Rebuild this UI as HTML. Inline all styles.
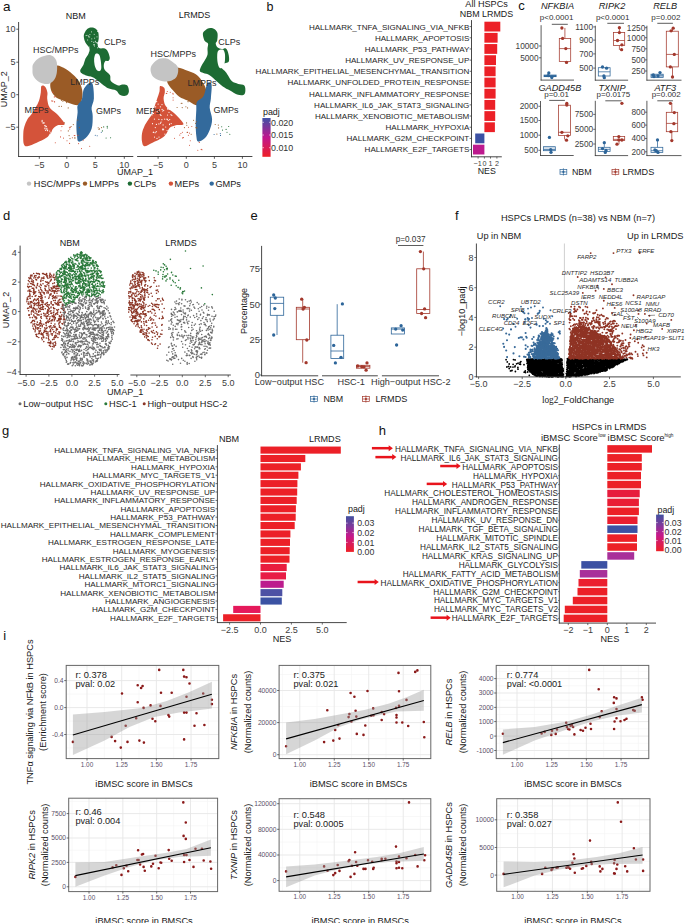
<!DOCTYPE html>
<html><head><meta charset="utf-8"><style>
html,body{margin:0;padding:0;background:#fff;}
svg{display:block;font-family:"Liberation Sans", sans-serif;}
</style></head><body>
<svg width="685" height="923" viewBox="0 0 685 923">
<rect width="685" height="923" fill="#fff"/>
<text x="3.00" y="10.60" font-size="13.5" text-anchor="start" fill="#111">a</text>
<path d="M41.4,86.1 C42.1,85.1 44.1,85.6 45.1,86.7 C46.1,87.8 47.1,90.5 47.4,92.5 C47.8,94.4 47.0,96.2 47.2,98.4 C47.4,100.6 47.9,103.5 48.6,105.4 C49.4,107.3 50.4,108.4 51.9,110.0 C53.4,111.5 55.6,112.3 57.7,114.7 C59.8,117.0 64.7,122.3 64.7,124.1 C64.7,125.9 59.6,124.4 57.7,125.2 C55.7,126.0 54.2,127.3 53.0,128.7 C51.8,130.1 51.9,131.8 50.7,133.4 C49.5,135.0 48.3,136.5 46.0,138.1 C43.7,139.6 39.8,141.4 36.7,142.7 C33.6,144.1 29.5,146.0 27.3,146.2 C25.1,146.4 24.5,146.0 23.8,143.9 C23.1,141.8 23.2,136.3 23.3,133.4 C23.4,130.5 23.7,128.7 24.4,126.4 C25.1,124.1 26.0,121.6 27.3,119.4 C28.6,117.3 30.6,115.5 32.0,113.5 C33.4,111.5 34.3,109.8 35.5,107.7 C36.7,105.6 38.1,103.2 39.0,100.7 C39.9,98.2 40.4,94.9 40.8,92.5 C41.2,90.1 40.7,87.1 41.4,86.1Z" fill="#d4533a" stroke="none" stroke-width="1"/>
<path d="M57.0,65.6 C58.7,65.3 62.9,67.3 65.8,69.1 C68.7,70.8 72.2,73.7 74.6,76.1 C76.9,78.4 78.5,80.4 79.8,83.1 C81.1,85.7 82.2,88.9 82.4,91.8 C82.7,94.7 82.3,98.4 81.6,100.6 C80.8,102.8 79.8,104.4 78.1,105.0 C76.3,105.5 73.4,104.4 71.1,103.7 C68.7,103.1 66.4,101.9 64.1,100.9 C61.7,100.0 58.9,99.2 57.0,98.0 C55.1,96.7 53.8,95.3 52.7,93.6 C51.6,91.8 50.7,89.5 50.4,87.4 C50.1,85.4 50.2,83.2 50.9,81.3 C51.6,79.4 53.5,77.8 54.4,76.1 C55.3,74.3 55.7,72.6 56.2,70.8 C56.6,69.1 55.4,65.8 57.0,65.6Z" fill="#9a5b26" stroke="none" stroke-width="1"/>
<path d="M33.4,63.8 C34.6,61.9 36.8,59.1 39.5,57.7 C42.3,56.2 47.3,54.6 50.0,55.0 C52.8,55.5 55.0,57.7 56.2,60.3 C57.3,62.9 57.3,67.6 57.0,70.8 C56.8,74.0 55.9,77.4 54.4,79.6 C53.0,81.8 50.8,83.5 48.3,83.9 C45.8,84.4 42.0,83.5 39.5,82.2 C37.0,80.9 34.6,78.3 33.4,76.1 C32.2,73.9 32.5,71.1 32.5,69.1 C32.5,67.0 32.2,65.7 33.4,63.8Z" fill="#c4c4c4" stroke="none" stroke-width="1"/>
<path d="M89.2,83.2 C90.3,83.0 91.9,81.8 92.7,84.3 C93.5,86.8 94.1,94.5 93.9,98.4 C93.7,102.3 91.8,104.8 91.6,107.7 C91.4,110.6 92.7,112.4 92.7,115.9 C92.7,119.4 92.8,125.0 91.6,128.7 C90.4,132.4 87.9,135.9 85.7,138.1 C83.6,140.2 80.2,142.0 78.7,141.6 C77.2,141.2 77.4,138.6 77.0,135.7 C76.6,132.8 76.3,127.9 76.4,124.0 C76.5,120.1 77.4,115.5 77.6,112.4 C77.8,109.3 76.9,107.5 77.6,105.4 C78.3,103.4 80.6,102.6 81.6,100.1 C82.6,97.6 82.6,92.6 83.4,90.2 C84.2,87.8 85.3,86.7 86.3,85.5 C87.3,84.3 88.1,83.4 89.2,83.2Z" fill="#336a9c" stroke="none" stroke-width="1"/>
<path d="M84.4,33.3 C85.0,31.8 86.3,29.7 87.5,28.7 C88.7,27.7 90.2,27.4 91.6,27.4 C92.9,27.4 94.6,27.9 95.7,28.7 C96.8,29.5 97.7,30.6 98.2,32.3 C98.7,33.9 98.8,36.3 98.7,38.4 C98.6,40.4 97.6,42.9 97.7,44.5 C97.8,46.1 98.0,47.4 99.2,48.1 C100.4,48.8 103.4,48.0 104.8,48.6 C106.3,49.2 107.1,50.1 107.9,51.7 C108.7,53.2 109.7,56.3 109.8,57.8 C109.8,59.3 109.2,60.4 108.4,60.9 C107.7,61.4 106.1,60.2 105.4,60.9 C104.6,61.6 103.9,63.4 103.8,65.0 C103.7,66.5 103.8,68.4 104.8,70.1 C105.9,71.8 108.9,73.3 110.0,75.2 C111.0,77.1 109.6,79.6 111.0,81.3 C112.3,83.0 116.3,84.9 118.1,85.4 C120.0,85.9 120.7,84.4 122.2,84.4 C123.8,84.4 126.2,84.2 127.3,85.4 C128.4,86.6 129.0,89.8 128.9,91.5 C128.7,93.2 127.8,95.0 126.3,95.6 C124.9,96.2 121.9,96.0 120.2,95.1 C118.5,94.3 118.0,91.6 116.1,90.5 C114.2,89.4 111.0,89.3 108.9,88.5 C106.9,87.6 105.5,86.6 103.8,85.4 C102.1,84.2 100.6,82.7 98.7,81.3 C96.8,79.9 94.8,78.2 92.6,77.2 C90.4,76.2 87.3,75.9 85.4,75.2 C83.6,74.5 82.2,74.0 81.3,73.1 C80.5,72.3 80.0,71.4 80.3,70.1 C80.7,68.7 82.5,66.8 83.4,65.0 C84.2,63.1 84.6,60.7 85.4,58.8 C86.3,57.0 87.8,55.4 88.5,53.7 C89.2,52.0 90.0,50.5 89.5,48.6 C89.0,46.7 86.4,44.4 85.4,42.5 C84.5,40.6 84.1,38.9 83.9,37.4 C83.7,35.8 83.8,34.7 84.4,33.3Z" fill="#1d6b33" stroke="none" stroke-width="1"/>
<path d="M160.1,86.1 C160.9,85.5 163.4,86.7 164.2,87.8 C165.0,88.9 164.9,90.7 164.8,92.5 C164.7,94.3 163.5,96.2 163.6,98.4 C163.7,100.6 164.3,103.5 165.4,105.4 C166.5,107.3 168.3,108.4 170.0,110.0 C171.8,111.5 173.7,112.3 175.9,114.7 C178.2,117.0 183.5,122.3 183.5,124.1 C183.5,125.9 178.2,124.6 175.9,125.2 C173.7,125.8 171.6,126.2 170.0,127.6 C168.4,129.0 167.9,131.7 166.5,133.4 C165.1,135.2 164.2,136.5 161.9,138.1 C159.6,139.6 155.4,141.4 152.5,142.7 C149.6,144.1 146.1,146.4 144.3,146.2 C142.6,146.0 142.4,143.7 142.0,141.6 C141.6,139.5 141.6,135.9 142.0,133.4 C142.4,130.9 143.3,128.5 144.3,126.4 C145.3,124.2 146.4,122.6 147.8,120.5 C149.2,118.3 151.3,116.0 152.5,113.5 C153.7,111.0 154.1,107.9 154.9,105.4 C155.7,102.9 156.4,100.7 157.2,98.4 C158.0,96.1 159.0,93.4 159.5,91.4 C160.0,89.3 159.3,86.7 160.1,86.1Z" fill="#d4533a" stroke="none" stroke-width="1"/>
<path d="M170.7,68.4 C172.3,67.2 176.0,67.2 178.8,67.7 C181.6,68.1 184.8,69.8 187.6,70.8 C190.3,71.9 193.1,72.4 195.4,74.0 C197.8,75.6 199.8,77.9 201.6,80.4 C203.3,83.0 205.4,86.1 206.0,89.2 C206.5,92.3 205.8,96.4 205.1,98.8 C204.3,101.3 203.2,103.1 201.6,104.1 C200.0,105.1 197.8,105.6 195.4,105.0 C193.1,104.4 190.2,102.0 187.6,100.6 C184.9,99.2 181.8,98.5 179.3,96.7 C176.8,95.0 174.7,92.6 172.7,90.1 C170.6,87.6 167.6,84.3 167.1,81.7 C166.5,79.0 168.5,76.5 169.2,74.3 C169.8,72.1 169.1,69.5 170.7,68.4Z" fill="#9a5b26" stroke="none" stroke-width="1"/>
<path d="M151.6,65.6 C152.8,63.5 155.3,60.6 157.8,59.4 C160.3,58.3 164.1,58.1 166.5,58.5 C169.0,59.0 170.8,60.6 172.7,62.0 C174.6,63.5 177.2,65.0 177.9,67.3 C178.7,69.6 178.1,73.9 177.0,76.1 C176.0,78.3 174.1,79.6 171.8,80.4 C169.5,81.3 166.0,81.8 163.0,81.3 C160.1,80.9 156.3,79.4 154.3,77.8 C152.2,76.2 151.2,73.7 150.8,71.7 C150.3,69.6 150.5,67.6 151.6,65.6Z" fill="#c4c4c4" stroke="none" stroke-width="1"/>
<path d="M207.4,83.2 C208.5,82.0 210.9,81.8 211.5,84.3 C212.1,86.8 211.2,94.5 210.9,98.4 C210.6,102.3 209.5,104.2 209.7,107.7 C209.9,111.2 212.1,115.7 212.1,119.4 C212.1,123.1 210.9,126.8 209.7,129.9 C208.5,133.0 206.9,136.1 205.0,138.1 C203.1,140.0 199.6,142.0 198.1,141.6 C196.7,141.2 196.7,138.6 196.3,135.7 C195.9,132.8 195.7,128.3 195.7,124.0 C195.7,119.7 196.1,113.7 196.3,110.0 C196.5,106.3 195.8,104.0 196.9,101.9 C198.0,99.8 201.3,99.0 202.7,97.2 C204.1,95.5 204.3,93.7 205.1,91.4 C205.9,89.1 206.3,84.4 207.4,83.2Z" fill="#336a9c" stroke="none" stroke-width="1"/>
<path d="M202.9,33.3 C203.2,31.5 204.8,30.6 206.0,29.7 C207.2,28.8 208.6,28.1 210.1,28.0 C211.5,27.9 213.4,28.3 214.7,29.2 C215.9,30.1 217.1,31.4 217.5,33.3 C217.9,35.2 217.5,38.7 217.2,40.4 C216.9,42.1 215.6,42.3 215.7,43.5 C215.8,44.7 216.7,46.7 217.7,47.6 C218.7,48.5 220.4,48.9 221.8,49.1 C223.2,49.3 224.8,47.8 225.9,48.6 C227.0,49.4 227.9,51.7 228.4,53.7 C229.0,55.8 229.4,59.3 229.0,60.9 C228.5,62.4 227.0,62.4 225.9,62.9 C224.8,63.4 223.0,63.1 222.3,63.9 C221.6,64.8 221.4,66.8 221.8,68.0 C222.2,69.2 223.8,69.9 224.9,71.1 C225.9,72.3 226.7,73.5 227.9,75.2 C229.1,76.9 230.3,79.9 232.0,81.3 C233.7,82.8 236.1,83.2 238.2,83.9 C240.2,84.6 243.1,84.1 244.3,85.4 C245.5,86.7 245.5,89.9 245.3,91.5 C245.1,93.1 244.6,94.6 243.3,95.1 C241.9,95.6 239.4,95.4 237.1,94.6 C234.9,93.8 232.4,91.9 230.0,90.5 C227.6,89.1 225.0,88.0 222.8,86.4 C220.6,84.9 218.9,83.2 216.7,81.3 C214.5,79.4 211.8,76.5 209.6,75.2 C207.3,73.8 205.0,73.8 203.4,73.1 C201.8,72.5 200.2,72.3 199.8,71.1 C199.5,69.9 200.6,67.7 201.4,66.0 C202.1,64.3 203.4,62.7 204.4,60.9 C205.5,59.0 207.0,56.8 207.5,54.7 C208.0,52.7 207.4,50.5 207.5,48.6 C207.6,46.7 208.5,44.9 208.0,43.5 C207.5,42.1 205.3,42.1 204.4,40.4 C203.6,38.7 202.6,35.1 202.9,33.3Z" fill="#1d6b33" stroke="none" stroke-width="1"/>
<line x1="18.60" y1="22.00" x2="18.60" y2="156.90" stroke="#333" stroke-width="0.9"/>
<line x1="18.20" y1="156.50" x2="133.30" y2="156.50" stroke="#333" stroke-width="0.9"/>
<line x1="16.30" y1="29.20" x2="18.60" y2="29.20" stroke="#333" stroke-width="0.8"/>
<text x="15.60" y="32.44" font-size="9.0" text-anchor="end" fill="#3d3d3d">10</text>
<line x1="16.30" y1="62.20" x2="18.60" y2="62.20" stroke="#333" stroke-width="0.8"/>
<text x="15.60" y="65.44" font-size="9.0" text-anchor="end" fill="#3d3d3d">5</text>
<line x1="16.30" y1="94.70" x2="18.60" y2="94.70" stroke="#333" stroke-width="0.8"/>
<text x="15.60" y="97.94" font-size="9.0" text-anchor="end" fill="#3d3d3d">0</text>
<line x1="16.30" y1="127.20" x2="18.60" y2="127.20" stroke="#333" stroke-width="0.8"/>
<text x="15.60" y="130.44" font-size="9.0" text-anchor="end" fill="#3d3d3d">−5</text>
<line x1="39.30" y1="156.50" x2="39.30" y2="158.80" stroke="#333" stroke-width="0.8"/>
<text x="39.30" y="167.94" font-size="9.0" text-anchor="middle" fill="#3d3d3d">−5</text>
<line x1="66.80" y1="156.50" x2="66.80" y2="158.80" stroke="#333" stroke-width="0.8"/>
<text x="66.80" y="167.94" font-size="9.0" text-anchor="middle" fill="#3d3d3d">0</text>
<line x1="95.30" y1="156.50" x2="95.30" y2="158.80" stroke="#333" stroke-width="0.8"/>
<text x="95.30" y="167.94" font-size="9.0" text-anchor="middle" fill="#3d3d3d">5</text>
<line x1="124.30" y1="156.50" x2="124.30" y2="158.80" stroke="#333" stroke-width="0.8"/>
<text x="124.30" y="167.94" font-size="9.0" text-anchor="middle" fill="#3d3d3d">10</text>
<line x1="137.10" y1="156.50" x2="252.40" y2="156.50" stroke="#333" stroke-width="0.9"/>
<line x1="158.10" y1="156.50" x2="158.10" y2="158.80" stroke="#333" stroke-width="0.8"/>
<text x="158.10" y="167.94" font-size="9.0" text-anchor="middle" fill="#3d3d3d">−5</text>
<line x1="186.30" y1="156.50" x2="186.30" y2="158.80" stroke="#333" stroke-width="0.8"/>
<text x="186.30" y="167.94" font-size="9.0" text-anchor="middle" fill="#3d3d3d">0</text>
<line x1="214.40" y1="156.50" x2="214.40" y2="158.80" stroke="#333" stroke-width="0.8"/>
<text x="214.40" y="167.94" font-size="9.0" text-anchor="middle" fill="#3d3d3d">5</text>
<line x1="242.40" y1="156.50" x2="242.40" y2="158.80" stroke="#333" stroke-width="0.8"/>
<text x="242.40" y="167.94" font-size="9.0" text-anchor="middle" fill="#3d3d3d">10</text>
<text x="135.00" y="174.74" font-size="9" text-anchor="middle" fill="#1a1a1a">UMAP_1</text>
<text transform="translate(4.20,89.20) rotate(-90)" x="0" y="3.24" font-size="9" text-anchor="middle" fill="#1a1a1a">UMAP_2</text>
<text x="75.70" y="18.74" font-size="9" text-anchor="middle" fill="#1a1a1a">NBM</text>
<text x="194.50" y="18.24" font-size="9" text-anchor="middle" fill="#1a1a1a">LRMDS</text>
<text x="32.90" y="53.10" font-size="9" text-anchor="start" fill="#2a2a2a">HSC/MPPs</text>
<text x="104.00" y="45.20" font-size="9" text-anchor="start" fill="#2a2a2a">CLPs</text>
<text x="70.20" y="85.00" font-size="9" text-anchor="start" fill="#2a2a2a">LMPPs</text>
<text x="24.60" y="112.80" font-size="9" text-anchor="start" fill="#2a2a2a">MEPs</text>
<text x="96.00" y="113.50" font-size="9" text-anchor="start" fill="#2a2a2a">GMPs</text>
<text x="218.20" y="45.20" font-size="9" text-anchor="start" fill="#2a2a2a">CLPs</text>
<text x="150.40" y="57.00" font-size="9" text-anchor="start" fill="#2a2a2a">HSC/MPPs</text>
<text x="187.60" y="85.50" font-size="9" text-anchor="start" fill="#2a2a2a">LMPPs</text>
<text x="135.90" y="113.50" font-size="9" text-anchor="start" fill="#2a2a2a">MEPs</text>
<text x="213.50" y="112.50" font-size="9" text-anchor="start" fill="#2a2a2a">GMPs</text>
<circle cx="29.00" cy="183.60" r="2.2" fill="#c4c4c4"/>
<text x="33.80" y="186.91" font-size="9.2" text-anchor="start" fill="#1a1a1a">HSC/MPPs</text>
<circle cx="85.00" cy="183.60" r="2.2" fill="#9a5b26"/>
<text x="89.20" y="186.91" font-size="9.2" text-anchor="start" fill="#1a1a1a">LMPPs</text>
<circle cx="129.90" cy="183.60" r="2.2" fill="#1d6b33"/>
<text x="133.70" y="186.91" font-size="9.2" text-anchor="start" fill="#1a1a1a">CLPs</text>
<circle cx="170.90" cy="183.60" r="2.2" fill="#d4533a"/>
<text x="174.60" y="186.91" font-size="9.2" text-anchor="start" fill="#1a1a1a">MEPs</text>
<circle cx="211.70" cy="183.60" r="2.2" fill="#336a9c"/>
<text x="215.40" y="186.91" font-size="9.2" text-anchor="start" fill="#1a1a1a">GMPs</text>
<path d="M60.5 136.9h0M63.5 138.1h0M69.4 127.3h0M55.3 142.7h0M61.0 130.7h0M77.9 135.4h0M74.2 135.5h0M69.7 129.0h0M69.6 143.4h0M67.0 140.8h0M70.4 127.3h0M72.4 137.8h0M61.9 126.6h0M74.9 135.5h0" stroke="#d4533a" stroke-width="1.10" stroke-linecap="round" fill="none"/>
<path d="M74.9 137.3h0M74.9 138.3h0M69.1 135.6h0M70.0 138.6h0M77.8 120.1h0M64.4 122.8h0M79.4 127.6h0M73.3 124.6h0M71.1 126.5h0M68.3 130.9h0" stroke="#9a5b26" stroke-width="1.10" stroke-linecap="round" fill="none"/>
<path d="M51.8 100.9h0M52.8 101.1h0M54.6 101.9h0M52.7 92.0h0M54.6 101.6h0M55.0 96.8h0M53.1 92.5h0M54.3 96.9h0" stroke="#d4533a" stroke-width="1.10" stroke-linecap="round" fill="none"/>
<path d="M61.4 100.5h0M68.2 107.9h0M59.1 106.4h0M62.9 101.2h0M61.5 106.2h0M68.5 100.4h0M65.4 100.4h0M66.6 102.6h0" stroke="#9a5b26" stroke-width="1.10" stroke-linecap="round" fill="none"/>
<path d="M110.6 137.8h0M106.1 138.0h0M103.7 126.9h0M107.2 126.4h0M102.4 130.9h0M107.3 127.9h0" stroke="#1d6b33" stroke-width="1.10" stroke-linecap="round" fill="none"/>
<path d="M95.3 135.2h0M97.2 135.8h0M101.3 132.3h0" stroke="#336a9c" stroke-width="1.10" stroke-linecap="round" fill="none"/>
<path d="M98.2 127.8h0M99.5 128.9h0M98.9 129.3h0M101.6 127.6h0" stroke="#9a5b26" stroke-width="1.10" stroke-linecap="round" fill="none"/>
<path d="M81.5 148.6h0M78.6 143.6h0M89.7 146.3h0M83.2 140.1h0" stroke="#d4533a" stroke-width="1.10" stroke-linecap="round" fill="none"/>
<path d="M183.5 137.6h0M174.5 138.3h0M188.5 127.2h0M188.4 135.3h0M189.6 133.1h0M190.3 140.8h0M174.5 127.2h0M189.5 145.3h0M179.8 135.1h0M187.6 132.4h0M182.4 132.3h0M182.5 137.9h0M180.9 133.5h0M191.8 126.5h0" stroke="#d4533a" stroke-width="1.10" stroke-linecap="round" fill="none"/>
<path d="M191.2 134.2h0M186.6 122.9h0M195.5 123.3h0M184.4 127.6h0M193.6 120.2h0M186.8 125.3h0M196.0 127.6h0M196.4 121.7h0M187.1 132.3h0M196.9 127.9h0" stroke="#9a5b26" stroke-width="1.10" stroke-linecap="round" fill="none"/>
<path d="M167.3 91.5h0M170.3 92.3h0M173.1 100.1h0M166.8 93.3h0M173.1 97.7h0M173.1 94.1h0M166.3 93.5h0M172.9 93.3h0" stroke="#d4533a" stroke-width="1.10" stroke-linecap="round" fill="none"/>
<path d="M181.2 103.3h0M182.0 103.3h0M188.0 101.2h0M177.1 107.5h0M187.6 107.9h0M182.2 107.6h0M188.1 101.8h0M185.9 106.7h0" stroke="#9a5b26" stroke-width="1.10" stroke-linecap="round" fill="none"/>
<path d="M227.0 132.2h0M222.5 130.1h0M221.7 126.8h0M226.1 129.4h0M228.7 126.5h0M229.8 134.3h0" stroke="#1d6b33" stroke-width="1.10" stroke-linecap="round" fill="none"/>
<path d="M220.5 135.4h0M220.3 133.5h0M214.1 134.5h0" stroke="#336a9c" stroke-width="1.10" stroke-linecap="round" fill="none"/>
<path d="M215.2 124.5h0M218.6 127.9h0M216.9 134.1h0M218.3 125.1h0" stroke="#9a5b26" stroke-width="1.10" stroke-linecap="round" fill="none"/>
<path d="M197.8 150.3h0M201.2 149.4h0M199.3 142.4h0M202.0 149.8h0" stroke="#d4533a" stroke-width="1.10" stroke-linecap="round" fill="none"/>
<path d="M218.2,50.7 C219.2,49.6 221.7,49.1 222.8,49.6 C223.9,50.1 224.5,51.8 224.9,53.7 C225.2,55.6 225.1,58.7 224.9,60.9 C224.6,63.1 224.2,65.8 223.3,67.0 C222.5,68.2 220.7,68.7 219.8,68.0 C218.8,67.3 218.1,65.0 217.7,62.9 C217.3,60.9 217.1,57.8 217.2,55.8 C217.3,53.7 217.3,51.7 218.2,50.7Z" fill="#fff" stroke="none" stroke-width="1"/>
<path d="M95.7,53.7 C96.5,53.0 98.4,53.6 99.2,54.7 C100.1,55.9 100.4,58.7 100.8,60.9 C101.1,63.1 101.4,66.3 101.3,68.0 C101.1,69.7 100.5,70.8 99.7,71.1 C99.0,71.4 97.5,71.1 96.7,70.1 C95.8,69.0 95.1,66.8 94.6,65.0 C94.2,63.1 94.0,60.7 94.1,58.8 C94.3,57.0 94.8,54.4 95.7,53.7Z" fill="#fff" stroke="none" stroke-width="1"/>
<path d="M155.3 127.6h0M164.7 119.2h0M156.3 131.7h0M168.2 120.5h0M162.1 109.4h0M152.1 114.8h0M167.9 109.3h0M156.7 101.7h0M172.0 129.5h0M169.5 124.6h0M152.7 113.2h0M162.0 104.6h0M171.0 114.7h0M155.1 132.7h0M154.5 137.1h0M161.1 122.1h0M158.9 119.4h0M155.7 101.5h0M169.3 109.4h0M167.6 108.3h0M171.4 135.8h0M167.1 130.5h0M163.6 129.2h0M154.4 119.1h0M168.5 108.0h0M170.5 135.5h0M160.2 114.6h0M161.0 115.4h0M171.9 115.5h0M152.5 103.7h0M166.4 139.7h0M161.9 119.7h0M163.0 129.9h0M156.4 124.4h0M163.1 124.9h0M155.6 106.8h0M159.0 137.1h0M158.9 123.9h0M158.1 104.1h0M153.3 132.5h0M167.5 115.0h0M165.7 127.0h0M170.0 138.3h0M160.1 139.6h0M171.2 123.6h0M169.7 119.6h0M159.5 109.9h0M169.5 106.5h0M153.4 132.2h0M167.5 119.3h0M157.2 111.6h0M160.4 106.8h0M153.4 113.5h0M170.0 139.3h0M166.9 119.2h0M157.0 138.4h0M162.5 129.1h0M152.6 108.5h0M168.8 131.8h0M169.6 124.1h0M160.5 123.2h0M169.0 112.3h0M162.7 111.0h0M165.7 138.2h0M152.5 123.7h0M164.9 134.1h0M163.7 110.3h0" stroke="#fff" stroke-width="1.20" stroke-linecap="round" fill="none"/>
<path d="M47.0 128.3h0M42.0 121.8h0M42.1 120.3h0M50.3 132.9h0M46.3 129.1h0M43.0 123.3h0M46.0 126.8h0M43.0 122.8h0M49.8 131.1h0M44.9 128.7h0M44.2 122.9h0M47.7 130.1h0M44.9 128.0h0M44.7 125.6h0M49.3 135.5h0M47.3 130.0h0M45.4 125.7h0M45.7 130.4h0M50.4 135.1h0M49.8 134.6h0M43.6 122.9h0M46.4 126.3h0M47.6 130.7h0M45.2 126.0h0M42.2 121.0h0" stroke="#fff" stroke-width="1.10" stroke-linecap="round" fill="none"/>
<path d="M94.5 44.7h0M94.7 38.2h0M88.8 36.9h0M91.8 41.4h0M97.6 31.5h0M91.8 38.9h0M94.6 46.0h0M95.4 41.3h0M95.1 42.0h0M96.3 42.6h0M94.2 34.4h0M97.0 36.9h0M93.4 44.8h0M97.6 47.8h0M86.1 35.6h0M89.7 37.0h0M87.7 40.0h0M87.0 35.4h0M97.3 43.4h0M91.5 31.9h0M97.5 42.7h0M88.5 36.0h0M93.7 42.3h0M89.1 47.1h0M89.9 34.6h0" stroke="#e8f0e8" stroke-width="1.00" stroke-linecap="round" fill="none"/>
<text x="266.50" y="10.60" font-size="12.5" text-anchor="start" fill="#111">b</text>
<defs>
<linearGradient id="padjg" x1="0" y1="0" x2="0" y2="1">
<stop offset="0" stop-color="#3f51a6"/><stop offset="0.5" stop-color="#c0168e"/><stop offset="1" stop-color="#ee2026"/>
</linearGradient></defs>
<text x="469.30" y="29.51" font-size="8.07" text-anchor="end" fill="#262626">HALLMARK_TNFA_SIGNALING_VIA_NFKB</text>
<line x1="469.60" y1="26.60" x2="471.50" y2="26.60" stroke="#333" stroke-width="0.7"/>
<rect x="484.40" y="21.70" width="15.90" height="9.80" fill="#ec2027" stroke="none" stroke-width="0.8"/>
<text x="469.30" y="40.69" font-size="8.07" text-anchor="end" fill="#262626">HALLMARK_APOPTOSIS</text>
<line x1="469.60" y1="37.78" x2="471.50" y2="37.78" stroke="#333" stroke-width="0.7"/>
<rect x="484.40" y="32.88" width="13.20" height="9.80" fill="#ec2027" stroke="none" stroke-width="0.8"/>
<text x="469.30" y="51.87" font-size="8.07" text-anchor="end" fill="#262626">HALLMARK_P53_PATHWAY</text>
<line x1="469.60" y1="48.96" x2="471.50" y2="48.96" stroke="#333" stroke-width="0.7"/>
<rect x="484.40" y="44.06" width="12.80" height="9.80" fill="#ec2027" stroke="none" stroke-width="0.8"/>
<text x="469.30" y="63.05" font-size="8.07" text-anchor="end" fill="#262626">HALLMARK_UV_RESPONSE_UP</text>
<line x1="469.60" y1="60.14" x2="471.50" y2="60.14" stroke="#333" stroke-width="0.7"/>
<rect x="484.40" y="55.24" width="11.60" height="9.80" fill="#ec2027" stroke="none" stroke-width="0.8"/>
<text x="469.30" y="74.23" font-size="8.07" text-anchor="end" fill="#262626">HALLMARK_EPITHELIAL_MESENCHYMAL_TRANSITION</text>
<line x1="469.60" y1="71.32" x2="471.50" y2="71.32" stroke="#333" stroke-width="0.7"/>
<rect x="484.40" y="66.42" width="11.20" height="9.80" fill="#ec2027" stroke="none" stroke-width="0.8"/>
<text x="469.30" y="85.41" font-size="8.07" text-anchor="end" fill="#262626">HALLMARK_UNFOLDED_PROTEIN_RESPONSE</text>
<line x1="469.60" y1="82.50" x2="471.50" y2="82.50" stroke="#333" stroke-width="0.7"/>
<rect x="484.40" y="77.60" width="11.20" height="9.80" fill="#ec2027" stroke="none" stroke-width="0.8"/>
<text x="469.30" y="96.59" font-size="8.07" text-anchor="end" fill="#262626">HALLMARK_INFLAMMATORY_RESPONSE</text>
<line x1="469.60" y1="93.68" x2="471.50" y2="93.68" stroke="#333" stroke-width="0.7"/>
<rect x="484.40" y="88.78" width="11.20" height="9.80" fill="#ec2027" stroke="none" stroke-width="0.8"/>
<text x="469.30" y="107.77" font-size="8.07" text-anchor="end" fill="#262626">HALLMARK_IL6_JAK_STAT3_SIGNALING</text>
<line x1="469.60" y1="104.86" x2="471.50" y2="104.86" stroke="#333" stroke-width="0.7"/>
<rect x="484.40" y="99.96" width="10.80" height="9.80" fill="#ec2027" stroke="none" stroke-width="0.8"/>
<text x="469.30" y="118.95" font-size="8.07" text-anchor="end" fill="#262626">HALLMARK_XENOBIOTIC_METABOLISM</text>
<line x1="469.60" y1="116.04" x2="471.50" y2="116.04" stroke="#333" stroke-width="0.7"/>
<rect x="484.40" y="111.14" width="10.80" height="9.80" fill="#ec2027" stroke="none" stroke-width="0.8"/>
<text x="469.30" y="130.13" font-size="8.07" text-anchor="end" fill="#262626">HALLMARK_HYPOXIA</text>
<line x1="469.60" y1="127.22" x2="471.50" y2="127.22" stroke="#333" stroke-width="0.7"/>
<rect x="484.40" y="122.32" width="10.50" height="9.80" fill="#ec2027" stroke="none" stroke-width="0.8"/>
<text x="469.30" y="141.31" font-size="8.07" text-anchor="end" fill="#262626">HALLMARK_G2M_CHECKPOINT</text>
<line x1="469.60" y1="138.40" x2="471.50" y2="138.40" stroke="#333" stroke-width="0.7"/>
<rect x="475.20" y="133.50" width="9.20" height="9.80" fill="#3c51a3" stroke="none" stroke-width="0.8"/>
<text x="469.30" y="152.49" font-size="8.07" text-anchor="end" fill="#262626">HALLMARK_E2F_TARGETS</text>
<line x1="469.60" y1="149.58" x2="471.50" y2="149.58" stroke="#333" stroke-width="0.7"/>
<rect x="473.00" y="144.68" width="11.40" height="9.80" fill="#bd1a8e" stroke="none" stroke-width="0.8"/>
<line x1="471.50" y1="20.10" x2="471.50" y2="157.20" stroke="#333" stroke-width="0.9"/>
<line x1="471.10" y1="156.80" x2="501.80" y2="156.80" stroke="#333" stroke-width="0.9"/>
<line x1="478.10" y1="156.80" x2="478.10" y2="158.60" stroke="#333" stroke-width="0.7"/>
<line x1="484.40" y1="156.80" x2="484.40" y2="158.60" stroke="#333" stroke-width="0.7"/>
<line x1="490.50" y1="156.80" x2="490.50" y2="158.60" stroke="#333" stroke-width="0.7"/>
<line x1="496.90" y1="156.80" x2="496.90" y2="158.60" stroke="#333" stroke-width="0.7"/>
<text x="477.70" y="165.89" font-size="7.2" text-anchor="middle" fill="#3d3d3d">−1</text>
<text x="484.60" y="165.89" font-size="7.2" text-anchor="middle" fill="#3d3d3d">0</text>
<text x="490.60" y="165.89" font-size="7.2" text-anchor="middle" fill="#3d3d3d">1</text>
<text x="497.00" y="165.89" font-size="7.2" text-anchor="middle" fill="#3d3d3d">2</text>
<text x="486.80" y="174.37" font-size="8.8" text-anchor="middle" fill="#1a1a1a">NES</text>
<text x="486.60" y="7.00" font-size="9.1" text-anchor="middle" fill="#1a1a1a">All HSPCs</text>
<text x="486.50" y="17.10" font-size="8.9" text-anchor="middle" fill="#1a1a1a">NBM LRMDS</text>
<text x="263.00" y="115.30" font-size="8.9" text-anchor="start" fill="#1a1a1a">padj</text>
<rect x="262.40" y="118.00" width="8.20" height="38.80" fill="url(#padjg)" stroke="none" stroke-width="0.8"/>
<text x="271.00" y="125.50" font-size="8.9" text-anchor="start" fill="#333">0.020</text>
<line x1="262.40" y1="122.30" x2="264.00" y2="122.30" stroke="#fff" stroke-width="0.6"/>
<line x1="269.00" y1="122.30" x2="270.60" y2="122.30" stroke="#fff" stroke-width="0.6"/>
<text x="271.00" y="138.20" font-size="8.9" text-anchor="start" fill="#333">0.015</text>
<line x1="262.40" y1="135.00" x2="264.00" y2="135.00" stroke="#fff" stroke-width="0.6"/>
<line x1="269.00" y1="135.00" x2="270.60" y2="135.00" stroke="#fff" stroke-width="0.6"/>
<text x="271.00" y="150.90" font-size="8.9" text-anchor="start" fill="#333">0.010</text>
<line x1="262.40" y1="147.70" x2="264.00" y2="147.70" stroke="#fff" stroke-width="0.6"/>
<line x1="269.00" y1="147.70" x2="270.60" y2="147.70" stroke="#fff" stroke-width="0.6"/>
<text x="518.30" y="9.90" font-size="13" text-anchor="start" fill="#111">c</text>
<text x="557.50" y="9.20" font-size="9.2" text-anchor="middle" fill="#1a1a1a" font-style="italic">NFKBIA</text>
<text x="556.60" y="19.60" font-size="8.0" text-anchor="middle" fill="#333">p&lt;0.0001</text>
<line x1="551.80" y1="24.30" x2="567.80" y2="24.30" stroke="#333" stroke-width="0.8"/>
<line x1="541.10" y1="25.20" x2="541.10" y2="80.50" stroke="#333" stroke-width="0.8"/>
<line x1="540.70" y1="80.10" x2="574.00" y2="80.10" stroke="#333" stroke-width="0.8"/>
<line x1="539.00" y1="46.00" x2="541.10" y2="46.00" stroke="#333" stroke-width="0.7"/>
<text x="538.60" y="48.99" font-size="8.3" text-anchor="end" fill="#3d3d3d">10000</text>
<line x1="539.00" y1="57.80" x2="541.10" y2="57.80" stroke="#333" stroke-width="0.7"/>
<text x="538.60" y="60.79" font-size="8.3" text-anchor="end" fill="#3d3d3d">5000</text>
<rect x="544.20" y="75.20" width="11.80" height="1.30" fill="none" stroke="#2d6599" stroke-width="1.1"/>
<line x1="544.20" y1="75.90" x2="556.00" y2="75.90" stroke="#2d6599" stroke-width="1.1"/>
<circle cx="548.80" cy="72.90" r="1.65" fill="#2d6599"/>
<circle cx="551.80" cy="77.50" r="1.65" fill="#2d6599"/>
<circle cx="548.20" cy="75.60" r="1.65" fill="#2d6599"/>
<line x1="564.90" y1="27.90" x2="564.90" y2="38.40" stroke="#a3382c" stroke-width="0.75"/>
<rect x="559.30" y="38.40" width="11.40" height="23.10" fill="none" stroke="#a3382c" stroke-width="0.75"/>
<line x1="559.30" y1="48.60" x2="570.70" y2="48.60" stroke="#a3382c" stroke-width="0.75"/>
<circle cx="561.90" cy="28.00" r="1.65" fill="#a3382c"/>
<circle cx="562.60" cy="38.40" r="1.65" fill="#a3382c"/>
<circle cx="565.80" cy="48.60" r="1.65" fill="#a3382c"/>
<circle cx="566.50" cy="62.40" r="1.65" fill="#a3382c"/>
<text x="612.00" y="8.60" font-size="9.2" text-anchor="middle" fill="#1a1a1a" font-style="italic">RIPK2</text>
<text x="612.70" y="19.50" font-size="8.0" text-anchor="middle" fill="#333">p&lt;0.0001</text>
<line x1="607.30" y1="23.30" x2="624.00" y2="23.30" stroke="#333" stroke-width="0.8"/>
<line x1="595.30" y1="25.70" x2="595.30" y2="80.60" stroke="#333" stroke-width="0.8"/>
<line x1="594.90" y1="80.20" x2="628.10" y2="80.20" stroke="#333" stroke-width="0.8"/>
<line x1="593.20" y1="26.90" x2="595.30" y2="26.90" stroke="#333" stroke-width="0.7"/>
<text x="593.00" y="29.89" font-size="8.3" text-anchor="end" fill="#3d3d3d">1100</text>
<line x1="593.20" y1="40.10" x2="595.30" y2="40.10" stroke="#333" stroke-width="0.7"/>
<text x="593.00" y="43.09" font-size="8.3" text-anchor="end" fill="#3d3d3d">900</text>
<line x1="593.20" y1="53.90" x2="595.30" y2="53.90" stroke="#333" stroke-width="0.7"/>
<text x="593.00" y="56.89" font-size="8.3" text-anchor="end" fill="#3d3d3d">700</text>
<line x1="593.20" y1="68.10" x2="595.30" y2="68.10" stroke="#333" stroke-width="0.7"/>
<text x="593.00" y="71.09" font-size="8.3" text-anchor="end" fill="#3d3d3d">500</text>
<line x1="604.20" y1="76.00" x2="604.20" y2="77.70" stroke="#2d6599" stroke-width="0.75"/>
<rect x="598.30" y="67.70" width="11.80" height="8.30" fill="none" stroke="#2d6599" stroke-width="0.75"/>
<line x1="598.30" y1="71.80" x2="610.10" y2="71.80" stroke="#2d6599" stroke-width="0.75"/>
<circle cx="602.50" cy="67.00" r="1.65" fill="#2d6599"/>
<circle cx="606.60" cy="68.20" r="1.65" fill="#2d6599"/>
<circle cx="603.90" cy="76.00" r="1.65" fill="#2d6599"/>
<circle cx="604.30" cy="77.70" r="1.65" fill="#2d6599"/>
<line x1="619.40" y1="27.70" x2="619.40" y2="32.60" stroke="#a3382c" stroke-width="0.75"/>
<line x1="619.40" y1="45.40" x2="619.40" y2="49.90" stroke="#a3382c" stroke-width="0.75"/>
<rect x="613.60" y="32.60" width="11.10" height="12.80" fill="none" stroke="#a3382c" stroke-width="0.75"/>
<line x1="613.60" y1="40.50" x2="624.70" y2="40.50" stroke="#a3382c" stroke-width="0.75"/>
<circle cx="619.40" cy="27.70" r="1.65" fill="#a3382c"/>
<circle cx="619.40" cy="32.60" r="1.65" fill="#a3382c"/>
<circle cx="617.50" cy="40.50" r="1.65" fill="#a3382c"/>
<circle cx="621.90" cy="44.80" r="1.65" fill="#a3382c"/>
<circle cx="621.60" cy="49.70" r="1.65" fill="#a3382c"/>
<text x="665.20" y="8.60" font-size="9.2" text-anchor="middle" fill="#1a1a1a" font-style="italic">RELB</text>
<text x="665.90" y="19.50" font-size="8.0" text-anchor="middle" fill="#333">p=0.002</text>
<line x1="657.30" y1="23.30" x2="672.90" y2="23.30" stroke="#333" stroke-width="0.8"/>
<line x1="646.90" y1="25.70" x2="646.90" y2="80.60" stroke="#333" stroke-width="0.8"/>
<line x1="646.50" y1="80.20" x2="681.50" y2="80.20" stroke="#333" stroke-width="0.8"/>
<line x1="644.80" y1="27.70" x2="646.90" y2="27.70" stroke="#333" stroke-width="0.7"/>
<text x="645.30" y="30.69" font-size="8.3" text-anchor="end" fill="#3d3d3d">1250</text>
<line x1="644.80" y1="37.70" x2="646.90" y2="37.70" stroke="#333" stroke-width="0.7"/>
<text x="645.30" y="40.69" font-size="8.3" text-anchor="end" fill="#3d3d3d">1000</text>
<line x1="644.80" y1="48.80" x2="646.90" y2="48.80" stroke="#333" stroke-width="0.7"/>
<text x="645.30" y="51.79" font-size="8.3" text-anchor="end" fill="#3d3d3d">750</text>
<line x1="644.80" y1="59.90" x2="646.90" y2="59.90" stroke="#333" stroke-width="0.7"/>
<text x="645.30" y="62.89" font-size="8.3" text-anchor="end" fill="#3d3d3d">500</text>
<line x1="644.80" y1="71.00" x2="646.90" y2="71.00" stroke="#333" stroke-width="0.7"/>
<text x="645.30" y="73.99" font-size="8.3" text-anchor="end" fill="#3d3d3d">250</text>
<rect x="651.00" y="74.20" width="12.20" height="3.20" fill="#c9d8e8" stroke="#2d6599" stroke-width="0.75"/>
<line x1="651.00" y1="75.80" x2="663.20" y2="75.80" stroke="#2d6599" stroke-width="0.75"/>
<circle cx="653.30" cy="75.00" r="1.65" fill="#2d6599"/>
<circle cx="654.00" cy="76.60" r="1.65" fill="#2d6599"/>
<circle cx="660.00" cy="72.60" r="1.65" fill="#2d6599"/>
<circle cx="658.00" cy="76.00" r="1.65" fill="#2d6599"/>
<line x1="672.50" y1="28.40" x2="672.50" y2="31.20" stroke="#a3382c" stroke-width="0.75"/>
<line x1="672.50" y1="66.90" x2="672.50" y2="77.00" stroke="#a3382c" stroke-width="0.75"/>
<rect x="666.30" y="31.20" width="12.00" height="35.70" fill="none" stroke="#a3382c" stroke-width="0.75"/>
<line x1="666.30" y1="54.40" x2="678.30" y2="54.40" stroke="#a3382c" stroke-width="0.75"/>
<circle cx="673.20" cy="28.20" r="1.65" fill="#a3382c"/>
<circle cx="671.10" cy="30.80" r="1.65" fill="#a3382c"/>
<circle cx="674.30" cy="54.40" r="1.65" fill="#a3382c"/>
<circle cx="670.40" cy="66.90" r="1.65" fill="#a3382c"/>
<circle cx="672.50" cy="77.00" r="1.65" fill="#a3382c"/>
<text x="559.90" y="90.80" font-size="9.2" text-anchor="middle" fill="#1a1a1a" font-style="italic">GADD45B</text>
<text x="556.60" y="97.00" font-size="8.0" text-anchor="middle" fill="#333">p=0.01</text>
<line x1="549.20" y1="100.40" x2="564.90" y2="100.40" stroke="#333" stroke-width="0.8"/>
<line x1="540.50" y1="101.00" x2="540.50" y2="155.90" stroke="#333" stroke-width="0.8"/>
<line x1="540.10" y1="155.50" x2="573.70" y2="155.50" stroke="#333" stroke-width="0.8"/>
<line x1="538.40" y1="106.30" x2="540.50" y2="106.30" stroke="#333" stroke-width="0.7"/>
<text x="538.20" y="109.29" font-size="8.3" text-anchor="end" fill="#3d3d3d">2000</text>
<line x1="538.40" y1="120.50" x2="540.50" y2="120.50" stroke="#333" stroke-width="0.7"/>
<text x="538.20" y="123.49" font-size="8.3" text-anchor="end" fill="#3d3d3d">1500</text>
<line x1="538.40" y1="135.20" x2="540.50" y2="135.20" stroke="#333" stroke-width="0.7"/>
<text x="538.20" y="138.19" font-size="8.3" text-anchor="end" fill="#3d3d3d">1000</text>
<line x1="538.40" y1="150.30" x2="540.50" y2="150.30" stroke="#333" stroke-width="0.7"/>
<text x="538.20" y="153.29" font-size="8.3" text-anchor="end" fill="#3d3d3d">500</text>
<rect x="543.50" y="146.70" width="11.80" height="4.00" fill="#d5e1ec" stroke="#2d6599" stroke-width="0.75"/>
<line x1="543.50" y1="149.60" x2="555.30" y2="149.60" stroke="#2d6599" stroke-width="0.75"/>
<circle cx="549.40" cy="137.40" r="1.65" fill="#2d6599"/>
<circle cx="550.70" cy="149.60" r="1.65" fill="#2d6599"/>
<circle cx="551.00" cy="152.30" r="1.65" fill="#2d6599"/>
<line x1="564.50" y1="135.40" x2="564.50" y2="139.50" stroke="#a3382c" stroke-width="0.75"/>
<rect x="558.40" y="105.20" width="12.00" height="30.20" fill="none" stroke="#a3382c" stroke-width="0.75"/>
<line x1="558.40" y1="132.30" x2="570.40" y2="132.30" stroke="#a3382c" stroke-width="0.75"/>
<circle cx="566.80" cy="103.40" r="1.65" fill="#a3382c"/>
<circle cx="566.80" cy="105.00" r="1.65" fill="#a3382c"/>
<circle cx="561.90" cy="132.30" r="1.65" fill="#a3382c"/>
<circle cx="567.80" cy="135.80" r="1.65" fill="#a3382c"/>
<circle cx="566.50" cy="140.20" r="1.65" fill="#a3382c"/>
<text x="612.00" y="90.80" font-size="9.2" text-anchor="middle" fill="#1a1a1a" font-style="italic">TXNIP</text>
<text x="613.40" y="97.00" font-size="8.0" text-anchor="middle" fill="#333">p=0.0175</text>
<line x1="605.30" y1="100.80" x2="621.60" y2="100.80" stroke="#333" stroke-width="0.8"/>
<line x1="595.30" y1="100.80" x2="595.30" y2="156.00" stroke="#333" stroke-width="0.8"/>
<line x1="594.90" y1="155.60" x2="628.10" y2="155.60" stroke="#333" stroke-width="0.8"/>
<line x1="593.20" y1="114.40" x2="595.30" y2="114.40" stroke="#333" stroke-width="0.7"/>
<text x="593.20" y="117.39" font-size="8.3" text-anchor="end" fill="#3d3d3d">7500</text>
<line x1="593.20" y1="129.30" x2="595.30" y2="129.30" stroke="#333" stroke-width="0.7"/>
<text x="593.20" y="132.29" font-size="8.3" text-anchor="end" fill="#3d3d3d">5000</text>
<line x1="593.20" y1="144.00" x2="595.30" y2="144.00" stroke="#333" stroke-width="0.7"/>
<text x="593.20" y="146.99" font-size="8.3" text-anchor="end" fill="#3d3d3d">2500</text>
<line x1="604.30" y1="142.70" x2="604.30" y2="147.30" stroke="#2d6599" stroke-width="0.75"/>
<rect x="598.30" y="147.30" width="11.80" height="4.10" fill="none" stroke="#2d6599" stroke-width="0.75"/>
<line x1="598.30" y1="149.30" x2="610.10" y2="149.30" stroke="#2d6599" stroke-width="0.75"/>
<circle cx="604.30" cy="142.70" r="1.65" fill="#2d6599"/>
<circle cx="602.50" cy="148.60" r="1.65" fill="#2d6599"/>
<circle cx="606.00" cy="150.50" r="1.65" fill="#2d6599"/>
<circle cx="605.30" cy="152.40" r="1.65" fill="#2d6599"/>
<line x1="619.00" y1="140.60" x2="619.00" y2="144.30" stroke="#a3382c" stroke-width="0.75"/>
<rect x="613.30" y="136.60" width="11.40" height="4.00" fill="none" stroke="#a3382c" stroke-width="0.75"/>
<line x1="613.30" y1="139.40" x2="624.70" y2="139.40" stroke="#a3382c" stroke-width="0.75"/>
<circle cx="621.90" cy="103.30" r="1.65" fill="#a3382c"/>
<circle cx="618.80" cy="136.60" r="1.65" fill="#a3382c"/>
<circle cx="618.80" cy="139.90" r="1.65" fill="#a3382c"/>
<circle cx="621.90" cy="140.00" r="1.65" fill="#a3382c"/>
<circle cx="617.00" cy="144.20" r="1.65" fill="#a3382c"/>
<text x="665.30" y="90.80" font-size="9.2" text-anchor="middle" fill="#1a1a1a" font-style="italic">ATF3</text>
<text x="666.20" y="97.00" font-size="8.0" text-anchor="middle" fill="#333">p=0.002</text>
<line x1="657.30" y1="100.80" x2="672.90" y2="100.80" stroke="#333" stroke-width="0.8"/>
<line x1="646.90" y1="100.80" x2="646.90" y2="156.00" stroke="#333" stroke-width="0.8"/>
<line x1="646.50" y1="155.60" x2="681.50" y2="155.60" stroke="#333" stroke-width="0.8"/>
<line x1="644.80" y1="112.20" x2="646.90" y2="112.20" stroke="#333" stroke-width="0.7"/>
<text x="645.30" y="115.19" font-size="8.3" text-anchor="end" fill="#3d3d3d">800</text>
<line x1="644.80" y1="125.10" x2="646.90" y2="125.10" stroke="#333" stroke-width="0.7"/>
<text x="645.30" y="128.09" font-size="8.3" text-anchor="end" fill="#3d3d3d">600</text>
<line x1="644.80" y1="138.50" x2="646.90" y2="138.50" stroke="#333" stroke-width="0.7"/>
<text x="645.30" y="141.49" font-size="8.3" text-anchor="end" fill="#3d3d3d">400</text>
<line x1="644.80" y1="151.80" x2="646.90" y2="151.80" stroke="#333" stroke-width="0.7"/>
<text x="645.30" y="154.79" font-size="8.3" text-anchor="end" fill="#3d3d3d">200</text>
<line x1="657.50" y1="139.90" x2="657.50" y2="147.30" stroke="#2d6599" stroke-width="0.75"/>
<rect x="651.00" y="147.30" width="11.80" height="5.10" fill="none" stroke="#2d6599" stroke-width="0.75"/>
<line x1="651.00" y1="150.70" x2="662.80" y2="150.70" stroke="#2d6599" stroke-width="0.75"/>
<circle cx="657.50" cy="139.90" r="1.65" fill="#2d6599"/>
<circle cx="654.90" cy="150.00" r="1.65" fill="#2d6599"/>
<circle cx="656.30" cy="150.70" r="1.65" fill="#2d6599"/>
<circle cx="658.00" cy="152.40" r="1.65" fill="#2d6599"/>
<line x1="671.80" y1="103.30" x2="671.80" y2="112.30" stroke="#a3382c" stroke-width="0.75"/>
<line x1="671.80" y1="131.70" x2="671.80" y2="140.60" stroke="#a3382c" stroke-width="0.75"/>
<rect x="666.30" y="112.30" width="11.40" height="19.40" fill="none" stroke="#a3382c" stroke-width="0.75"/>
<line x1="666.30" y1="123.40" x2="677.70" y2="123.40" stroke="#a3382c" stroke-width="0.75"/>
<circle cx="670.40" cy="103.30" r="1.65" fill="#a3382c"/>
<circle cx="674.30" cy="112.60" r="1.65" fill="#a3382c"/>
<circle cx="673.90" cy="123.70" r="1.65" fill="#a3382c"/>
<circle cx="670.90" cy="131.70" r="1.65" fill="#a3382c"/>
<circle cx="671.80" cy="140.60" r="1.65" fill="#a3382c"/>
<line x1="563.40" y1="168.30" x2="563.40" y2="175.50" stroke="#2d6599" stroke-width="0.7"/>
<rect x="560.00" y="169.50" width="6.80" height="4.80" fill="none" stroke="#2d6599" stroke-width="0.7"/>
<line x1="560.00" y1="171.90" x2="566.80" y2="171.90" stroke="#2d6599" stroke-width="0.7"/>
<circle cx="563.40" cy="171.90" r="1.1" fill="#2d6599"/>
<text x="571.90" y="175.10" font-size="8.9" text-anchor="start" fill="#1a1a1a">NBM</text>
<line x1="615.40" y1="168.30" x2="615.40" y2="175.50" stroke="#a3382c" stroke-width="0.7"/>
<rect x="612.00" y="169.50" width="6.80" height="4.80" fill="none" stroke="#a3382c" stroke-width="0.7"/>
<line x1="612.00" y1="171.90" x2="618.80" y2="171.90" stroke="#a3382c" stroke-width="0.7"/>
<circle cx="615.40" cy="171.90" r="1.1" fill="#a3382c"/>
<text x="622.40" y="175.18" font-size="9.1" text-anchor="start" fill="#1a1a1a">LRMDS</text>
<text x="3.00" y="220.20" font-size="13" text-anchor="start" fill="#111">d</text>
<path d="M44.2 315.8h0M62.7 308.5h0M46.4 318.0h0M33.7 312.1h0M51.2 333.9h0M30.2 295.9h0M53.7 275.7h0M52.1 320.1h0M47.2 277.0h0M33.9 291.2h0M27.6 308.4h0M43.7 337.7h0M46.8 322.1h0M46.1 323.8h0M44.4 294.0h0M59.4 327.3h0M38.8 290.2h0M37.8 277.9h0M56.5 303.5h0M59.7 302.4h0M62.2 308.9h0M57.0 293.3h0M29.9 298.2h0M31.1 291.5h0M30.4 277.1h0M57.7 286.2h0M48.4 307.1h0M33.9 329.2h0M31.6 322.3h0M31.0 305.0h0M34.8 293.3h0M34.7 303.0h0M60.0 322.2h0M34.8 292.4h0M56.8 297.9h0M38.1 278.1h0M30.0 317.6h0M36.0 319.0h0M41.0 307.6h0M64.1 309.9h0M49.0 339.6h0M33.6 284.4h0M36.2 287.1h0M55.5 345.3h0M61.1 319.2h0M43.0 280.5h0M35.8 327.1h0M36.5 336.3h0M49.9 295.2h0M33.3 328.3h0M29.2 290.1h0M48.4 338.5h0M50.6 294.1h0M43.9 277.1h0M33.4 301.0h0M48.9 282.6h0M53.6 317.7h0M32.0 275.1h0M54.0 347.1h0M45.4 329.1h0M29.4 314.8h0M55.4 342.2h0M55.4 327.0h0M40.3 325.5h0M42.8 333.7h0M60.3 316.8h0M51.0 302.1h0M49.3 319.6h0M55.0 302.5h0M55.3 317.5h0M43.7 337.4h0M45.3 290.3h0M53.9 311.0h0M50.6 343.8h0M36.5 273.3h0M38.3 325.0h0M34.4 285.6h0M62.0 323.6h0M43.8 341.6h0M39.3 324.1h0M34.2 305.8h0M61.0 302.2h0M49.3 297.0h0M31.8 310.9h0M54.4 346.1h0M37.3 285.5h0M44.1 293.7h0M34.9 304.5h0M51.0 310.7h0M38.8 337.5h0M54.3 316.7h0M38.6 333.8h0M44.3 274.3h0M59.0 290.8h0M32.0 276.0h0M51.1 307.0h0M51.2 323.2h0M53.3 287.9h0M45.1 286.3h0M54.5 286.3h0M37.1 299.2h0M53.8 312.8h0M50.6 331.1h0M41.9 333.8h0M31.6 307.6h0M51.0 343.0h0M41.2 316.5h0M63.5 308.4h0M52.0 288.3h0M54.8 335.9h0M51.6 328.1h0M47.5 333.7h0M60.0 299.4h0M29.7 306.6h0M48.1 332.0h0M45.6 274.6h0M57.8 285.8h0M39.6 333.5h0M32.0 283.9h0M46.7 328.5h0M59.4 325.9h0M63.6 310.6h0M35.1 313.3h0M37.8 328.9h0M51.5 313.0h0M59.6 315.8h0M38.7 302.0h0M64.5 313.1h0M48.9 288.0h0M47.5 311.4h0M50.2 274.6h0M64.5 312.4h0M42.2 334.5h0M48.5 310.5h0M53.6 277.5h0M47.6 304.5h0M37.0 309.1h0M31.4 306.0h0M45.2 297.0h0M34.0 320.3h0M34.1 290.0h0M53.4 297.4h0M40.4 320.5h0M31.3 312.0h0M36.3 287.7h0M47.3 306.3h0M41.2 304.5h0M47.2 284.8h0M34.5 321.4h0M51.5 313.5h0M59.9 319.8h0M55.5 335.3h0M35.9 328.8h0M36.6 279.9h0M59.1 305.1h0M57.5 282.2h0M42.3 325.6h0M53.2 343.1h0M46.3 331.2h0M46.2 325.6h0M33.9 277.9h0M30.6 275.3h0M48.1 312.3h0M48.8 283.8h0M33.7 288.2h0M44.6 331.7h0M39.3 308.6h0M46.7 305.8h0M50.0 273.4h0M54.0 337.9h0M33.6 307.6h0M55.5 303.8h0M34.1 285.2h0M46.6 273.6h0M54.1 339.2h0M51.2 303.8h0M50.0 311.5h0M55.7 332.7h0M58.4 303.9h0M53.7 331.9h0M56.5 303.9h0M54.8 277.9h0M39.9 308.8h0M26.9 300.0h0M51.5 320.8h0M52.6 298.6h0M52.3 316.6h0M47.4 302.6h0M54.0 331.5h0M50.6 329.7h0M36.5 303.6h0M28.4 287.6h0M41.2 280.0h0M48.0 311.8h0M64.4 316.5h0M49.9 331.3h0M32.7 309.0h0M33.1 310.8h0M50.4 276.9h0M63.5 305.0h0M47.1 318.8h0M40.8 294.6h0M52.2 315.9h0M37.6 328.0h0M38.1 273.5h0M36.1 275.7h0M55.8 276.3h0M43.3 309.4h0M54.8 308.7h0M50.1 281.3h0M51.0 307.7h0M34.5 276.4h0M47.2 282.1h0M43.8 324.2h0M44.3 292.7h0M49.3 304.9h0M57.0 313.6h0M55.3 290.9h0M57.2 320.9h0M40.6 293.5h0M53.3 316.2h0M49.7 321.5h0M56.0 287.1h0M37.1 305.4h0M50.9 280.4h0M47.7 278.0h0M48.1 321.4h0M41.1 309.5h0M34.7 299.1h0M55.7 337.4h0M29.4 281.7h0M58.2 320.8h0M56.6 288.9h0M43.1 292.4h0M58.2 301.0h0M52.1 349.1h0M39.2 315.0h0M55.7 343.8h0M43.2 301.0h0M29.5 278.8h0M48.6 310.0h0M53.3 295.6h0M56.9 278.3h0M34.8 323.8h0M29.7 296.0h0M54.9 326.2h0M37.6 283.5h0M40.5 328.7h0M40.8 281.5h0M54.3 316.6h0M62.3 306.4h0M58.0 296.0h0M38.9 303.4h0M36.2 300.5h0M40.8 300.6h0M42.0 302.5h0M34.1 316.1h0M57.7 314.3h0M59.3 316.1h0M47.8 316.4h0M64.4 322.9h0M47.9 333.5h0M29.8 278.7h0M55.4 342.1h0M51.9 291.4h0M35.1 331.8h0M46.9 331.7h0M41.9 298.6h0M45.8 314.1h0M54.7 327.3h0M62.4 304.3h0M58.9 324.1h0M64.0 322.1h0M47.0 327.5h0M57.9 305.1h0M43.0 283.7h0M41.2 285.4h0M34.5 305.4h0M28.8 296.3h0M31.0 322.7h0M56.9 286.3h0M28.9 308.0h0M49.4 342.9h0M33.7 289.3h0M35.7 328.0h0M49.8 289.8h0M33.7 294.2h0M38.7 314.9h0M58.5 309.6h0M62.3 298.9h0M45.4 289.5h0M57.9 302.3h0M47.2 312.4h0M52.3 290.8h0M41.0 334.2h0M54.4 319.4h0M32.6 284.6h0M39.1 292.5h0M60.6 312.4h0M36.9 313.9h0M29.7 293.3h0M54.6 279.9h0M45.3 308.8h0M63.9 317.9h0M60.1 296.0h0M57.4 304.7h0M58.9 288.6h0M47.8 313.2h0M38.7 296.5h0M29.4 296.1h0M44.8 327.9h0M40.6 325.7h0M30.6 303.0h0M59.0 323.1h0M26.9 301.7h0M54.3 290.8h0M48.6 307.9h0M57.8 288.4h0M50.6 294.9h0M41.2 314.3h0M38.2 298.6h0M41.8 324.1h0M36.5 287.9h0M55.2 298.0h0M63.5 316.1h0M54.9 298.1h0M32.0 279.7h0M53.0 327.3h0M33.5 303.6h0M59.3 318.4h0M30.0 290.0h0M32.6 282.0h0M42.4 278.0h0M62.6 305.5h0M46.5 322.6h0M56.5 336.1h0M41.6 298.1h0M42.6 273.6h0M42.2 326.7h0M52.4 319.6h0M27.2 298.1h0M39.9 322.9h0M30.6 301.7h0M46.4 333.6h0M58.8 319.8h0M61.9 314.9h0M40.3 311.2h0M65.2 312.4h0M54.5 337.2h0M51.1 287.8h0M29.7 291.4h0M49.1 326.5h0M40.6 308.3h0M47.8 315.9h0M48.4 292.9h0M58.5 319.1h0M35.9 316.9h0M59.1 286.8h0M48.0 278.3h0M27.7 286.4h0M52.3 296.3h0M52.8 329.6h0M41.4 318.3h0M34.3 308.7h0M32.1 302.4h0M48.8 285.9h0M46.9 292.9h0M48.7 298.2h0M51.6 275.3h0M52.8 283.6h0M64.1 318.9h0M44.9 304.3h0M50.9 325.9h0M56.2 330.7h0M42.5 306.1h0M48.7 342.6h0M47.1 313.1h0M39.0 276.6h0M54.9 342.2h0M55.2 318.7h0M56.0 296.0h0M49.7 277.8h0M31.3 307.1h0M46.2 303.2h0M47.1 291.0h0M38.5 303.1h0M35.7 277.7h0M52.6 339.6h0M43.0 334.9h0M35.2 330.3h0M48.7 342.5h0M31.3 314.1h0M36.0 295.6h0M39.2 277.3h0M42.0 300.1h0M49.4 276.0h0M38.5 311.1h0M45.0 288.4h0M59.3 299.9h0M45.0 285.7h0M34.4 321.5h0M28.4 280.6h0M54.9 296.7h0M54.4 282.9h0M53.8 345.1h0M43.9 278.5h0M35.2 296.2h0M54.3 287.6h0M33.6 290.7h0M52.5 333.7h0M41.1 323.8h0M61.2 318.2h0M35.4 295.7h0M62.8 324.1h0M37.3 322.0h0M43.7 313.4h0M47.3 275.9h0M50.0 294.5h0M36.3 334.7h0M29.9 294.5h0M56.1 291.5h0M37.4 314.9h0M44.6 330.6h0M46.1 286.4h0M48.3 322.4h0M40.6 323.5h0M57.2 312.5h0M46.3 338.0h0M53.3 312.8h0M57.0 285.2h0M50.3 290.7h0M43.7 332.4h0M57.3 333.8h0M35.7 310.3h0M35.1 317.4h0M46.0 275.1h0M49.9 327.8h0M48.9 340.1h0M33.5 284.2h0M43.5 306.7h0M36.8 334.3h0M48.8 314.5h0M57.5 290.9h0M32.2 296.5h0M28.1 296.8h0M50.8 313.2h0M36.8 318.1h0M33.2 292.2h0M32.7 326.0h0M59.1 333.4h0M28.9 304.3h0M40.8 289.2h0M45.7 331.4h0M44.3 330.2h0M28.0 291.1h0M41.9 295.5h0M43.1 278.3h0M56.4 329.3h0M35.5 292.0h0M48.1 291.2h0M40.7 298.5h0M65.0 319.8h0M28.0 303.7h0M52.0 276.9h0M39.9 326.3h0M60.4 318.2h0M61.2 308.3h0M41.9 337.8h0M41.4 333.0h0M34.9 299.4h0M33.7 315.0h0M32.9 288.2h0M34.9 308.7h0M38.6 307.1h0M41.5 278.1h0M53.6 300.5h0M37.2 273.8h0M33.6 292.8h0M54.5 293.2h0M40.6 284.3h0M56.5 328.5h0M39.1 302.2h0M39.2 332.2h0M46.8 276.7h0M41.9 290.9h0M28.1 284.1h0M49.8 274.9h0M38.7 305.3h0M47.8 283.0h0M54.2 292.6h0M54.9 324.1h0M32.2 288.3h0M37.5 327.7h0M42.4 302.4h0M37.9 299.2h0M34.9 275.6h0M48.7 335.1h0M52.8 343.7h0M34.9 325.9h0M52.6 346.5h0M51.3 279.4h0M43.2 302.8h0M28.8 302.1h0M39.3 311.0h0M37.4 284.7h0M42.2 309.3h0M33.0 324.0h0M35.9 279.6h0M39.9 305.2h0M32.4 317.6h0M54.0 315.3h0M53.9 274.2h0M41.8 300.7h0M28.9 303.8h0M28.6 310.8h0M49.4 308.8h0M39.2 292.1h0M27.4 299.3h0M61.4 316.3h0M36.7 324.2h0M33.8 308.8h0M50.6 346.4h0M40.7 317.1h0M51.1 320.6h0M42.6 304.6h0M37.3 336.7h0M61.0 302.0h0M31.8 311.7h0M38.6 300.4h0M34.0 290.1h0M53.1 290.6h0M41.9 291.0h0M45.8 322.8h0M48.0 320.8h0M48.5 336.9h0M38.8 327.9h0M53.7 325.7h0M32.7 320.6h0M45.7 316.1h0M41.0 294.6h0M55.8 313.8h0M35.8 291.7h0M39.2 286.2h0M46.6 282.2h0M28.9 277.7h0M30.9 307.4h0M56.8 309.7h0M36.4 311.8h0M57.7 302.8h0M54.5 291.9h0M54.5 297.8h0M39.6 331.3h0M48.7 305.0h0M54.2 320.7h0M59.1 334.5h0M31.4 301.6h0M52.7 290.3h0M33.7 273.5h0M49.4 345.4h0M53.4 304.9h0M51.2 303.2h0M31.1 275.7h0M37.7 329.1h0M39.4 274.5h0M47.7 309.9h0M41.1 296.4h0M57.9 337.5h0M37.6 302.8h0M50.7 331.8h0M53.7 314.7h0M57.9 283.8h0M33.3 280.7h0M45.6 281.7h0M39.2 273.9h0M48.7 283.5h0M51.0 293.7h0M35.4 309.8h0M40.8 292.5h0M61.5 296.4h0M29.5 286.6h0M45.5 304.6h0M58.1 303.1h0M28.7 315.1h0M52.2 320.7h0M43.8 337.1h0M54.9 286.0h0M31.1 278.2h0M40.5 330.9h0M38.6 312.3h0M47.1 335.2h0M57.5 329.4h0M42.1 334.7h0M58.9 331.9h0M54.1 291.8h0M49.1 290.0h0M41.7 301.1h0M52.2 335.3h0M40.8 321.9h0M40.4 294.1h0M30.2 298.4h0M55.6 288.8h0M55.6 314.8h0M53.1 286.2h0M30.6 283.5h0M40.2 305.8h0M42.3 297.3h0M39.0 330.9h0M35.1 304.1h0M54.2 286.2h0M37.2 324.9h0M33.7 300.1h0M51.4 301.7h0M51.7 288.9h0M50.6 341.2h0M60.1 321.2h0M46.3 316.4h0M53.5 307.6h0M52.6 304.9h0M41.6 290.2h0M50.0 316.8h0M46.7 274.9h0M51.1 307.1h0M49.7 318.5h0M55.4 296.7h0M42.2 339.7h0M45.7 290.6h0M59.4 322.8h0M57.8 312.1h0M60.6 327.6h0M36.3 335.0h0M44.3 314.0h0M37.4 322.3h0M29.3 315.5h0M57.3 310.5h0M35.9 334.5h0M60.0 332.2h0M48.0 342.6h0M57.7 284.2h0M40.8 280.2h0M27.9 299.2h0M31.1 286.5h0M41.7 338.3h0M50.7 342.3h0M34.6 321.2h0M60.9 328.8h0M34.2 324.2h0M43.4 273.6h0M39.8 296.9h0M51.2 294.0h0M50.1 326.3h0M33.5 282.3h0M53.7 308.6h0M31.5 281.4h0M63.4 319.7h0M40.5 287.6h0M55.3 300.4h0M38.6 304.1h0M32.2 321.4h0M43.1 336.0h0M42.5 307.8h0" stroke="#8c3626" stroke-width="1.60" stroke-linecap="round" fill="none"/>
<path d="M87.9 362.2h0M79.2 345.3h0M73.1 336.4h0M75.8 357.3h0M75.9 356.0h0M97.3 327.6h0M111.3 322.8h0M100.9 338.0h0M84.8 299.8h0M83.2 315.2h0M84.4 363.1h0M76.3 344.7h0M97.0 312.6h0M82.7 304.6h0M109.2 313.1h0M83.2 319.5h0M92.6 334.1h0M65.7 359.0h0M65.1 321.1h0M80.7 346.7h0M96.9 319.7h0M61.5 340.3h0M85.9 321.0h0M85.7 317.7h0M96.9 338.3h0M105.6 341.5h0M63.9 328.1h0M82.2 341.9h0M72.2 365.7h0M71.7 321.5h0M68.0 323.3h0M100.8 301.2h0M69.4 341.4h0M94.3 348.0h0M74.1 353.0h0M100.2 350.4h0M66.8 328.6h0M89.6 333.2h0M66.3 351.4h0M76.7 331.3h0M67.0 335.6h0M88.3 316.1h0M102.8 312.8h0M82.9 299.1h0M72.1 327.4h0M90.8 327.9h0M106.8 306.2h0M113.3 332.6h0M82.5 338.8h0M82.8 296.0h0M68.6 353.5h0M100.4 345.9h0M68.8 333.0h0M76.7 364.0h0M95.4 355.5h0M64.5 313.8h0M66.3 360.6h0M78.2 330.0h0M96.0 358.3h0M112.0 335.6h0M87.6 359.5h0M81.8 316.5h0M100.7 313.6h0M80.4 325.8h0M86.3 320.7h0M83.8 327.3h0M62.9 354.7h0M63.6 332.8h0M90.2 323.7h0M72.4 302.3h0M80.6 317.6h0M86.7 311.6h0M101.2 329.9h0M92.7 363.6h0M80.2 337.8h0M80.4 316.7h0M93.6 337.2h0M77.5 330.6h0M88.5 348.9h0M74.0 314.4h0M103.8 325.5h0M107.3 323.8h0M75.9 343.6h0M105.7 318.6h0M77.6 353.5h0M103.4 340.9h0M63.3 349.6h0M62.8 339.7h0M90.4 361.2h0M95.2 296.8h0M92.0 295.6h0M100.6 325.0h0M103.0 326.6h0M101.4 322.1h0M84.7 326.3h0M66.7 318.0h0M100.4 300.3h0M66.6 354.6h0M96.7 334.2h0M66.4 303.6h0M77.2 363.1h0M90.9 360.9h0M71.8 324.7h0M89.6 354.9h0M67.0 357.4h0M86.1 297.5h0M83.9 322.1h0M97.1 361.3h0M87.2 344.3h0M81.5 350.6h0M66.0 348.0h0M69.3 336.9h0M71.3 319.9h0M69.2 320.1h0M92.6 332.2h0M81.5 336.1h0M106.3 320.7h0M92.2 329.4h0M98.4 311.8h0M74.5 347.2h0M91.7 313.5h0M63.7 353.9h0M80.9 346.2h0M83.9 339.2h0M90.9 364.7h0M110.0 327.7h0M86.9 311.7h0M101.4 302.5h0M77.0 355.5h0M62.1 344.9h0M91.3 334.5h0M78.5 306.0h0M104.3 302.2h0M103.1 310.8h0M71.1 333.3h0M93.6 303.8h0M102.1 336.7h0M98.0 321.1h0M76.1 356.3h0M100.0 314.1h0M89.6 313.3h0M76.3 313.2h0M67.4 329.7h0M75.1 315.5h0M75.4 331.5h0M93.6 333.9h0M100.4 333.3h0M96.3 360.6h0M102.7 313.7h0M80.1 351.2h0M73.0 327.4h0M80.5 347.1h0M111.9 331.2h0M91.2 320.0h0M72.9 362.8h0M66.3 362.2h0M96.2 300.3h0M91.2 303.7h0M96.7 300.0h0M61.8 335.9h0M107.0 351.1h0M88.8 300.7h0M89.1 308.4h0M89.1 320.4h0M87.5 309.3h0M98.8 324.9h0M86.8 300.8h0M86.9 334.9h0M67.6 316.6h0M78.6 345.2h0M92.6 344.0h0M93.8 338.9h0M88.6 363.5h0M105.6 344.2h0M88.7 336.5h0M101.7 352.7h0M105.8 324.2h0M78.6 319.9h0M74.6 336.9h0M89.0 319.1h0M97.2 327.6h0M73.1 358.0h0M69.8 305.9h0M74.1 329.3h0M103.1 318.9h0M73.3 341.8h0M74.5 332.4h0M74.2 357.6h0M70.3 311.7h0M76.7 318.7h0M100.0 343.2h0M103.5 333.7h0M64.5 349.6h0M73.6 310.7h0M82.9 365.7h0M80.5 320.6h0M81.4 304.9h0M103.4 350.9h0M78.7 351.5h0M81.0 315.6h0M92.7 348.0h0M86.3 353.5h0M81.0 299.9h0M71.5 357.7h0M78.9 361.5h0M68.0 346.1h0M67.6 343.5h0M108.5 346.9h0M112.2 327.5h0M80.6 303.8h0M75.2 362.0h0M64.1 308.4h0M79.2 298.7h0M77.0 308.2h0M66.9 332.7h0M89.8 335.6h0M101.9 332.7h0M77.2 349.4h0M110.8 331.1h0M69.0 318.7h0M91.3 316.2h0M85.4 338.1h0M106.5 328.3h0M70.7 362.4h0M102.0 323.7h0M63.1 306.8h0M69.7 347.6h0M72.2 352.1h0M87.5 341.7h0M85.7 308.2h0M94.1 321.5h0M86.1 339.6h0M77.6 320.6h0M108.6 336.6h0M83.0 333.7h0M85.4 318.9h0M76.0 307.4h0M99.8 312.0h0M92.2 306.4h0M65.5 344.1h0M79.2 335.0h0M87.4 360.9h0M88.4 322.2h0M74.9 336.1h0M94.8 328.1h0M65.1 330.6h0M86.6 340.9h0M84.5 301.2h0M104.0 311.9h0M105.6 352.0h0M74.2 359.5h0M87.8 325.6h0M90.6 362.5h0M87.0 329.5h0M76.1 355.1h0M87.8 319.6h0M71.0 310.5h0M105.9 352.4h0M97.7 352.0h0M99.2 352.8h0M104.1 307.8h0M104.8 316.8h0M73.6 360.7h0M79.0 351.6h0M93.6 360.1h0M111.3 341.1h0M63.8 342.7h0M107.9 317.3h0M70.4 344.6h0M94.3 304.1h0M100.0 299.4h0M107.7 349.9h0M91.4 362.4h0M95.2 330.2h0M81.3 320.4h0M103.8 311.5h0M96.0 350.4h0M98.2 331.9h0M77.5 314.6h0M70.5 341.3h0M78.3 361.2h0M110.1 315.9h0M112.3 339.3h0M78.5 315.1h0M88.8 329.9h0M89.5 328.9h0M101.0 313.0h0M71.1 336.6h0M73.4 318.5h0M79.7 332.7h0M82.9 324.2h0M73.1 328.9h0M83.9 344.0h0M102.0 334.7h0M95.3 362.0h0M109.6 313.1h0M89.1 308.7h0M102.2 299.3h0M68.4 334.5h0M75.1 346.4h0M100.0 317.9h0M102.2 341.3h0M98.9 327.7h0M83.9 302.8h0M86.2 363.2h0M64.1 314.4h0M98.2 326.4h0M67.2 325.5h0M91.6 348.2h0M82.3 341.5h0M97.5 339.0h0M62.8 345.8h0M86.1 296.4h0M64.2 323.0h0M85.9 302.7h0M86.9 337.1h0M77.5 365.2h0M66.8 316.9h0M72.3 356.8h0M88.1 324.4h0M82.1 358.3h0M74.3 351.5h0M99.0 327.1h0M80.2 326.3h0M85.0 317.7h0M94.4 324.5h0M76.8 350.2h0M85.1 328.9h0M108.4 327.6h0M80.8 359.1h0M82.2 343.0h0M100.8 316.3h0M96.1 342.8h0M84.0 341.7h0M72.6 350.0h0M89.7 365.0h0M78.9 345.9h0M102.2 313.7h0M93.8 310.9h0M82.0 365.9h0M71.0 360.2h0M63.5 336.7h0M81.6 337.2h0M99.2 349.4h0M101.1 336.4h0M74.0 345.4h0M90.9 334.0h0M103.0 318.3h0M75.2 335.6h0M89.1 330.5h0M69.4 339.7h0M109.1 342.4h0M76.0 352.6h0M83.2 305.6h0M93.4 328.0h0M91.4 363.1h0M79.5 349.2h0M64.3 316.6h0M98.1 344.3h0M105.6 322.3h0M75.2 320.7h0M89.6 296.9h0M80.7 342.0h0M68.4 317.4h0M73.9 307.9h0M103.7 347.8h0M74.7 330.0h0M98.3 297.2h0M71.8 345.3h0M98.5 319.2h0M108.3 310.8h0M86.2 317.5h0M84.4 353.0h0M91.4 338.6h0M72.4 339.3h0M68.4 363.8h0M78.9 326.5h0M83.8 354.1h0M110.3 343.4h0M69.6 320.5h0M98.9 310.6h0M72.6 321.1h0M72.7 346.4h0M62.8 344.7h0M63.6 355.1h0M90.0 336.7h0M79.5 365.3h0M93.1 356.6h0M61.4 344.8h0M69.9 314.6h0M96.7 344.7h0M77.9 328.5h0M76.0 335.2h0M79.7 320.8h0M73.8 316.0h0M77.2 337.4h0M74.9 303.3h0M106.5 328.6h0M88.2 317.4h0M108.8 348.9h0M94.3 342.1h0M98.1 330.8h0M82.8 323.0h0M87.8 328.6h0M89.2 333.2h0M103.8 339.4h0M75.8 308.8h0M97.6 344.4h0M101.0 327.6h0M82.0 334.6h0M64.3 312.8h0M113.4 333.9h0M88.4 317.3h0M107.4 332.0h0M68.3 322.9h0M95.2 303.1h0M91.0 362.1h0M84.1 349.5h0M92.6 336.7h0M69.7 328.2h0M109.5 343.2h0M72.1 327.0h0M90.0 319.2h0M91.8 340.2h0M96.2 310.5h0M64.2 349.4h0M78.5 363.4h0M90.8 302.4h0M95.1 313.9h0M104.8 346.8h0M101.7 299.3h0M62.1 352.0h0M67.9 309.6h0M86.1 363.4h0M77.8 313.7h0M105.5 308.3h0M95.0 339.0h0M91.0 322.5h0M105.3 313.2h0M99.4 308.4h0M87.3 364.1h0M73.4 315.1h0M110.4 343.2h0M63.8 308.5h0M73.2 315.9h0M106.5 345.1h0M94.6 322.5h0M99.5 330.3h0M63.4 330.2h0M81.2 333.0h0M78.3 305.8h0M92.7 360.3h0M70.1 330.8h0M87.6 349.7h0M91.2 312.2h0M70.6 346.8h0M64.5 356.8h0M85.8 355.3h0M94.1 348.3h0M101.9 346.6h0M63.0 354.0h0M68.3 306.8h0M108.2 322.3h0M106.6 338.0h0M66.4 315.6h0M70.7 303.2h0M71.2 340.8h0M69.4 307.2h0M89.5 321.9h0M68.4 335.7h0M88.0 322.8h0M86.2 298.0h0M93.9 309.0h0M108.8 337.0h0M81.7 333.8h0M81.2 345.6h0M80.6 345.5h0M75.8 316.1h0M101.3 351.0h0M70.4 323.2h0M106.9 349.7h0M100.8 356.8h0M80.0 338.3h0M91.8 358.6h0M68.1 323.9h0M91.1 304.6h0M103.0 299.6h0M94.6 315.1h0M77.9 338.4h0M70.7 327.1h0M74.6 321.2h0M98.2 308.7h0M106.7 309.4h0M90.7 319.4h0M75.3 365.8h0M95.1 299.9h0M99.4 311.8h0M86.6 346.6h0M83.3 317.8h0M82.0 317.5h0M100.8 328.2h0M97.7 306.0h0M71.3 339.1h0M82.9 308.3h0M100.2 336.0h0M105.4 343.9h0M90.2 356.2h0M80.6 303.3h0M95.3 297.0h0M89.3 304.3h0M93.3 353.9h0M79.1 303.8h0M97.0 347.1h0M108.6 334.7h0M92.1 356.6h0M75.9 350.3h0M94.9 328.6h0M74.6 338.0h0M88.1 331.5h0M63.4 304.6h0M93.4 343.8h0M76.1 327.6h0M87.9 352.4h0M81.8 360.7h0M86.7 323.5h0M86.5 320.7h0M82.1 300.9h0M97.3 305.9h0M68.4 325.3h0M93.2 349.6h0M84.6 316.2h0M80.4 358.4h0M108.7 329.6h0M67.5 304.9h0M109.0 348.5h0M63.7 343.3h0M71.9 327.0h0M93.3 298.8h0M111.4 319.1h0M68.1 350.7h0M95.9 328.7h0M93.3 328.7h0M76.7 360.5h0M71.6 341.0h0M112.2 339.2h0M77.8 346.7h0M67.9 334.1h0M73.8 334.5h0M77.6 307.2h0M100.9 349.3h0M78.7 325.1h0M98.3 347.0h0M85.6 303.6h0M65.5 307.3h0M105.5 330.5h0M95.5 321.2h0M80.4 307.7h0M67.3 345.2h0M93.0 338.9h0M102.4 338.5h0M82.5 341.4h0M80.7 324.4h0M80.3 341.3h0M79.5 320.3h0M97.2 355.3h0M81.4 341.0h0M74.0 317.7h0M65.7 352.0h0M110.7 316.8h0M80.9 303.5h0M68.0 340.6h0M74.2 349.2h0M72.6 357.7h0M79.5 328.9h0M71.3 315.9h0M83.5 315.0h0M100.1 297.4h0M95.2 352.3h0M78.1 308.8h0M103.6 338.1h0M93.0 317.9h0M79.6 364.4h0M79.9 360.9h0M107.7 336.1h0M67.1 352.7h0M65.2 334.9h0M82.7 306.3h0M101.7 341.2h0M86.1 350.6h0M96.9 306.5h0M89.2 324.6h0M88.4 346.0h0M97.9 335.8h0M103.4 353.9h0M65.3 305.5h0M62.8 306.6h0M84.3 328.3h0M91.1 315.1h0M102.8 318.8h0M65.3 358.1h0M64.0 314.2h0M102.3 337.3h0M96.7 324.6h0M88.7 309.7h0M85.5 313.5h0M97.2 302.8h0M67.7 309.3h0M89.4 336.6h0M106.0 322.3h0M68.9 354.0h0M101.6 353.4h0M66.8 306.9h0M72.9 359.3h0M110.0 328.9h0M67.2 320.3h0M73.4 341.4h0M99.6 350.5h0M84.1 327.7h0M85.8 321.6h0M85.1 344.0h0M99.2 318.4h0M91.3 305.5h0M79.9 297.5h0M64.6 325.5h0M80.4 317.4h0M67.7 337.2h0M106.2 322.4h0M69.9 302.7h0M72.9 346.7h0M103.5 301.2h0M70.6 317.7h0M102.3 347.7h0M76.8 327.4h0M79.7 328.8h0M103.7 313.8h0M93.1 363.5h0M104.3 303.8h0M76.8 326.7h0M106.2 343.7h0M71.4 359.1h0M107.6 331.5h0M76.2 325.0h0M111.8 337.6h0M105.1 300.3h0M73.7 347.3h0M78.9 311.4h0M82.8 334.1h0M82.1 335.4h0M97.1 319.1h0M87.1 322.1h0M76.5 316.4h0M86.5 296.6h0M108.3 320.9h0M84.5 332.6h0M103.2 334.8h0M87.2 319.7h0M101.3 331.0h0M103.6 354.7h0M109.2 346.9h0M97.1 328.1h0M89.4 336.4h0M89.0 353.5h0M101.4 339.1h0M93.0 359.9h0M62.9 329.0h0M80.8 362.7h0M69.2 335.3h0M68.1 348.9h0M87.0 347.6h0M77.0 358.1h0M100.4 357.8h0M102.8 314.8h0M64.7 345.7h0M100.3 299.5h0M111.4 332.8h0M78.7 302.6h0M67.0 326.9h0M75.2 343.1h0M66.2 319.0h0M82.7 328.9h0M84.0 337.6h0M72.7 312.6h0M85.4 341.0h0M93.4 320.1h0M71.7 347.2h0M73.2 312.5h0M74.6 302.5h0M99.4 328.9h0M101.1 349.8h0M88.1 314.5h0M89.0 342.4h0M78.0 340.7h0M68.3 364.3h0M71.8 311.3h0M91.2 300.5h0M100.3 354.7h0M63.6 347.2h0M86.9 358.8h0M114.5 327.0h0M97.2 342.6h0M98.2 321.4h0M95.2 300.0h0M109.5 346.7h0M104.2 328.1h0M71.4 327.3h0M97.5 334.2h0M82.0 312.6h0M72.6 311.0h0M83.0 344.7h0M110.2 343.4h0M93.6 347.3h0M93.8 320.4h0M78.8 300.3h0M96.6 299.1h0M97.5 360.1h0M96.8 338.4h0M85.4 296.3h0M93.9 340.7h0M107.5 338.8h0M105.7 339.7h0M106.9 350.2h0M109.3 323.5h0M79.5 365.8h0M81.8 314.8h0M98.0 302.1h0M76.9 323.3h0M67.0 337.8h0M83.4 352.3h0M78.8 364.8h0M70.9 333.0h0M76.7 359.0h0M76.2 330.0h0M88.9 314.2h0M89.5 299.9h0M79.3 315.5h0M104.9 350.0h0M98.6 337.6h0M107.7 348.0h0M63.2 304.5h0M101.2 355.0h0M68.9 335.6h0M94.4 338.3h0M67.6 364.1h0M88.2 314.3h0M113.9 322.6h0M64.0 342.8h0M74.4 310.7h0M76.8 338.4h0M77.7 342.5h0M74.1 353.9h0M65.1 336.6h0M99.5 332.7h0M105.0 330.5h0M84.7 297.2h0M98.5 298.0h0M89.0 361.1h0M97.3 303.5h0M99.7 345.2h0M78.2 350.1h0M91.9 324.6h0M89.0 314.8h0M75.9 358.5h0M79.4 350.1h0M80.3 308.8h0M92.5 299.7h0M93.7 339.5h0M73.0 311.0h0M87.2 325.1h0M80.4 362.9h0M77.4 354.1h0M89.4 302.5h0M61.8 338.6h0M98.7 311.8h0M97.8 354.5h0M100.0 312.6h0M68.8 364.0h0M89.8 298.9h0M80.4 360.0h0M63.9 316.2h0M79.6 301.1h0M79.7 309.7h0M83.9 339.1h0M96.2 302.1h0M89.5 299.2h0M84.4 352.7h0M74.6 353.8h0M73.6 323.2h0M90.6 333.4h0M98.2 311.1h0M71.1 329.5h0M75.6 334.6h0M65.1 344.6h0M83.0 298.8h0M66.8 361.8h0M81.6 365.3h0M69.5 346.9h0M64.8 352.4h0M93.4 329.1h0M66.5 340.9h0M67.7 304.7h0M92.7 341.0h0M104.1 354.1h0M67.7 316.9h0M68.1 330.2h0M97.5 352.8h0M87.0 360.1h0M104.3 310.6h0M79.1 299.2h0M102.1 328.9h0M83.8 356.9h0M75.1 339.1h0M63.7 343.4h0M112.4 331.2h0M68.2 335.7h0M63.8 328.1h0M64.6 324.9h0M105.0 347.8h0M106.9 327.8h0M84.4 299.1h0M103.4 335.8h0M82.6 305.6h0M85.3 299.7h0M83.5 305.0h0M105.5 338.6h0M107.7 334.6h0M69.0 314.9h0M106.2 336.8h0M95.6 340.2h0M62.8 309.4h0M83.8 355.3h0M111.9 337.3h0M90.8 324.3h0M61.8 352.7h0M73.7 339.0h0M75.5 338.4h0M76.1 349.3h0M74.4 357.1h0M97.4 358.7h0M79.1 363.1h0M92.1 313.5h0M95.6 317.3h0M93.6 312.4h0M65.7 350.5h0M68.0 348.9h0M75.2 321.1h0M93.3 361.8h0M94.3 336.6h0M77.9 322.2h0M91.4 312.8h0M95.4 356.7h0M99.7 311.2h0M84.0 355.5h0M90.2 332.1h0M93.4 334.6h0M97.3 334.9h0M90.5 312.0h0M67.0 326.5h0M76.3 336.1h0M88.6 327.5h0M70.0 351.4h0M64.9 311.4h0M75.5 309.7h0M88.9 307.5h0M95.4 337.9h0M94.4 329.4h0M93.7 316.3h0M85.6 344.2h0M72.0 347.4h0M92.3 364.6h0M94.0 334.3h0M102.3 315.7h0M80.6 326.0h0M100.4 346.4h0M70.4 363.1h0M114.0 330.5h0M81.3 301.4h0M99.6 339.0h0M103.1 326.3h0M100.8 338.2h0M94.9 334.2h0M96.7 335.1h0M65.2 343.3h0M98.7 325.7h0M113.3 329.5h0M69.3 331.6h0M79.8 307.0h0M99.2 307.3h0M65.1 356.3h0M110.0 327.1h0M95.1 327.9h0M69.2 320.5h0M84.4 357.1h0M66.5 333.6h0M86.0 334.6h0M103.6 337.9h0M77.9 363.2h0M93.0 314.5h0M90.2 356.9h0M62.8 341.3h0M86.9 315.7h0M68.9 311.7h0M84.2 325.2h0M93.1 314.5h0M94.2 328.9h0M103.8 352.5h0M73.2 364.7h0M90.1 319.1h0M74.2 345.9h0M84.1 343.9h0M74.2 356.4h0M74.7 357.1h0M84.2 323.8h0M91.8 332.4h0M90.2 335.1h0M105.0 314.8h0M87.3 355.3h0M77.5 330.2h0M107.0 337.3h0M110.1 343.1h0M73.4 321.7h0M86.5 303.0h0M110.8 329.6h0M71.2 330.2h0M104.3 314.7h0M92.4 301.7h0M73.4 308.6h0M87.9 344.2h0M72.7 344.2h0M92.3 348.7h0M88.1 307.9h0M64.9 341.2h0M64.8 333.8h0M70.9 314.0h0M102.2 327.0h0M68.3 343.6h0M84.6 333.5h0M98.7 354.9h0M103.2 312.9h0M102.9 302.6h0M67.2 331.3h0M70.3 335.2h0M75.8 362.4h0M83.9 353.3h0M111.9 327.4h0M102.3 330.3h0M82.1 304.1h0M96.3 360.8h0M97.9 317.8h0M89.0 320.6h0M81.6 350.2h0M88.2 305.7h0M100.3 313.3h0M82.3 312.9h0M92.9 325.9h0M97.7 325.5h0M103.1 334.4h0M66.0 330.2h0M74.1 316.4h0M112.1 329.4h0M100.7 306.3h0M94.7 303.6h0M72.3 304.3h0M113.0 321.4h0M60.9 347.5h0M96.5 298.5h0M102.2 300.0h0M73.0 350.6h0M102.2 311.9h0M88.0 352.2h0M93.3 332.6h0M70.5 332.5h0M92.8 328.0h0M95.0 335.4h0M95.6 324.5h0M106.3 333.0h0M105.5 350.2h0M98.0 334.5h0M73.8 302.5h0M96.4 312.9h0M93.7 334.3h0M93.5 325.8h0M73.3 316.8h0M98.4 358.3h0M77.7 317.5h0M84.7 325.8h0M94.8 349.0h0M102.2 352.8h0M84.8 327.0h0M95.9 317.6h0M105.6 325.0h0M90.7 332.2h0M75.5 329.1h0M103.5 315.1h0M64.0 316.4h0M70.0 331.1h0M65.4 322.2h0M87.4 353.4h0M76.1 342.6h0M67.9 313.5h0M63.4 336.6h0M92.3 346.0h0M83.2 361.9h0M99.8 335.7h0M108.0 308.0h0M76.2 334.5h0M93.0 363.2h0M97.4 298.5h0M111.9 328.5h0M71.5 349.5h0M94.6 356.0h0M90.4 313.4h0M86.0 328.4h0M79.5 336.5h0M68.4 313.2h0M89.0 347.7h0M82.3 359.4h0M93.5 342.1h0M75.9 359.2h0M79.3 355.4h0M73.6 363.0h0M97.6 307.9h0M100.3 306.3h0M81.3 322.2h0M78.5 321.0h0M69.0 323.7h0M65.3 351.8h0M79.6 345.9h0M83.6 364.6h0M108.4 345.4h0M111.1 324.6h0M92.7 300.1h0M80.2 318.6h0M94.3 295.8h0M101.5 300.5h0M83.4 329.7h0M106.3 340.2h0M68.3 342.6h0M73.1 339.1h0M82.9 363.2h0M84.8 314.6h0M77.2 363.4h0M79.3 312.5h0M89.5 342.9h0M78.3 346.7h0M87.3 344.4h0M97.1 301.8h0M63.0 307.8h0M76.9 308.2h0M75.9 303.4h0M101.7 306.6h0M65.4 347.0h0M64.6 305.2h0M87.1 316.4h0M103.2 331.2h0M88.9 321.8h0M81.5 354.1h0M66.0 326.0h0M89.8 306.2h0M90.0 347.4h0M93.1 329.2h0M69.6 340.9h0M84.5 343.5h0M66.4 349.5h0M86.4 315.6h0M103.0 332.3h0M76.1 323.1h0M108.3 334.0h0M111.7 333.6h0M97.5 302.7h0M84.1 338.7h0M82.6 341.7h0M79.0 341.8h0M71.6 330.1h0M83.6 332.7h0M63.2 312.5h0M99.4 307.0h0M93.6 347.5h0M81.4 323.4h0M85.9 314.5h0M90.7 347.4h0M107.4 331.3h0M98.1 300.9h0M96.3 361.4h0M93.9 330.1h0M88.2 324.5h0M70.0 309.3h0M103.7 331.9h0M62.3 339.0h0M105.7 341.6h0M70.1 363.0h0M70.2 331.4h0M85.4 307.0h0M74.8 308.5h0M95.6 342.6h0M74.0 362.9h0M83.4 327.7h0M111.0 341.4h0M85.7 348.4h0M100.7 317.2h0M64.0 347.3h0" stroke="#6e6e6e" stroke-width="1.60" stroke-linecap="round" fill="none"/>
<path d="M92.5 284.3h0M61.4 292.2h0M64.3 295.1h0M86.3 286.3h0M59.4 271.4h0M57.6 274.0h0M97.7 285.9h0M90.2 262.7h0M64.1 268.9h0M63.6 291.6h0M93.2 266.1h0M83.5 256.1h0M92.1 287.0h0M96.6 293.0h0M78.4 275.8h0M87.1 294.6h0M69.0 300.5h0M98.9 270.4h0M83.2 291.1h0M93.1 260.6h0M88.5 275.4h0M66.3 266.5h0M73.5 291.6h0M82.9 269.0h0M69.5 276.8h0M70.3 296.5h0M77.9 254.2h0M85.4 281.1h0M59.1 282.1h0M81.4 268.1h0M79.5 271.5h0M84.5 288.3h0M69.3 284.7h0M68.4 292.2h0M65.7 284.0h0M91.9 295.2h0M73.3 266.0h0M86.5 258.5h0M87.7 272.6h0M81.8 270.1h0M93.8 276.2h0M79.0 286.9h0M72.3 288.5h0M81.8 256.4h0M94.0 279.2h0M94.2 286.1h0M83.6 260.8h0M77.0 267.2h0M66.5 284.0h0M84.5 273.3h0M72.9 259.1h0M89.9 271.8h0M59.4 274.6h0M73.0 302.5h0M86.3 262.2h0M81.0 255.2h0M62.5 279.3h0M82.2 263.1h0M84.4 268.5h0M97.1 276.0h0M64.2 267.3h0M86.6 256.6h0M75.9 255.4h0M82.6 286.5h0M85.4 264.5h0M98.4 295.6h0M70.9 284.3h0M86.0 285.7h0M82.9 264.2h0M58.5 283.2h0M103.3 285.6h0M73.4 268.3h0M56.5 276.0h0M79.4 264.1h0M73.1 292.6h0M94.0 270.7h0M92.1 270.7h0M64.2 274.4h0M61.3 290.7h0M68.1 278.7h0M95.5 284.2h0M100.4 291.2h0M89.8 292.0h0M85.0 287.6h0M82.8 280.7h0M65.0 278.9h0M71.0 290.5h0M65.9 285.3h0M75.2 288.6h0M78.8 257.5h0M60.2 285.2h0M85.9 285.0h0M80.6 279.2h0M77.1 295.9h0M88.5 295.5h0M66.1 264.1h0M66.8 278.0h0M99.5 291.0h0M85.9 292.6h0M70.1 268.2h0M100.3 294.7h0M86.5 291.9h0M102.8 291.1h0M64.2 265.6h0M83.8 269.1h0M89.4 296.0h0M61.7 279.5h0M93.8 291.7h0M72.6 278.3h0M59.7 286.5h0M64.9 276.6h0M94.5 282.3h0M65.5 283.5h0M60.1 268.6h0M76.1 269.7h0M61.9 285.1h0M73.6 297.8h0M85.1 285.0h0M62.4 275.4h0M59.9 282.1h0M66.7 289.7h0M68.9 279.9h0M90.9 257.9h0M86.2 258.5h0M81.8 256.5h0M69.5 276.1h0M82.5 287.2h0M72.9 262.9h0M92.0 271.5h0M66.1 261.9h0M76.4 297.2h0M77.2 296.0h0M78.9 283.3h0M68.2 273.8h0M78.0 265.3h0M70.0 269.9h0M65.4 283.0h0M68.6 261.3h0M96.8 289.0h0M64.9 268.6h0M72.2 274.9h0M66.0 268.9h0M64.3 297.9h0M61.2 275.5h0M66.5 264.9h0M91.9 270.9h0M87.0 263.9h0M58.1 281.2h0M65.9 303.9h0M94.9 292.0h0M93.7 281.0h0M79.7 280.2h0M75.1 298.1h0M64.3 270.5h0M79.3 254.8h0M68.6 293.7h0M76.7 283.1h0M61.9 272.1h0M83.1 292.2h0M68.3 292.5h0M82.5 260.9h0M94.6 290.9h0M83.6 272.6h0M71.1 296.1h0M59.0 282.6h0M90.4 263.3h0M94.1 290.5h0M72.0 275.4h0M91.3 290.1h0M65.2 273.8h0M70.1 278.7h0M103.7 291.6h0M75.7 278.2h0M74.0 264.7h0M59.7 280.8h0M86.9 275.0h0M89.6 284.9h0M80.0 279.1h0M94.8 268.7h0M72.0 275.1h0M70.2 293.0h0M60.4 281.8h0M90.9 270.2h0M91.6 270.9h0M86.3 257.0h0M71.3 282.1h0M85.8 276.8h0M57.5 280.9h0M98.3 266.3h0M65.9 285.4h0M59.3 285.6h0M99.1 293.7h0M97.5 266.1h0M102.1 286.5h0M86.7 270.2h0M60.1 269.5h0M67.0 286.0h0M87.9 285.9h0M73.9 301.4h0M78.7 295.2h0M64.7 270.8h0M95.0 267.5h0M91.6 284.2h0M74.2 266.7h0M90.0 277.9h0M86.4 272.8h0M69.2 267.4h0M66.9 289.4h0M94.2 288.0h0M92.2 262.7h0M80.8 252.4h0M81.3 253.2h0M72.7 277.4h0M63.0 287.0h0M97.3 268.8h0M93.2 294.5h0M90.2 274.6h0M90.6 277.8h0M101.7 292.8h0M66.7 289.8h0M101.8 275.1h0M71.4 268.1h0M66.4 287.4h0M94.9 287.0h0M69.8 273.4h0M94.7 291.8h0M81.8 291.9h0M96.0 279.9h0M95.9 261.8h0M97.6 292.9h0M88.1 285.5h0M63.5 301.1h0M66.3 297.0h0M90.2 281.5h0M100.8 275.7h0M76.0 264.2h0M97.4 269.0h0M71.5 283.8h0M76.0 255.0h0M97.0 278.4h0M63.7 264.0h0M56.8 272.1h0M74.7 297.8h0M92.2 271.0h0M93.4 287.5h0M59.1 277.1h0M76.5 276.6h0M83.0 289.2h0M75.5 279.9h0M96.4 288.7h0M69.0 303.5h0M74.7 299.6h0M103.2 289.7h0M73.8 292.2h0M80.4 286.3h0M89.4 285.9h0M64.4 282.5h0M76.8 288.7h0M93.8 262.7h0M73.9 265.5h0M103.0 278.3h0M80.4 258.4h0M74.0 256.0h0M75.4 276.1h0M81.9 260.5h0M64.5 288.6h0M81.1 273.8h0M80.0 273.9h0M89.1 283.9h0M58.1 278.6h0M68.0 283.3h0M78.5 293.1h0M103.2 292.0h0M86.1 279.2h0M61.2 291.4h0M65.4 272.2h0M84.4 265.9h0M98.2 281.3h0M78.5 269.1h0M84.0 286.9h0M77.4 271.7h0M92.6 281.8h0M68.9 301.9h0M97.8 296.1h0M85.7 279.4h0M70.0 260.5h0M77.5 297.0h0M95.1 281.2h0M84.8 274.3h0M64.4 300.8h0M89.0 271.1h0M92.4 274.5h0M89.8 279.1h0M99.5 277.7h0M74.7 290.6h0M88.5 256.6h0M80.8 266.7h0M87.6 260.6h0M70.3 265.2h0M69.5 282.4h0M98.2 286.5h0M87.5 293.1h0M74.9 274.9h0M87.8 262.7h0M62.1 285.2h0M72.7 261.2h0M85.6 280.8h0M82.1 279.4h0M86.0 294.0h0M91.2 290.1h0M96.4 277.2h0M87.2 257.6h0M59.7 276.2h0M89.2 264.3h0M79.9 277.1h0M68.1 286.1h0M73.5 270.2h0M77.4 283.1h0M67.7 302.7h0M60.9 289.6h0M58.9 280.5h0M77.3 297.4h0M73.5 280.3h0M74.5 268.1h0M79.0 277.1h0M64.7 279.8h0M84.1 282.8h0M92.1 276.2h0M66.2 303.0h0M61.5 268.1h0M76.2 274.0h0M66.0 298.5h0M70.6 281.4h0M85.7 258.6h0M76.9 258.7h0M82.4 291.4h0M61.2 276.5h0M88.5 271.9h0M102.2 278.5h0M74.8 289.6h0M96.9 278.5h0M98.0 293.0h0M76.0 290.2h0M81.1 257.6h0M80.3 268.0h0M80.6 272.4h0M82.8 275.2h0M93.1 287.4h0M69.3 262.3h0M67.4 269.3h0M76.6 279.0h0M68.5 267.6h0M81.2 251.8h0M84.9 283.6h0M92.0 291.9h0M73.1 299.8h0M63.7 263.9h0M83.8 280.6h0M94.6 268.3h0M100.1 286.0h0M89.6 282.9h0M66.1 282.3h0M71.9 268.3h0M68.2 293.7h0M87.6 258.8h0M82.8 279.1h0M75.7 282.4h0M100.6 284.1h0M92.4 276.9h0M99.2 293.5h0M80.7 267.9h0M87.2 255.3h0M81.3 274.8h0M85.2 266.9h0M100.2 277.8h0M96.5 265.6h0M99.4 281.3h0M82.5 275.2h0M102.1 282.2h0M82.0 271.3h0M78.2 266.2h0M77.6 265.9h0M59.4 271.4h0M71.3 266.3h0M82.7 267.4h0M91.3 268.1h0M89.6 265.8h0M87.3 271.1h0M80.7 266.5h0M82.3 286.9h0M97.3 265.4h0M83.7 282.5h0M98.7 277.7h0M75.8 273.6h0M103.4 283.2h0M81.8 294.0h0M85.4 279.8h0M88.1 265.8h0M91.2 296.5h0M71.5 301.9h0M66.0 291.5h0M81.8 261.7h0M98.0 280.8h0M56.3 273.1h0M99.4 290.7h0M68.7 287.0h0M93.3 282.0h0M75.8 259.8h0M87.7 270.6h0M94.6 271.4h0M96.5 296.6h0M64.4 281.4h0M77.6 258.2h0M85.8 254.7h0M89.4 258.6h0M88.3 277.1h0M79.0 263.4h0M63.1 297.7h0M85.4 292.3h0M92.1 273.4h0M82.7 268.0h0M87.9 275.0h0M94.3 267.4h0M74.5 255.9h0M56.5 274.6h0M74.4 299.7h0M73.3 264.9h0M85.7 270.9h0M89.1 290.8h0M93.6 270.2h0M81.1 266.7h0M68.1 274.7h0M100.4 276.2h0M95.7 280.7h0M72.9 290.9h0M87.8 272.3h0M97.5 290.9h0M90.6 277.4h0M75.8 292.0h0M89.9 278.9h0M93.6 277.9h0M61.6 280.1h0M92.8 260.4h0M73.0 271.3h0M90.1 282.8h0M69.8 259.9h0M90.0 289.0h0M62.8 297.6h0M56.6 280.1h0M86.4 263.7h0M58.8 277.3h0M82.8 277.0h0M84.3 254.8h0M73.4 296.9h0M69.9 261.7h0M64.5 302.8h0M98.5 273.6h0M71.9 271.6h0M89.2 257.8h0M92.1 271.0h0M68.2 300.0h0M64.6 288.0h0M77.2 254.0h0M69.5 268.4h0M93.8 293.7h0M66.1 271.9h0M71.4 262.7h0M82.1 258.7h0M71.1 267.4h0M91.9 274.9h0M64.9 286.3h0M93.6 291.1h0M80.6 291.0h0M92.1 295.3h0M71.3 279.7h0M83.3 281.5h0M64.6 290.1h0M81.6 273.6h0M83.8 256.0h0M71.5 269.4h0M59.9 272.0h0M73.7 274.0h0M102.5 281.8h0M67.1 276.0h0M73.5 278.0h0M64.4 292.2h0M101.6 285.8h0M82.1 280.0h0M89.7 271.5h0M59.4 276.2h0M95.9 288.4h0M58.0 279.8h0M64.4 267.9h0M67.0 285.1h0M80.6 254.7h0M70.2 259.6h0M97.6 271.1h0M79.3 294.4h0M64.6 278.9h0M57.7 278.0h0M101.4 282.5h0M70.6 286.1h0M80.4 278.7h0M87.0 290.4h0M89.3 295.2h0M65.2 262.2h0M97.2 275.3h0M62.3 266.3h0M96.4 266.0h0M94.8 272.3h0M83.4 288.9h0M91.0 262.8h0M88.7 260.5h0M67.7 294.0h0M63.2 274.1h0M61.3 283.3h0M64.3 271.2h0M80.3 253.2h0M86.2 259.9h0M92.1 287.1h0M70.0 268.6h0M69.3 281.4h0M83.7 258.7h0M63.2 285.7h0M69.4 287.9h0M82.1 252.5h0M73.2 286.0h0M66.4 297.0h0M84.0 261.7h0M62.1 292.8h0M96.8 286.4h0M68.9 302.2h0M71.6 262.9h0M66.0 278.8h0M66.0 288.8h0M73.0 301.6h0M83.3 278.6h0M93.1 282.2h0M77.9 260.9h0M95.1 285.8h0M78.5 292.0h0M63.7 271.1h0M86.7 265.6h0M87.4 290.8h0M69.0 293.7h0M98.1 276.6h0M83.5 287.2h0M64.6 280.2h0M68.9 260.6h0M76.3 260.4h0M68.4 278.2h0M89.4 257.2h0M64.2 277.2h0M81.3 261.1h0M88.2 282.3h0M86.6 256.3h0M81.4 266.3h0M89.7 287.4h0M69.2 264.1h0M90.0 264.9h0M102.1 290.8h0M80.7 257.6h0M66.0 294.2h0M63.8 274.2h0M81.9 253.9h0M83.4 255.3h0M71.4 269.1h0M70.4 269.4h0M70.4 260.3h0M71.2 289.3h0M73.0 264.0h0M70.4 266.2h0M82.8 255.2h0M96.8 293.2h0M96.8 277.5h0M66.1 261.3h0M61.3 288.0h0M74.1 294.8h0M82.4 285.7h0M58.5 285.5h0M63.0 296.5h0M93.8 286.9h0M96.5 290.6h0M57.8 284.0h0M63.6 271.3h0M72.8 266.1h0M90.0 260.4h0M78.4 278.8h0M71.2 294.3h0M66.5 295.4h0M93.4 285.9h0M67.5 287.9h0M73.3 289.6h0M63.8 286.4h0M69.1 275.4h0M65.1 294.3h0M66.5 290.1h0M80.1 271.6h0M100.7 271.3h0M75.7 297.2h0M92.9 261.5h0M75.4 282.0h0M88.0 290.8h0M74.9 272.3h0M64.4 285.7h0M71.9 294.5h0M63.6 299.0h0M96.2 270.9h0M65.9 305.0h0M78.1 281.7h0M78.3 277.2h0M63.1 264.5h0M64.8 266.8h0M82.5 265.5h0M77.3 276.2h0M79.6 276.4h0M90.4 282.6h0M70.1 266.4h0M79.4 274.4h0M84.9 262.2h0M85.8 278.5h0M69.6 295.4h0M68.6 268.2h0M101.1 277.7h0M91.6 278.2h0M68.7 270.8h0M80.7 268.3h0M81.0 252.8h0M74.7 257.7h0M79.2 280.5h0M99.7 275.8h0M70.2 297.8h0M61.5 272.2h0M64.8 297.2h0M90.0 281.2h0M77.5 295.5h0M101.2 271.5h0M82.2 274.9h0M75.4 271.6h0M71.3 287.8h0M88.4 285.4h0M81.3 288.2h0M56.0 277.6h0M89.8 291.4h0M95.8 263.8h0M86.2 296.4h0M65.4 261.7h0M66.4 280.6h0M99.7 270.6h0M75.3 287.6h0M89.6 271.1h0M64.5 279.6h0M98.3 280.7h0M82.2 263.5h0M62.9 264.5h0M70.6 277.3h0M66.9 292.0h0M70.4 274.1h0M82.8 264.9h0M67.2 295.5h0M79.4 282.3h0M88.0 292.1h0M61.2 292.0h0M63.2 264.2h0M95.7 294.5h0M80.4 281.5h0M92.5 283.8h0M59.5 276.6h0M65.6 277.2h0M71.6 283.3h0M88.1 268.2h0M75.1 278.7h0M99.5 281.9h0M100.8 272.8h0M66.6 286.9h0M71.9 279.8h0M104.1 282.1h0M88.6 282.3h0M76.6 274.1h0M65.8 274.8h0M81.3 267.1h0M82.7 283.8h0M74.8 295.7h0M93.4 289.3h0M63.7 290.0h0M99.3 289.0h0M88.4 281.1h0M91.6 281.4h0M78.8 285.9h0M59.0 282.2h0M91.8 290.8h0M87.1 284.1h0M79.0 275.5h0M85.3 269.9h0M95.0 281.3h0M77.1 279.6h0M95.8 290.2h0M80.6 255.6h0M79.0 292.8h0M73.4 278.0h0M68.7 258.6h0M84.1 258.2h0M62.9 267.3h0M66.4 264.6h0M103.4 283.2h0M88.2 265.0h0M87.6 264.1h0M79.0 267.9h0M93.8 273.3h0M72.0 261.0h0M90.1 258.6h0M85.5 275.8h0M100.0 286.7h0M96.2 293.7h0M64.0 268.6h0M64.1 295.8h0M102.3 282.8h0M81.3 275.6h0M65.4 280.4h0M67.3 272.5h0M60.7 289.5h0M66.4 281.8h0M57.3 282.4h0M72.5 301.1h0M65.2 267.6h0M79.8 278.0h0M70.0 260.6h0M80.2 253.0h0M74.3 265.6h0M90.7 274.2h0M85.7 283.7h0M83.3 289.4h0M83.1 255.6h0M96.8 280.4h0M76.2 277.2h0M93.6 275.8h0M76.9 291.7h0M99.9 276.5h0M90.3 282.2h0M82.8 263.1h0M69.5 265.4h0M66.5 262.6h0M95.9 288.2h0M70.8 257.3h0M88.8 292.3h0M87.3 290.6h0M63.9 272.4h0M63.4 299.3h0M96.2 262.4h0M72.8 294.6h0M96.6 273.3h0M76.0 289.5h0M104.7 285.8h0M72.7 264.6h0M64.9 284.9h0M91.1 263.6h0M92.3 284.5h0M83.9 280.2h0M82.2 287.7h0M87.6 260.2h0M98.0 274.1h0M79.9 285.6h0M71.7 283.9h0M91.8 264.0h0M61.3 287.0h0M99.1 290.5h0M84.3 280.6h0M86.5 255.4h0M79.6 293.7h0M94.2 267.8h0M87.1 281.1h0M80.0 284.0h0M77.6 272.1h0M93.2 286.8h0M80.5 278.6h0M72.3 284.3h0M74.6 272.4h0M87.0 289.3h0M100.0 271.4h0M80.0 276.1h0M61.2 278.7h0M86.7 255.7h0M84.2 289.3h0M72.8 280.9h0M75.2 259.8h0M68.2 303.0h0M87.0 281.0h0M92.9 273.4h0M82.3 269.1h0M59.6 271.8h0M97.6 268.4h0M63.0 275.9h0M87.0 294.8h0M57.9 277.0h0M65.7 305.8h0M65.8 266.6h0M91.0 262.8h0M71.5 268.0h0M75.7 255.9h0M73.8 254.9h0M95.7 261.8h0M59.4 271.7h0M78.6 283.2h0M92.8 264.9h0M79.4 267.1h0M83.6 265.2h0M82.4 265.4h0M94.5 275.9h0M80.9 287.5h0M68.2 261.7h0M75.8 292.6h0M91.7 276.6h0M85.6 265.4h0M102.4 286.5h0M95.3 271.6h0M84.2 290.3h0M81.9 293.1h0M69.1 294.4h0M71.3 279.6h0M62.7 273.5h0M64.9 281.1h0M88.1 289.0h0M89.5 290.8h0M85.3 259.8h0M82.5 266.8h0M55.9 279.2h0M93.1 285.5h0M57.5 281.5h0M104.4 287.2h0M70.3 301.0h0M97.5 283.4h0M78.7 280.5h0M71.4 298.1h0M72.4 275.5h0M85.7 268.5h0M85.6 254.4h0M94.4 292.5h0M64.9 282.5h0M94.5 263.0h0M77.5 256.4h0M88.5 289.6h0M58.6 285.0h0M92.9 262.0h0M98.0 275.3h0M71.8 258.6h0M78.4 278.6h0M84.4 255.9h0M76.6 291.0h0M99.7 284.0h0M92.2 263.5h0M66.1 279.5h0M67.1 286.1h0M69.9 271.1h0M74.6 276.8h0M67.5 264.3h0M57.7 270.8h0M72.0 292.1h0M67.0 292.9h0M94.5 294.9h0M84.2 257.3h0M89.0 283.2h0M79.6 293.4h0M64.7 272.0h0M68.6 274.5h0M81.5 276.6h0M59.6 271.5h0M70.9 271.3h0M63.1 299.7h0M83.4 283.8h0M81.1 281.5h0M77.7 269.8h0M103.4 286.8h0M80.0 256.3h0M78.9 263.0h0M75.0 263.5h0M66.7 275.4h0M61.6 265.2h0M97.4 273.9h0M66.1 293.7h0M74.2 271.5h0M101.8 278.5h0M77.1 283.7h0M98.1 286.0h0M71.4 298.6h0M70.0 275.9h0M66.0 266.0h0M81.0 282.2h0M82.3 277.0h0M94.1 265.2h0M77.1 288.4h0M73.1 277.2h0M68.9 279.5h0M79.7 270.6h0M61.5 281.5h0M97.3 272.3h0M68.2 296.8h0M63.4 282.3h0M93.4 279.4h0M70.1 284.2h0M72.2 288.0h0M94.9 295.3h0M68.9 288.0h0M77.4 254.7h0M82.2 269.1h0M58.9 270.5h0M93.8 288.9h0M66.4 304.1h0M77.7 296.5h0M76.4 286.8h0M83.6 283.8h0M103.3 284.3h0M68.6 259.0h0M82.9 260.5h0M64.7 262.6h0M88.6 279.0h0M93.0 274.1h0M65.2 271.8h0M79.0 277.2h0M84.8 289.2h0M63.0 287.0h0M96.2 273.9h0M68.9 265.2h0M85.6 258.0h0M66.1 267.9h0M89.6 292.1h0M82.4 259.5h0M96.9 264.9h0M69.3 259.3h0M74.8 289.0h0M82.8 269.1h0M62.0 266.3h0M93.6 261.1h0M88.6 278.9h0M76.0 283.3h0M69.5 297.4h0M61.5 269.4h0M103.0 292.8h0M64.6 273.1h0M82.7 260.1h0M78.9 275.2h0M80.3 288.2h0M60.4 273.1h0M88.0 262.6h0M83.6 294.0h0M71.1 289.8h0M91.8 293.9h0M71.3 270.0h0M84.4 275.9h0M78.9 282.4h0M81.2 262.7h0M77.7 293.4h0M67.0 290.0h0M63.3 268.0h0M80.0 269.7h0M80.6 292.4h0M86.3 271.3h0M73.7 266.6h0M60.3 277.3h0M82.0 295.0h0M100.4 271.2h0M69.5 261.1h0M94.1 268.0h0M84.4 275.5h0M66.0 262.0h0M71.0 268.8h0M72.4 270.3h0M82.7 284.9h0M72.1 290.9h0M76.8 259.7h0M64.0 292.8h0M94.0 270.4h0M75.4 286.9h0M79.6 290.3h0M91.9 290.8h0M93.1 263.1h0M87.8 294.9h0M92.4 261.2h0M103.5 286.9h0M67.8 284.4h0M71.1 281.9h0" stroke="#2b7a3b" stroke-width="1.60" stroke-linecap="round" fill="none"/>
<path d="M157.3 338.8h0M147.9 311.8h0M158.9 286.0h0M151.2 286.5h0M157.0 327.1h0M153.9 282.7h0M140.8 329.9h0M135.3 284.5h0M145.6 284.5h0M137.5 283.5h0M135.6 279.1h0M143.1 297.8h0M132.8 285.1h0M142.8 276.7h0M138.8 274.6h0M155.5 280.7h0M145.3 281.9h0M154.2 277.8h0M134.9 284.1h0M156.4 331.9h0M159.0 304.7h0M143.3 298.8h0M152.2 309.2h0M154.2 305.6h0M159.4 318.4h0M137.8 304.4h0M129.3 302.8h0M143.8 318.9h0M132.6 293.0h0M139.4 276.9h0M161.7 325.2h0M162.7 317.9h0M148.2 306.3h0M148.3 297.1h0M134.2 317.3h0M157.5 348.2h0M161.8 318.8h0M135.3 315.2h0M156.1 300.8h0M144.0 277.2h0M152.8 304.4h0M135.5 286.2h0M147.5 290.8h0M140.1 306.6h0M162.7 317.7h0M156.8 327.3h0M155.0 323.0h0M157.6 290.1h0M147.7 285.9h0M136.4 320.5h0M150.9 319.7h0M139.3 280.6h0M133.3 308.3h0M153.6 320.0h0M145.8 313.7h0M135.5 276.0h0M133.5 311.2h0M138.6 272.1h0M152.0 323.5h0M155.7 306.3h0M162.1 324.5h0M137.9 305.1h0M135.4 320.9h0M142.2 307.5h0M141.4 285.0h0M149.8 328.4h0M140.7 281.3h0M150.8 320.3h0M148.3 336.5h0M148.8 311.9h0M135.3 296.5h0M141.3 292.1h0M137.9 285.6h0M131.5 315.0h0M144.0 334.5h0M154.9 344.4h0M152.4 344.2h0M130.7 282.0h0M139.8 316.1h0M141.1 304.3h0M130.0 304.2h0M154.5 333.2h0M151.2 293.2h0M149.8 318.2h0M142.0 330.3h0M164.2 308.5h0M151.8 313.0h0M130.4 304.3h0M162.5 316.2h0M142.3 287.5h0M141.6 330.1h0M153.3 320.0h0M163.4 300.2h0M138.3 320.1h0M159.9 336.5h0M136.8 324.8h0M157.3 334.6h0M134.8 300.4h0M154.2 315.2h0M148.3 329.2h0M144.7 285.3h0M146.3 315.5h0M135.4 289.5h0M158.3 291.8h0M134.9 305.2h0M136.9 291.6h0M154.5 280.3h0M132.8 275.2h0M152.8 322.7h0M133.8 293.4h0M155.2 336.4h0M152.3 296.2h0M155.5 343.8h0M148.6 320.2h0M146.0 280.9h0M146.0 304.5h0M153.2 309.4h0M136.7 286.8h0M155.9 316.1h0M156.6 286.3h0M144.4 280.3h0M134.1 298.6h0M131.5 311.6h0M139.5 299.4h0M131.3 320.5h0M147.7 292.8h0M152.1 327.0h0M160.6 334.1h0M162.4 298.2h0M132.4 305.1h0M162.2 324.7h0M158.1 307.4h0M152.0 339.8h0M143.6 333.3h0M149.1 333.1h0M134.7 317.4h0M140.7 294.5h0M135.7 300.5h0M134.0 312.5h0M141.3 325.9h0M132.4 276.0h0M162.0 330.3h0M151.9 318.7h0M134.8 282.8h0M144.4 325.0h0M145.0 310.6h0M136.6 301.8h0M158.0 345.8h0M141.4 306.7h0M159.3 309.6h0M132.0 288.2h0M159.0 336.5h0M139.0 298.6h0M143.9 299.8h0M155.6 325.2h0M150.1 287.4h0M146.8 292.3h0M161.9 334.3h0M151.9 331.9h0M133.1 317.0h0M131.7 304.7h0M141.2 299.2h0M143.0 311.7h0M131.7 312.7h0M128.9 309.3h0M144.8 307.6h0M141.0 309.0h0M134.1 307.2h0M140.8 282.1h0M149.8 305.5h0M132.3 313.3h0M136.1 316.0h0M139.6 327.7h0M140.3 330.9h0M140.3 331.9h0M160.1 344.1h0M155.9 304.7h0M145.7 277.9h0M138.7 291.8h0M157.7 333.0h0M151.4 331.3h0M143.8 321.6h0M141.0 272.2h0M142.2 291.1h0M133.6 305.0h0M139.3 279.8h0M157.0 304.3h0M136.4 310.3h0M140.1 319.9h0M138.2 320.2h0M156.5 293.2h0M135.9 315.8h0M149.2 340.6h0M158.3 307.5h0M146.2 333.2h0M149.3 280.6h0M142.0 280.2h0M152.9 332.7h0M142.9 272.5h0M153.4 330.5h0M156.5 307.0h0M143.7 302.8h0M147.2 331.3h0M145.7 289.7h0M137.3 280.4h0M154.7 310.6h0M141.3 299.1h0M136.0 293.0h0M136.9 311.4h0M143.4 308.2h0M159.1 298.8h0M150.5 311.4h0M163.3 318.1h0M162.7 299.6h0M134.9 287.5h0M142.4 288.7h0M135.6 281.5h0M148.5 276.9h0M139.5 275.5h0M146.0 315.4h0M146.9 335.9h0M144.1 298.5h0M151.6 303.2h0M144.7 290.6h0M133.2 279.2h0M151.5 343.1h0M135.3 277.9h0M140.6 300.2h0M143.0 306.1h0M146.5 289.9h0M162.2 312.0h0M148.1 339.9h0M152.5 337.2h0M132.0 294.7h0M135.6 311.5h0M135.5 301.8h0M142.8 296.2h0M154.3 310.0h0M157.6 298.9h0M159.1 336.9h0M148.4 339.8h0M160.7 301.0h0M149.0 294.4h0M162.1 304.1h0M147.5 288.8h0M155.2 313.3h0M138.0 281.9h0M154.9 304.2h0M158.0 304.7h0M148.5 327.8h0M131.8 309.0h0M140.4 299.2h0M130.8 292.7h0M141.2 292.0h0M135.5 293.3h0M154.9 280.8h0M146.6 322.3h0M156.2 290.4h0M150.5 317.3h0M152.4 306.5h0" stroke="#8c3626" stroke-width="1.60" stroke-linecap="round" fill="none"/>
<path d="M137.8 304.2h0M144.7 278.3h0M133.6 306.3h0M137.0 314.7h0M129.9 291.7h0M130.6 307.4h0M134.9 310.2h0M141.4 321.9h0M131.4 287.2h0M134.2 321.6h0M140.5 313.6h0M132.3 280.1h0M138.0 284.7h0M138.5 307.6h0M141.0 296.7h0M146.6 325.5h0M142.7 312.1h0M133.0 312.6h0M142.7 289.4h0M138.1 276.1h0M142.8 301.9h0M132.5 321.8h0M145.7 314.3h0M136.5 274.2h0M143.7 313.5h0M145.1 280.4h0M137.3 271.9h0M132.0 307.0h0M144.0 323.2h0M137.6 320.4h0M136.3 312.2h0M143.2 311.6h0M141.5 290.4h0M140.4 292.2h0M145.0 332.7h0M140.5 317.0h0M139.6 275.5h0M138.8 282.3h0M141.5 283.9h0M129.2 298.1h0M133.1 287.0h0M134.8 321.6h0M135.8 326.1h0M139.8 280.1h0M128.7 309.5h0M140.8 316.9h0M143.7 274.7h0M134.1 285.7h0M136.5 286.0h0M144.1 279.7h0M138.1 324.9h0M135.8 287.2h0M139.2 284.6h0M144.0 329.2h0M132.9 274.7h0M141.0 308.4h0M140.9 296.9h0M139.8 314.9h0M130.9 302.8h0M128.7 293.3h0M131.6 320.9h0M144.3 300.2h0M146.6 333.8h0M146.4 330.3h0M129.7 285.0h0M140.0 288.1h0M146.6 337.9h0M136.6 321.8h0M146.9 329.6h0M141.1 331.0h0M144.7 336.9h0M131.8 295.3h0M138.8 271.4h0M139.3 279.1h0M134.5 317.9h0M137.3 322.0h0M131.6 295.2h0M132.8 275.7h0M144.5 299.9h0M130.1 307.7h0M134.0 316.0h0M143.9 275.5h0M141.6 332.3h0M144.9 286.1h0M139.1 279.9h0M141.8 281.2h0M137.2 272.8h0M135.2 287.1h0M145.3 306.1h0M140.4 274.1h0M135.8 304.4h0M128.7 309.5h0M130.0 305.4h0M137.2 290.0h0M143.5 274.7h0M134.2 306.4h0M135.2 303.6h0M132.8 305.1h0M134.6 276.3h0M129.4 301.1h0M144.9 297.6h0M142.8 334.0h0M140.9 277.1h0M142.9 289.3h0M145.9 335.1h0M138.1 321.4h0M128.7 312.1h0M144.8 314.8h0M130.1 288.4h0M142.5 274.8h0M144.9 293.1h0M145.6 313.9h0M129.7 302.6h0M129.1 303.1h0M134.0 308.9h0M138.6 300.8h0M144.0 334.4h0M135.0 273.4h0M141.6 309.3h0M138.2 326.7h0M134.8 317.7h0M141.6 282.8h0M144.1 313.8h0M143.9 303.9h0M141.0 282.2h0M134.9 300.3h0M130.8 291.2h0M143.8 278.4h0M143.8 289.0h0M135.0 318.5h0M143.9 273.9h0M141.0 297.6h0M135.2 300.2h0M143.1 331.3h0M130.0 304.5h0M137.1 315.4h0M139.6 275.0h0M136.8 295.2h0M129.3 309.7h0M138.0 298.7h0M131.9 303.3h0M133.1 286.2h0M146.6 333.1h0M139.2 316.6h0M135.6 309.3h0M137.2 305.4h0M129.9 307.7h0M129.2 296.4h0M138.9 275.9h0M141.9 313.9h0M144.9 295.5h0M142.0 295.2h0M131.6 319.7h0M128.7 307.6h0M139.1 314.7h0M144.8 294.9h0M145.8 321.9h0M133.1 287.6h0M139.5 306.4h0M143.6 307.9h0M140.3 332.1h0M130.0 307.6h0M141.5 290.9h0M145.0 316.7h0M130.7 281.0h0M135.4 302.8h0M140.1 277.5h0M129.3 302.6h0M133.6 317.2h0M131.8 308.5h0M132.4 317.5h0M138.7 285.9h0M136.3 289.5h0M144.7 289.4h0M134.2 316.7h0M130.4 283.4h0M135.1 318.4h0M134.0 311.3h0M132.8 298.0h0M132.4 302.4h0M139.4 286.4h0M141.6 327.4h0M144.9 295.9h0M134.2 281.6h0M143.0 305.6h0M141.2 275.1h0M137.4 313.7h0M134.2 306.2h0M137.4 278.2h0M138.2 282.9h0M136.8 296.2h0M131.8 297.0h0M135.6 316.9h0M137.8 323.5h0M134.0 323.7h0M138.4 294.6h0M142.7 272.8h0M141.3 305.0h0M146.2 320.9h0M136.1 313.3h0M137.2 324.0h0M130.9 310.4h0M134.8 299.4h0M143.3 314.2h0M138.7 314.0h0M132.7 277.5h0M137.4 308.9h0M144.1 299.4h0M137.4 274.0h0M136.4 320.8h0M132.9 318.1h0M132.7 318.8h0M132.2 298.7h0M139.5 303.9h0M142.1 329.4h0M130.6 296.6h0M139.0 282.4h0M130.0 317.0h0M134.7 295.1h0M141.1 276.8h0M135.9 318.3h0M131.3 319.9h0M139.2 278.9h0M130.5 288.9h0M136.5 309.6h0M132.0 309.0h0M139.0 300.5h0M142.3 307.4h0M129.2 302.5h0M147.0 335.8h0M141.4 307.0h0M139.4 293.8h0M133.2 316.6h0M143.5 305.8h0M132.5 277.1h0M141.9 280.7h0M144.0 290.4h0M144.3 292.4h0M144.2 310.1h0M144.9 291.3h0M136.1 318.4h0M128.9 291.7h0M132.0 283.6h0M140.2 301.1h0M141.1 318.0h0M147.8 339.8h0M137.2 303.9h0M133.3 293.6h0M137.6 272.3h0M132.5 300.5h0M132.4 315.8h0M134.5 305.6h0M128.8 295.7h0M133.2 276.0h0M131.5 287.1h0M137.7 312.5h0M139.6 320.8h0M139.3 272.9h0M134.2 279.6h0M140.6 296.9h0" stroke="#8c3626" stroke-width="1.60" stroke-linecap="round" fill="none"/>
<path d="M179.3 320.4h0M202.0 340.0h0M178.5 359.6h0M212.4 308.1h0M168.6 347.5h0M173.7 357.0h0M190.7 333.4h0M180.0 336.1h0M181.9 299.9h0M193.1 357.4h0M199.7 330.1h0M176.9 323.5h0M206.4 330.4h0M199.1 311.2h0M183.2 312.1h0M183.6 317.9h0M185.5 344.8h0M197.1 354.0h0M198.8 304.1h0M174.9 314.7h0M171.6 316.2h0M199.9 348.7h0M188.8 335.4h0M198.5 344.7h0M187.8 323.2h0M192.4 337.8h0M173.0 329.7h0M191.4 349.9h0M180.5 363.2h0M202.6 340.6h0M191.4 310.3h0M183.3 319.6h0M190.2 303.7h0M183.4 318.2h0M190.6 341.0h0M210.3 345.1h0M170.0 359.4h0M181.6 341.5h0M196.6 358.2h0M199.4 324.5h0M213.8 326.4h0M171.4 360.1h0M184.9 352.1h0M200.9 320.6h0M191.7 325.2h0M206.9 319.9h0M188.3 350.8h0M171.9 351.7h0M194.1 344.3h0M200.4 315.1h0M210.9 340.4h0M184.1 305.9h0M176.5 301.1h0M180.8 308.0h0M171.3 313.4h0M171.0 319.5h0M171.5 309.4h0M195.4 324.0h0M200.6 314.3h0M199.0 317.7h0M187.7 315.8h0M179.2 299.0h0M197.2 302.6h0M171.3 314.1h0M176.4 323.9h0M183.0 319.5h0M205.3 324.4h0M210.7 327.8h0M183.1 337.8h0M200.5 354.2h0M194.0 307.1h0M212.6 330.7h0M172.1 334.6h0M181.0 319.5h0M195.1 342.9h0M199.6 329.0h0M204.8 339.6h0M189.7 309.0h0M181.6 303.7h0M209.9 329.4h0M194.2 354.3h0M190.1 338.1h0M173.1 315.2h0M172.5 349.0h0M193.6 315.6h0M204.3 324.5h0M176.1 303.6h0M172.9 332.6h0M192.2 322.5h0M177.1 316.6h0M187.4 348.5h0M203.0 352.5h0M205.6 319.5h0M178.5 332.5h0M203.4 316.8h0M211.8 306.9h0M177.9 324.7h0M175.1 307.6h0M181.9 299.3h0M196.5 335.6h0M173.4 348.5h0M186.9 335.6h0M210.7 332.4h0M171.6 321.2h0M173.9 358.4h0M178.1 303.6h0M188.9 321.3h0M177.4 319.9h0M171.6 333.3h0M198.3 308.8h0M193.1 340.5h0M178.9 304.6h0M204.0 322.6h0M181.9 335.2h0M200.0 339.4h0M166.8 355.0h0M199.5 357.2h0M199.8 342.9h0M179.8 322.1h0M213.2 319.9h0M212.0 316.3h0M189.2 363.5h0M198.4 333.7h0M172.8 336.8h0M215.4 316.3h0M174.9 358.2h0M202.0 310.0h0M173.4 340.0h0M210.0 319.1h0M205.0 341.8h0M172.6 346.1h0M180.7 310.2h0M189.2 301.1h0M211.0 338.8h0M184.8 330.7h0M174.3 344.9h0M207.4 328.8h0M169.0 321.0h0M185.5 299.7h0M194.9 361.2h0M187.2 322.1h0M192.8 304.8h0M186.6 319.9h0M175.1 355.0h0M195.1 347.1h0M196.6 313.9h0M180.2 311.2h0M197.8 319.4h0M172.7 353.9h0M172.7 364.3h0M182.7 344.0h0M215.8 315.1h0M210.4 321.1h0M193.1 329.2h0M193.4 344.7h0M204.8 324.3h0M201.1 357.6h0M191.8 330.4h0M189.5 311.1h0M196.8 316.4h0M184.9 361.2h0M180.7 321.1h0M199.3 339.3h0M208.9 307.3h0M179.3 310.6h0M173.3 325.3h0M204.9 354.7h0M176.1 346.4h0M175.6 329.2h0M172.6 314.8h0M207.2 347.0h0M191.1 358.4h0M171.8 318.7h0M200.1 307.5h0M188.7 327.5h0M175.0 317.3h0M179.3 335.3h0M183.2 337.0h0M182.7 347.2h0M210.4 340.2h0M208.2 330.0h0M170.4 359.0h0M176.1 303.8h0M203.8 305.1h0M191.9 327.5h0M168.8 329.2h0M171.9 345.8h0M208.6 326.9h0M194.3 325.2h0M178.0 338.8h0M166.8 360.3h0M169.0 327.5h0M184.6 335.5h0M178.8 310.9h0M192.7 353.5h0M178.5 320.4h0M172.1 357.4h0M206.6 308.1h0M212.1 332.1h0M196.0 341.2h0M203.9 313.1h0M184.1 335.7h0M197.9 347.3h0M177.5 312.0h0M200.1 327.4h0M168.8 352.3h0M208.5 310.3h0M171.7 359.4h0M174.9 302.0h0M184.1 322.2h0M181.4 311.3h0M189.2 355.4h0M175.9 309.1h0M185.0 306.1h0M212.2 330.1h0M189.7 305.8h0M172.0 322.5h0M186.3 339.7h0M189.9 355.5h0M170.7 337.4h0M181.8 326.8h0M196.3 354.7h0M193.4 304.5h0M214.2 311.2h0M206.8 306.3h0M171.4 343.4h0M186.3 355.6h0M170.3 328.9h0M174.6 309.7h0M189.0 351.0h0M206.0 325.7h0M183.7 316.2h0M201.0 323.8h0M201.7 306.5h0M177.4 335.5h0M208.5 328.0h0M171.2 324.1h0M183.6 322.6h0M188.2 308.4h0M173.3 312.0h0M187.1 308.6h0M173.5 337.8h0M194.7 317.5h0M201.7 334.5h0M176.6 356.7h0M194.8 308.2h0M191.3 302.0h0M181.7 358.4h0M185.9 332.3h0M207.5 315.4h0M196.6 330.8h0M177.3 311.9h0M186.9 353.7h0M201.3 324.0h0M183.3 360.3h0M184.2 313.4h0M177.3 334.2h0M174.1 350.5h0M211.7 323.2h0M212.1 329.2h0M196.7 359.7h0M181.9 335.0h0M203.3 312.3h0M213.7 327.0h0M179.5 311.1h0M188.3 315.1h0M176.9 329.3h0M187.2 364.2h0M187.4 301.7h0M169.1 346.8h0M192.7 338.6h0M214.4 318.7h0M175.2 326.4h0M194.6 348.7h0M181.6 329.5h0M176.8 339.0h0M205.6 336.4h0M209.4 314.9h0M205.9 346.3h0M209.8 335.7h0M181.5 324.6h0M202.4 318.4h0M191.9 350.7h0M184.8 323.1h0M171.4 344.0h0M187.9 323.7h0M176.3 355.4h0M168.1 361.0h0M173.0 328.3h0M179.5 302.8h0M181.9 336.2h0M211.9 333.1h0M209.6 326.3h0M208.4 314.8h0M185.4 314.0h0M185.1 331.8h0M186.6 317.8h0M203.0 341.4h0M169.8 358.8h0M170.7 320.1h0M181.5 314.6h0M185.5 313.0h0M190.3 317.1h0M174.2 313.1h0M175.2 352.7h0M207.3 321.6h0M211.3 325.6h0M196.2 351.0h0M204.4 336.6h0M183.1 310.0h0M187.1 363.3h0M191.8 342.2h0M196.8 336.5h0M199.1 332.0h0M187.2 362.6h0M185.4 340.5h0M214.2 318.5h0M171.7 314.2h0M190.7 300.4h0M211.7 337.0h0M181.1 327.0h0M206.1 317.7h0M172.0 335.4h0M172.9 356.8h0M174.9 355.6h0M185.2 316.5h0M207.5 314.4h0M214.0 316.7h0M178.3 323.3h0M187.2 355.4h0" stroke="#6e6e6e" stroke-width="1.60" stroke-linecap="round" fill="none"/>
<path d="M208.5 344.5h0M196.3 357.4h0M200.6 331.3h0M191.5 352.0h0M190.8 352.5h0M208.4 333.5h0M196.8 347.0h0M201.8 341.3h0M201.7 357.4h0M209.7 337.8h0M211.9 337.6h0M195.3 342.3h0M199.4 342.2h0M206.1 353.0h0M202.3 330.5h0M198.5 338.3h0M198.8 356.0h0M197.1 350.7h0M204.2 352.3h0M206.1 336.3h0M203.6 340.0h0M197.5 347.1h0M202.6 337.6h0M200.9 339.3h0M209.0 343.1h0M192.7 353.0h0M199.4 347.5h0M195.8 339.5h0M196.3 351.5h0M209.1 334.9h0M198.6 340.1h0M206.9 353.1h0M206.4 353.0h0M208.6 338.6h0M201.2 338.1h0M205.1 343.8h0M192.1 347.3h0M204.5 341.6h0M207.7 343.3h0M190.6 338.9h0M211.7 338.4h0M199.1 343.2h0M189.5 346.2h0M197.3 352.1h0M205.3 348.7h0M208.0 342.5h0M197.6 351.3h0M187.9 337.5h0M192.1 336.8h0M207.4 350.2h0M194.3 344.5h0M204.7 349.2h0M208.0 341.4h0M210.6 348.1h0M201.6 358.2h0M202.0 344.7h0M209.6 344.6h0M196.8 334.0h0M191.3 340.8h0M199.1 348.7h0M190.7 335.6h0M201.8 354.4h0M209.8 348.0h0M192.8 356.5h0M201.9 353.7h0M200.7 344.5h0M209.1 348.3h0M209.9 342.9h0M204.1 346.2h0M190.1 343.2h0M199.1 338.2h0M204.7 354.3h0M193.1 344.8h0M196.5 350.7h0M197.1 333.9h0M206.5 337.3h0M197.2 352.6h0M196.6 333.4h0M197.7 332.5h0M191.6 353.7h0M201.8 342.6h0M193.7 337.0h0M206.1 340.7h0M188.0 338.9h0M197.3 356.4h0M195.7 347.0h0M199.4 344.1h0M208.0 334.5h0M190.6 335.8h0M196.1 337.7h0" stroke="#6e6e6e" stroke-width="1.60" stroke-linecap="round" fill="none"/>
<path d="M160.7 269.9h0M172.8 275.0h0M164.5 269.8h0M163.2 267.6h0M171.6 272.3h0M175.3 276.1h0M172.7 280.3h0M171.2 285.3h0M166.6 268.5h0M167.0 269.6h0M176.2 285.7h0M178.8 280.3h0M162.8 276.7h0M167.6 274.0h0M162.6 278.9h0M180.1 289.1h0M171.5 272.6h0M166.4 275.9h0M180.4 287.9h0M164.6 276.7h0M158.2 272.1h0M183.3 291.8h0M165.2 276.1h0M173.4 281.8h0M170.0 279.0h0M167.3 268.4h0M166.1 266.2h0M163.4 271.8h0M170.0 277.9h0M182.7 293.7h0M163.0 274.5h0M161.1 267.2h0M184.5 291.0h0M182.1 292.9h0M182.7 291.5h0M164.9 277.3h0M176.3 276.3h0M175.2 282.8h0M156.0 270.9h0M178.1 287.4h0M158.2 274.2h0M167.0 279.2h0M164.6 264.9h0M166.0 280.9h0M153.8 270.2h0" stroke="#2b7a3b" stroke-width="1.60" stroke-linecap="round" fill="none"/>
<circle cx="185.47" cy="250.95" r="0.8" fill="#2b7a3b"/>
<circle cx="170.36" cy="259.34" r="0.8" fill="#2b7a3b"/>
<circle cx="203.10" cy="266.06" r="0.8" fill="#2b7a3b"/>
<circle cx="190.51" cy="268.57" r="0.8" fill="#2b7a3b"/>
<circle cx="201.42" cy="287.88" r="0.8" fill="#2b7a3b"/>
<circle cx="212.33" cy="294.59" r="0.8" fill="#2b7a3b"/>
<circle cx="204.77" cy="303.83" r="0.8" fill="#2b7a3b"/>
<circle cx="163.31" cy="263.87" r="0.8" fill="#2b7a3b"/>
<line x1="20.10" y1="245.60" x2="20.10" y2="374.90" stroke="#333" stroke-width="0.9"/>
<line x1="19.70" y1="374.50" x2="119.50" y2="374.50" stroke="#333" stroke-width="0.9"/>
<line x1="17.90" y1="252.30" x2="20.10" y2="252.30" stroke="#333" stroke-width="0.7"/>
<text x="16.80" y="255.54" font-size="9" text-anchor="end" fill="#3d3d3d">4</text>
<line x1="17.90" y1="282.10" x2="20.10" y2="282.10" stroke="#333" stroke-width="0.7"/>
<text x="16.80" y="285.34" font-size="9" text-anchor="end" fill="#3d3d3d">2</text>
<line x1="17.90" y1="311.60" x2="20.10" y2="311.60" stroke="#333" stroke-width="0.7"/>
<text x="16.80" y="314.84" font-size="9" text-anchor="end" fill="#3d3d3d">0</text>
<line x1="17.90" y1="341.80" x2="20.10" y2="341.80" stroke="#333" stroke-width="0.7"/>
<text x="16.80" y="345.04" font-size="9" text-anchor="end" fill="#3d3d3d">−2</text>
<line x1="17.90" y1="371.90" x2="20.10" y2="371.90" stroke="#333" stroke-width="0.7"/>
<text x="16.80" y="375.14" font-size="9" text-anchor="end" fill="#3d3d3d">−4</text>
<line x1="26.10" y1="374.50" x2="26.10" y2="376.70" stroke="#333" stroke-width="0.7"/>
<text x="26.10" y="386.34" font-size="9" text-anchor="middle" fill="#3d3d3d">−5.0</text>
<line x1="48.90" y1="374.50" x2="48.90" y2="376.70" stroke="#333" stroke-width="0.7"/>
<text x="48.90" y="386.34" font-size="9" text-anchor="middle" fill="#3d3d3d">−2.5</text>
<line x1="71.90" y1="374.50" x2="71.90" y2="376.70" stroke="#333" stroke-width="0.7"/>
<text x="71.90" y="386.34" font-size="9" text-anchor="middle" fill="#3d3d3d">0.0</text>
<line x1="94.60" y1="374.50" x2="94.60" y2="376.70" stroke="#333" stroke-width="0.7"/>
<text x="94.60" y="386.34" font-size="9" text-anchor="middle" fill="#3d3d3d">2.5</text>
<line x1="117.30" y1="374.50" x2="117.30" y2="376.70" stroke="#333" stroke-width="0.7"/>
<text x="117.30" y="386.34" font-size="9" text-anchor="middle" fill="#3d3d3d">5.0</text>
<line x1="130.40" y1="375.00" x2="230.80" y2="375.00" stroke="#333" stroke-width="0.9"/>
<line x1="136.80" y1="375.00" x2="136.80" y2="377.20" stroke="#333" stroke-width="0.7"/>
<text x="136.80" y="386.34" font-size="9" text-anchor="middle" fill="#3d3d3d">−5.0</text>
<line x1="159.50" y1="375.00" x2="159.50" y2="377.20" stroke="#333" stroke-width="0.7"/>
<text x="159.50" y="386.34" font-size="9" text-anchor="middle" fill="#3d3d3d">−2.5</text>
<line x1="182.30" y1="375.00" x2="182.30" y2="377.20" stroke="#333" stroke-width="0.7"/>
<text x="182.30" y="386.34" font-size="9" text-anchor="middle" fill="#3d3d3d">0.0</text>
<line x1="205.30" y1="375.00" x2="205.30" y2="377.20" stroke="#333" stroke-width="0.7"/>
<text x="205.30" y="386.34" font-size="9" text-anchor="middle" fill="#3d3d3d">2.5</text>
<line x1="228.20" y1="375.00" x2="228.20" y2="377.20" stroke="#333" stroke-width="0.7"/>
<text x="228.20" y="386.34" font-size="9" text-anchor="middle" fill="#3d3d3d">5.0</text>
<text x="69.80" y="246.04" font-size="9" text-anchor="middle" fill="#1a1a1a">NBM</text>
<text x="180.90" y="245.84" font-size="9" text-anchor="middle" fill="#1a1a1a">LRMDS</text>
<text x="125.20" y="395.28" font-size="9.1" text-anchor="middle" fill="#1a1a1a">UMAP_1</text>
<text transform="translate(6.00,310.00) rotate(-90)" x="0" y="3.28" font-size="9.1" text-anchor="middle" fill="#1a1a1a">UMAP_2</text>
<circle cx="20.00" cy="403.80" r="1.5" fill="#6e6e6e"/>
<text x="23.30" y="406.91" font-size="9.2" text-anchor="start" fill="#1a1a1a">Low−output HSC</text>
<circle cx="105.80" cy="403.80" r="1.5" fill="#2b7a3b"/>
<text x="109.10" y="406.91" font-size="9.2" text-anchor="start" fill="#1a1a1a">HSC-1</text>
<circle cx="144.20" cy="403.80" r="1.5" fill="#8c3626"/>
<text x="147.50" y="406.91" font-size="9.2" text-anchor="start" fill="#1a1a1a">High−output HSC-2</text>
<text x="250.50" y="220.00" font-size="13" text-anchor="start" fill="#111">e</text>
<line x1="261.60" y1="245.90" x2="261.60" y2="376.20" stroke="#333" stroke-width="0.9"/>
<line x1="261.20" y1="375.80" x2="318.20" y2="375.80" stroke="#333" stroke-width="0.9"/>
<line x1="322.00" y1="375.80" x2="377.80" y2="375.80" stroke="#333" stroke-width="0.9"/>
<line x1="381.90" y1="375.80" x2="439.00" y2="375.80" stroke="#333" stroke-width="0.9"/>
<line x1="259.50" y1="268.60" x2="261.60" y2="268.60" stroke="#333" stroke-width="0.7"/>
<text x="260.00" y="271.98" font-size="9.4" text-anchor="end" fill="#3d3d3d">75</text>
<line x1="259.50" y1="304.20" x2="261.60" y2="304.20" stroke="#333" stroke-width="0.7"/>
<text x="260.00" y="307.58" font-size="9.4" text-anchor="end" fill="#3d3d3d">50</text>
<line x1="259.50" y1="339.50" x2="261.60" y2="339.50" stroke="#333" stroke-width="0.7"/>
<text x="260.00" y="342.88" font-size="9.4" text-anchor="end" fill="#3d3d3d">25</text>
<line x1="259.50" y1="375.00" x2="261.60" y2="375.00" stroke="#333" stroke-width="0.7"/>
<text x="260.00" y="378.38" font-size="9.4" text-anchor="end" fill="#3d3d3d">0</text>
<text transform="translate(243.40,311.10) rotate(-90)" x="0" y="3.24" font-size="9.0" text-anchor="middle" fill="#1a1a1a">Percentage</text>
<text x="289.40" y="385.29" font-size="9.13" text-anchor="middle" fill="#333">Low−output HSC</text>
<text x="351.10" y="385.29" font-size="9.13" text-anchor="middle" fill="#333">HSC-1</text>
<text x="410.80" y="385.29" font-size="9.13" text-anchor="middle" fill="#333">High−output HSC-2</text>
<line x1="277.00" y1="315.30" x2="277.00" y2="335.00" stroke="#2d6599" stroke-width="0.8"/>
<rect x="270.30" y="297.20" width="13.40" height="18.10" fill="none" stroke="#2d6599" stroke-width="0.8"/>
<line x1="270.30" y1="303.40" x2="283.70" y2="303.40" stroke="#2d6599" stroke-width="0.8"/>
<circle cx="273.70" cy="295.00" r="1.65" fill="#2d6599"/>
<circle cx="275.30" cy="298.00" r="1.65" fill="#2d6599"/>
<circle cx="274.80" cy="308.60" r="1.65" fill="#2d6599"/>
<circle cx="273.70" cy="335.00" r="1.65" fill="#2d6599"/>
<line x1="302.70" y1="298.90" x2="302.70" y2="307.30" stroke="#a3382c" stroke-width="0.8"/>
<line x1="302.70" y1="339.70" x2="302.70" y2="362.70" stroke="#a3382c" stroke-width="0.8"/>
<rect x="296.30" y="307.30" width="13.20" height="32.40" fill="none" stroke="#a3382c" stroke-width="0.8"/>
<line x1="296.30" y1="309.00" x2="309.50" y2="309.00" stroke="#a3382c" stroke-width="0.8"/>
<circle cx="301.70" cy="299.20" r="1.65" fill="#a3382c"/>
<circle cx="303.10" cy="309.00" r="1.65" fill="#a3382c"/>
<circle cx="304.40" cy="307.30" r="1.65" fill="#a3382c"/>
<circle cx="306.80" cy="340.00" r="1.65" fill="#a3382c"/>
<circle cx="306.10" cy="362.70" r="1.65" fill="#a3382c"/>
<line x1="337.20" y1="304.20" x2="337.20" y2="335.20" stroke="#2d6599" stroke-width="0.8"/>
<rect x="330.90" y="335.20" width="12.80" height="23.30" fill="none" stroke="#2d6599" stroke-width="0.8"/>
<line x1="330.90" y1="351.00" x2="343.70" y2="351.00" stroke="#2d6599" stroke-width="0.8"/>
<circle cx="342.40" cy="303.90" r="1.65" fill="#2d6599"/>
<circle cx="333.70" cy="345.40" r="1.65" fill="#2d6599"/>
<circle cx="341.00" cy="357.30" r="1.65" fill="#2d6599"/>
<circle cx="335.40" cy="362.90" r="1.65" fill="#2d6599"/>
<rect x="356.40" y="365.30" width="13.50" height="2.90" fill="none" stroke="#a3382c" stroke-width="0.8"/>
<line x1="356.40" y1="366.60" x2="369.90" y2="366.60" stroke="#a3382c" stroke-width="0.8"/>
<circle cx="357.70" cy="366.00" r="1.65" fill="#a3382c"/>
<circle cx="361.80" cy="366.70" r="1.65" fill="#a3382c"/>
<circle cx="367.00" cy="362.90" r="1.65" fill="#a3382c"/>
<circle cx="366.10" cy="370.20" r="1.65" fill="#a3382c"/>
<circle cx="364.00" cy="366.80" r="1.65" fill="#a3382c"/>
<rect x="391.30" y="327.90" width="13.30" height="6.10" fill="none" stroke="#2d6599" stroke-width="0.8"/>
<line x1="391.30" y1="329.10" x2="404.60" y2="329.10" stroke="#2d6599" stroke-width="0.8"/>
<circle cx="395.70" cy="329.10" r="1.65" fill="#2d6599"/>
<circle cx="401.10" cy="325.70" r="1.65" fill="#2d6599"/>
<circle cx="402.70" cy="330.10" r="1.65" fill="#2d6599"/>
<circle cx="396.60" cy="345.00" r="1.65" fill="#2d6599"/>
<line x1="423.40" y1="251.60" x2="423.40" y2="268.80" stroke="#a3382c" stroke-width="0.8"/>
<rect x="416.70" y="268.80" width="13.10" height="44.70" fill="none" stroke="#a3382c" stroke-width="0.8"/>
<line x1="416.70" y1="309.50" x2="429.80" y2="309.50" stroke="#a3382c" stroke-width="0.8"/>
<circle cx="420.40" cy="251.60" r="1.65" fill="#a3382c"/>
<circle cx="423.70" cy="268.80" r="1.65" fill="#a3382c"/>
<circle cx="424.60" cy="308.90" r="1.65" fill="#a3382c"/>
<circle cx="421.60" cy="313.50" r="1.65" fill="#a3382c"/>
<circle cx="425.60" cy="317.70" r="1.65" fill="#a3382c"/>
<text x="410.60" y="242.40" font-size="8.2" text-anchor="middle" fill="#333">p=0.037</text>
<line x1="398.00" y1="245.50" x2="423.40" y2="245.50" stroke="#333" stroke-width="0.8"/>
<line x1="314.00" y1="395.40" x2="314.00" y2="402.60" stroke="#2d6599" stroke-width="0.7"/>
<rect x="310.60" y="396.60" width="6.80" height="4.80" fill="none" stroke="#2d6599" stroke-width="0.7"/>
<line x1="310.60" y1="399.00" x2="317.40" y2="399.00" stroke="#2d6599" stroke-width="0.7"/>
<circle cx="314.00" cy="399.00" r="1.1" fill="#2d6599"/>
<text x="323.40" y="402.20" font-size="8.9" text-anchor="start" fill="#1a1a1a">NBM</text>
<line x1="365.90" y1="395.40" x2="365.90" y2="402.60" stroke="#a3382c" stroke-width="0.7"/>
<rect x="362.50" y="396.60" width="6.80" height="4.80" fill="none" stroke="#a3382c" stroke-width="0.7"/>
<line x1="362.50" y1="399.00" x2="369.30" y2="399.00" stroke="#a3382c" stroke-width="0.7"/>
<circle cx="365.90" cy="399.00" r="1.1" fill="#a3382c"/>
<text x="375.50" y="402.28" font-size="9.1" text-anchor="start" fill="#1a1a1a">LRMDS</text>
<text x="455.00" y="219.80" font-size="13" text-anchor="start" fill="#111">f</text>
<line x1="564.40" y1="243.50" x2="564.40" y2="377.00" stroke="#cfcfcf" stroke-width="1.0"/>
<path d="M549.8 372.3h0M556.2 376.0h0M554.2 375.6h0M561.8 370.6h0M560.2 360.9h0M544.0 363.3h0M546.8 369.2h0M537.0 375.5h0M555.1 361.7h0M556.3 361.3h0M549.6 361.1h0M534.3 362.7h0M563.2 374.7h0M546.7 371.1h0M552.3 376.4h0M559.9 364.2h0M540.0 361.8h0M531.9 360.0h0M537.8 369.8h0M539.1 364.4h0M557.1 367.5h0M538.3 367.6h0M552.9 359.8h0M554.5 374.2h0M540.2 369.3h0M526.8 359.7h0M533.8 372.6h0M561.3 375.9h0M539.4 365.3h0M546.1 372.9h0M556.3 374.4h0M529.9 365.0h0M549.3 375.5h0M539.2 375.6h0M546.9 364.5h0M538.3 362.0h0M529.4 361.5h0M552.3 376.9h0M532.5 359.7h0M541.7 363.1h0M548.7 373.8h0M543.5 366.5h0M527.7 367.8h0M557.9 361.2h0M553.9 376.1h0M550.1 373.1h0M530.5 366.7h0M537.5 367.0h0M544.8 372.1h0M544.4 364.1h0M541.6 361.5h0M562.4 370.2h0M545.2 365.0h0M529.8 363.8h0M555.7 374.6h0M540.0 373.1h0M555.5 371.4h0M551.3 372.6h0M540.1 371.6h0M537.0 367.6h0M555.3 371.4h0M537.5 376.0h0M550.8 369.4h0M535.9 371.0h0M543.8 373.7h0M550.7 373.3h0M539.5 370.5h0M554.1 373.9h0M539.6 374.1h0M559.0 371.3h0M563.0 376.2h0M545.9 368.4h0M532.7 374.0h0M561.6 367.5h0M552.4 371.9h0M553.8 361.9h0M555.7 369.4h0M551.4 366.5h0M549.8 372.9h0M550.3 371.9h0M527.5 361.7h0M543.0 370.6h0M534.7 371.3h0M550.1 359.6h0M544.1 362.9h0M528.5 361.2h0M538.4 362.1h0M533.7 359.4h0M543.9 365.7h0M549.4 369.5h0M535.4 375.2h0M536.9 366.3h0M540.5 359.5h0M549.4 360.5h0M546.9 365.0h0M548.2 376.2h0M557.1 366.4h0M556.9 370.5h0M540.3 361.4h0M548.8 369.1h0M562.3 376.4h0M549.3 365.2h0M559.9 358.8h0M530.5 369.1h0M549.5 361.4h0M550.0 375.0h0M540.6 366.7h0M535.0 364.1h0M562.4 375.4h0M548.8 363.5h0M542.0 364.6h0M537.2 367.5h0M531.1 370.1h0M543.1 364.1h0M555.7 373.8h0M536.7 375.8h0M555.7 363.3h0M536.5 361.6h0M549.2 367.4h0M550.6 369.8h0M554.3 361.0h0M554.9 364.3h0M546.5 364.9h0M537.6 368.4h0M543.9 365.4h0M554.4 369.6h0M527.9 363.4h0M543.5 375.5h0M559.7 368.7h0M542.5 369.3h0M553.0 370.3h0M544.5 375.4h0M540.9 365.9h0M558.4 362.4h0M537.6 373.9h0M552.5 366.7h0M537.2 373.0h0M560.6 361.4h0M544.4 368.8h0M545.1 364.8h0M532.2 369.5h0M556.9 360.0h0M535.1 373.7h0M556.1 370.9h0M552.7 359.7h0M558.0 362.8h0M550.7 376.1h0M553.1 361.3h0M537.4 375.5h0M532.1 369.9h0M542.0 361.7h0M549.8 359.6h0M530.5 365.7h0M529.2 359.8h0M548.0 372.3h0M559.4 361.2h0M542.6 364.5h0M548.9 367.7h0M561.6 365.6h0M532.2 370.3h0M545.4 375.4h0M547.3 370.1h0M536.3 368.8h0M536.0 372.5h0M545.8 361.2h0M535.3 365.6h0M554.1 362.1h0M553.2 370.7h0M529.7 371.0h0M529.9 361.1h0M548.7 363.1h0M559.3 367.5h0M538.6 373.3h0M528.5 361.5h0M562.1 371.2h0M534.8 360.9h0M562.9 370.9h0M557.2 361.3h0M549.9 365.2h0M535.3 364.9h0M549.5 365.1h0M540.9 361.3h0M557.6 370.6h0M556.6 366.7h0M558.3 368.2h0M548.7 369.2h0M554.2 366.0h0M530.1 359.4h0M534.1 359.5h0M559.8 367.6h0M554.9 358.8h0M544.1 375.0h0M549.7 366.6h0M543.9 360.6h0M532.3 361.7h0M540.5 365.8h0M559.4 361.6h0M536.0 363.8h0M532.5 364.0h0M535.3 367.6h0M540.3 375.9h0M552.2 371.1h0M544.1 376.0h0M530.9 371.0h0M537.4 371.1h0M553.8 361.8h0M534.0 359.3h0M535.1 360.2h0M540.1 364.5h0M544.0 364.0h0M553.9 371.9h0M532.6 363.2h0M551.6 375.9h0M550.7 366.6h0M541.8 359.6h0M547.0 376.8h0M545.9 365.2h0M530.0 360.1h0M560.1 367.7h0M561.5 359.8h0M535.6 359.7h0M541.4 359.9h0M536.1 366.2h0M537.9 359.7h0M533.2 368.1h0M541.5 368.5h0M529.7 364.5h0M530.5 368.7h0M561.0 369.7h0M558.5 362.7h0M544.7 369.2h0M540.6 370.2h0M553.6 375.4h0M538.0 367.0h0M557.4 362.9h0M530.8 364.5h0M557.1 364.5h0M531.4 360.3h0M535.7 360.3h0M542.5 369.3h0M535.7 359.9h0M552.7 359.7h0M534.0 364.0h0M540.5 360.6h0M542.2 364.5h0M554.6 368.9h0M560.0 370.7h0M554.9 369.3h0M543.0 373.7h0M551.0 376.2h0M553.7 371.6h0M536.5 373.6h0M540.8 361.2h0M529.0 361.9h0M536.3 371.1h0M537.2 360.0h0M555.1 368.9h0M527.5 359.7h0M531.4 365.3h0M558.7 376.1h0M549.4 363.0h0M542.5 365.4h0M538.9 359.0h0M548.4 373.8h0M553.7 360.5h0M546.3 361.9h0M553.0 366.9h0M561.6 373.3h0M530.9 364.6h0M560.7 367.2h0M542.7 366.8h0M555.2 375.8h0M546.4 376.4h0M548.8 360.7h0M557.0 366.4h0M544.5 374.8h0M541.2 362.7h0M536.9 362.5h0M547.5 365.3h0M554.6 363.2h0M539.7 363.3h0M563.2 374.1h0M558.3 370.1h0M541.5 361.4h0M557.6 367.7h0M527.9 361.9h0M530.2 371.9h0M560.2 362.4h0M556.3 364.7h0M552.0 374.5h0M549.8 373.4h0M540.6 359.0h0M545.6 369.5h0M533.4 365.9h0M538.4 359.3h0M538.2 365.8h0M544.3 371.6h0M557.0 375.6h0M552.4 371.0h0M546.6 373.3h0M540.1 369.6h0M551.9 368.3h0M537.1 360.2h0M529.8 365.3h0M548.2 372.6h0M553.2 364.4h0M561.3 363.8h0M553.3 360.1h0M554.7 371.0h0M562.3 375.1h0M552.2 374.1h0M554.1 369.9h0M534.3 368.2h0M560.0 363.2h0M563.0 368.7h0M541.2 358.9h0M541.1 362.0h0M550.9 375.2h0M560.5 370.0h0M541.0 360.8h0M552.3 368.9h0M553.3 365.6h0M559.7 362.7h0M537.9 363.7h0M549.8 375.1h0M532.8 370.3h0M555.2 362.9h0M528.8 369.1h0M557.6 374.8h0M553.7 366.4h0M542.4 368.4h0M560.3 364.3h0M537.0 369.8h0M527.6 360.9h0M547.5 369.8h0M533.4 362.3h0M548.7 370.6h0M552.3 372.1h0M528.8 367.6h0M557.7 376.2h0M538.4 374.3h0M550.6 375.7h0M535.1 371.5h0M557.9 367.5h0M530.3 362.3h0M532.4 360.5h0M532.2 370.0h0M554.0 373.7h0M556.6 371.8h0M561.1 376.2h0M549.9 376.4h0M530.4 360.7h0M528.9 362.6h0M540.5 367.1h0M552.0 372.3h0M529.6 366.1h0M546.8 365.6h0M530.9 369.7h0M540.5 371.2h0M545.0 376.3h0M561.8 360.1h0M554.9 371.9h0M537.6 360.9h0M544.4 365.2h0M554.1 375.5h0M540.8 364.1h0M545.2 371.5h0M556.0 369.3h0M537.6 364.9h0M558.2 368.3h0M528.4 366.5h0M535.4 370.9h0M529.2 363.7h0M530.1 367.5h0M540.9 375.8h0M529.9 365.3h0M556.8 358.9h0M555.1 365.4h0M527.1 363.4h0M543.6 365.8h0M545.8 359.8h0M543.1 367.4h0M529.7 363.9h0M562.2 371.3h0M545.5 359.8h0M541.2 373.0h0M542.8 369.6h0M560.2 370.5h0M550.3 359.5h0M542.0 374.7h0M557.4 375.5h0M554.8 375.0h0M532.0 373.0h0M542.3 376.5h0M542.3 363.7h0M544.1 364.0h0M551.4 361.0h0M532.8 367.1h0M529.3 365.7h0M560.1 374.9h0M533.9 359.1h0M557.5 376.3h0M548.9 361.3h0M535.3 375.5h0M561.6 359.4h0M533.4 366.6h0M536.5 372.5h0M540.4 372.9h0M532.2 368.2h0M563.0 371.6h0M529.9 360.8h0M550.6 365.6h0M540.3 367.5h0M548.3 376.4h0M535.5 369.1h0M536.3 368.7h0M553.9 361.2h0M544.5 371.6h0M542.2 368.0h0M549.3 373.2h0M528.6 367.9h0M527.9 365.8h0M539.4 359.2h0M537.6 367.0h0M551.0 375.6h0M540.4 368.4h0M553.2 375.9h0M562.0 376.8h0M537.8 361.8h0M561.4 360.2h0M543.3 372.2h0M546.3 365.9h0M561.1 364.2h0M547.1 373.9h0M531.7 365.2h0M545.0 369.1h0M534.3 367.1h0M528.7 360.4h0M539.3 361.4h0M536.8 373.1h0M554.2 363.6h0M557.5 370.2h0M541.0 370.2h0M535.7 363.6h0M559.3 366.8h0M560.1 362.0h0M531.6 359.7h0M554.2 369.0h0M526.9 359.6h0M557.3 367.8h0M559.1 359.5h0M548.5 360.9h0M553.5 369.9h0M549.4 362.8h0M562.0 360.8h0M530.0 360.0h0M543.7 370.6h0M559.9 371.9h0M529.1 370.5h0M558.1 361.0h0M554.7 363.5h0M537.7 358.8h0M554.9 368.2h0M560.2 367.3h0M532.3 362.7h0M536.3 376.0h0M534.2 360.4h0M539.7 360.2h0M542.4 370.1h0M550.8 362.0h0M531.7 367.7h0M552.2 366.9h0M547.9 375.4h0M531.9 363.7h0M545.0 368.6h0M560.2 368.9h0M551.3 366.4h0M555.8 374.0h0M537.5 360.8h0M536.2 365.3h0M559.8 363.6h0M550.0 370.5h0M555.3 364.9h0M530.4 370.3h0M558.1 369.4h0M540.9 370.4h0M553.6 363.5h0M541.8 364.8h0M530.1 360.0h0M553.3 366.3h0M559.0 359.9h0M537.8 362.1h0M561.8 373.2h0M560.0 368.0h0M530.4 366.4h0M535.0 359.3h0M547.6 364.1h0M530.5 368.1h0M561.4 376.0h0M543.9 360.7h0M555.2 360.9h0M546.6 360.3h0M542.9 363.8h0M547.1 376.5h0M542.5 362.6h0M545.7 375.5h0M540.8 370.3h0M560.9 364.7h0M556.8 368.4h0M531.7 359.8h0M561.6 367.3h0M543.1 375.5h0M548.0 367.9h0M537.1 372.3h0M536.1 367.4h0M554.9 369.8h0M531.5 362.5h0M552.5 372.1h0M531.5 361.9h0M529.9 366.9h0M549.7 374.4h0M532.6 371.5h0M530.4 369.4h0M535.9 365.3h0M539.1 369.6h0M550.4 367.7h0M559.2 375.5h0M537.0 364.9h0M559.3 361.2h0M542.2 366.3h0M551.0 372.6h0M553.7 358.8h0M561.8 364.5h0M558.4 370.8h0M542.2 374.0h0M551.8 365.0h0M553.9 368.0h0M553.1 370.0h0M556.3 361.7h0M545.0 358.8h0M556.1 372.8h0M557.8 359.6h0M546.5 367.5h0M531.0 362.5h0M562.9 374.3h0M535.4 373.9h0M550.8 365.8h0M550.6 363.0h0M536.7 359.0h0M551.1 369.4h0M554.3 368.0h0M542.8 364.4h0M554.0 365.6h0M548.8 372.6h0M543.1 371.3h0M528.8 363.5h0M557.9 361.5h0M528.6 359.1h0M555.2 360.7h0M543.6 366.8h0M556.5 367.5h0M546.0 359.3h0M556.2 372.8h0M549.8 374.0h0M549.5 371.8h0M558.3 370.0h0M529.0 365.0h0M530.2 365.5h0M529.8 362.8h0M537.7 372.1h0M541.0 361.8h0M562.2 375.1h0M552.3 362.7h0M541.6 367.0h0M541.8 359.3h0M543.5 372.8h0M552.4 374.5h0M552.0 372.7h0M559.1 375.5h0M556.2 366.4h0M551.2 370.8h0M559.5 371.8h0M543.1 362.3h0M538.7 363.4h0M552.0 372.8h0M533.7 368.5h0M557.9 365.5h0M530.0 369.8h0M540.1 361.4h0M537.3 358.9h0M532.1 366.5h0M530.4 358.9h0M547.1 376.2h0M557.7 364.7h0M561.1 360.3h0M532.1 358.9h0M528.7 369.8h0M554.8 367.5h0M556.5 367.0h0M560.9 369.9h0M546.6 361.9h0M542.5 366.8h0M557.3 363.0h0M537.5 373.7h0M529.2 368.6h0M534.7 370.9h0M548.7 360.5h0M553.8 366.2h0M538.5 374.4h0M555.6 364.4h0M551.8 361.0h0M545.9 360.3h0M550.5 375.5h0M550.3 359.5h0M545.7 367.3h0M543.1 361.6h0M536.9 367.0h0M535.6 364.1h0M529.9 364.3h0M561.3 364.1h0M530.1 365.1h0M561.8 360.4h0M539.3 362.6h0M552.0 367.2h0M538.8 371.3h0M543.4 374.7h0M528.7 363.0h0M537.2 363.6h0M557.2 367.9h0M539.5 368.0h0M558.1 369.2h0M543.4 370.8h0M549.5 366.2h0M542.4 361.2h0M542.9 374.8h0M537.9 365.4h0M549.1 369.5h0M533.1 366.9h0M553.9 359.6h0M560.4 360.0h0M529.5 370.2h0M537.1 370.7h0M527.8 367.1h0M532.5 364.8h0M552.4 368.1h0M558.4 374.1h0M549.7 374.2h0M533.1 367.4h0M538.5 370.2h0M540.4 373.1h0M561.8 375.9h0M541.1 374.4h0M554.5 372.0h0M543.6 363.9h0M533.0 366.3h0M561.4 366.1h0M536.1 370.1h0M542.9 370.0h0M543.5 364.0h0M551.1 363.2h0M545.2 369.4h0M545.3 375.2h0M555.6 364.4h0M539.2 369.9h0M528.2 367.9h0M536.7 368.4h0M528.2 362.9h0M534.8 367.1h0M527.7 361.0h0M538.2 363.3h0M528.9 360.8h0M560.9 374.0h0M555.8 363.4h0M532.8 363.7h0M528.9 362.0h0M553.4 367.7h0M558.3 374.3h0M553.8 372.1h0M560.6 368.9h0M540.8 369.2h0M537.1 359.5h0M536.2 367.1h0M531.0 360.3h0M535.7 365.5h0M562.3 367.7h0M557.8 372.3h0M548.7 364.7h0M541.2 364.6h0M550.2 374.4h0M556.1 364.2h0M532.1 359.0h0M548.4 363.0h0M535.0 362.5h0M551.3 369.4h0M537.0 372.1h0M530.9 369.6h0M552.9 372.1h0M544.7 374.7h0M550.0 371.4h0M529.5 362.2h0M543.9 368.7h0M539.5 367.4h0M546.0 374.1h0M537.8 369.0h0M549.1 370.7h0M538.2 363.9h0M544.1 369.7h0M550.6 361.2h0M543.2 369.0h0M533.8 360.7h0M561.2 359.2h0M545.1 364.2h0M527.7 363.7h0M532.5 366.1h0M560.5 360.2h0M539.7 371.4h0M549.9 359.2h0M535.1 363.9h0M560.0 366.8h0M536.1 367.5h0M544.6 361.5h0M551.4 371.9h0M544.3 368.6h0M555.3 376.2h0M549.4 359.6h0M545.4 370.9h0M538.9 371.3h0M540.3 370.0h0M549.5 371.0h0M561.1 371.7h0M553.0 371.6h0M535.1 370.0h0M549.7 359.9h0M554.7 362.9h0M544.9 368.3h0M553.5 372.7h0M544.0 375.9h0M543.1 369.1h0M553.2 376.2h0M550.9 368.6h0M556.0 374.5h0M532.0 367.7h0M549.5 371.5h0M562.3 373.4h0M557.5 360.0h0M542.4 375.4h0M561.9 372.6h0M539.0 372.8h0M546.4 370.9h0M550.3 374.5h0M553.2 376.5h0M545.0 367.8h0M551.1 369.0h0M538.4 367.9h0M528.1 362.3h0M561.2 363.8h0M537.7 373.6h0M535.5 370.9h0M547.8 375.1h0M544.3 364.8h0M536.2 365.4h0M532.1 364.5h0M555.2 375.9h0M539.7 363.3h0M537.5 370.2h0M544.4 360.9h0M546.1 363.7h0M531.9 373.1h0M530.4 366.8h0M555.1 368.7h0M559.2 364.6h0M561.9 359.6h0M560.0 366.5h0M554.1 373.6h0M543.9 375.3h0M560.5 361.5h0M537.9 360.3h0M542.5 368.3h0M543.5 364.5h0M561.9 367.5h0M538.0 373.0h0M535.6 366.5h0M530.4 363.1h0M546.1 371.1h0M551.6 368.3h0M540.2 361.5h0M527.6 361.0h0M541.7 359.0h0M551.7 364.9h0M535.2 364.5h0M544.9 362.6h0M558.4 367.6h0M529.1 360.4h0M559.8 369.3h0M537.4 371.8h0M561.5 370.9h0M528.4 366.5h0M557.8 369.6h0M534.3 363.1h0M528.9 368.3h0M533.3 366.9h0M560.0 375.2h0M544.9 373.1h0M558.9 367.6h0M559.6 364.2h0M561.1 374.0h0M561.5 372.0h0M529.2 363.9h0M551.0 375.3h0M552.0 359.5h0M539.5 365.1h0M532.9 362.9h0M545.8 365.6h0M536.5 366.3h0M561.9 369.7h0M554.6 375.8h0M530.1 362.4h0M554.2 372.5h0M549.5 367.5h0M553.5 366.6h0M533.8 362.8h0M530.7 359.5h0M562.1 376.1h0M539.5 366.3h0M536.9 373.0h0M544.9 361.9h0M559.6 375.7h0M528.2 367.2h0M534.8 370.4h0M539.9 364.2h0M537.8 369.9h0M545.3 367.7h0M552.0 367.4h0M561.9 366.8h0M556.1 375.7h0M549.8 369.5h0M556.0 371.8h0M533.7 366.4h0M532.4 359.2h0M552.2 364.8h0M536.0 359.3h0M539.9 366.7h0M551.8 375.3h0M552.7 362.8h0M548.2 370.5h0M537.2 375.0h0M549.3 371.7h0M537.2 370.0h0M554.1 364.7h0M536.4 364.8h0M563.1 370.8h0M544.1 369.0h0M551.0 363.6h0M529.3 360.8h0M548.3 369.7h0M563.1 370.1h0M558.4 376.8h0M545.1 366.5h0M544.1 365.6h0M554.9 369.3h0M546.2 372.4h0M547.0 369.5h0M548.0 360.9h0M531.4 372.1h0M539.6 361.1h0M557.0 372.4h0M555.1 365.8h0M531.4 372.6h0M534.6 371.0h0M552.5 363.8h0M556.1 369.5h0M553.8 366.7h0M548.2 364.3h0M535.1 368.8h0M549.2 375.4h0M549.1 367.9h0M550.8 370.2h0M541.8 363.7h0M552.0 365.8h0M527.9 361.9h0M539.9 371.3h0M551.0 367.7h0M557.0 364.7h0M539.6 372.5h0M551.9 366.6h0M559.8 359.3h0M546.6 374.4h0M559.4 362.3h0M556.7 368.5h0M561.5 364.8h0M551.3 370.5h0M541.1 361.1h0M552.1 360.1h0M558.3 361.5h0M545.1 372.5h0M539.4 363.2h0M559.5 371.2h0M536.4 372.1h0M560.3 369.6h0M534.7 369.9h0M562.3 369.6h0M532.1 362.5h0M550.1 359.7h0M536.1 367.8h0M529.2 369.0h0M551.8 364.6h0M548.3 368.4h0M556.0 369.3h0M550.4 369.1h0M557.3 360.6h0M557.7 358.9h0M559.9 369.9h0M558.5 371.6h0M540.6 360.9h0M555.1 371.7h0M544.1 363.7h0M540.1 375.8h0M543.8 362.6h0M563.4 376.6h0M533.1 362.4h0M553.8 365.8h0M544.2 371.2h0M536.7 369.6h0M534.1 362.8h0M546.9 366.6h0M560.0 361.4h0M560.8 363.6h0M539.3 360.7h0M540.0 374.0h0M563.0 371.5h0M533.4 366.7h0M532.7 363.3h0M539.0 361.8h0M551.9 368.3h0M537.4 363.4h0M531.8 360.9h0M542.9 360.2h0M546.0 363.4h0M555.4 363.7h0M558.5 376.0h0M561.3 362.9h0M561.2 367.4h0M559.6 367.2h0M546.7 363.5h0M554.8 365.5h0M559.6 371.7h0M542.5 359.4h0M536.5 366.4h0M540.3 369.4h0M559.9 376.1h0M552.3 371.3h0M549.0 377.0h0M556.1 367.2h0M545.0 375.9h0M547.1 369.7h0M538.0 370.9h0M544.8 376.0h0M529.2 365.0h0M557.4 369.0h0M536.1 360.6h0M535.9 361.1h0M531.9 372.4h0M533.7 361.8h0M549.7 361.2h0M557.7 370.6h0M559.3 372.0h0M553.8 363.7h0M542.3 365.7h0M541.2 375.4h0M542.8 373.3h0M550.1 360.3h0M534.4 369.3h0M556.0 363.0h0M535.8 365.7h0M543.7 366.4h0M561.1 369.9h0M536.9 365.1h0M545.5 361.7h0M541.2 360.0h0M551.0 374.6h0M560.1 369.7h0M540.9 369.0h0M547.3 362.0h0M546.7 367.8h0M533.9 366.9h0M557.8 370.5h0M538.8 363.1h0M550.1 368.9h0M537.6 367.4h0M541.7 370.2h0M559.4 365.6h0M546.6 369.0h0M551.5 363.2h0M535.7 375.6h0M531.9 371.2h0M536.2 367.7h0M543.4 363.2h0M527.9 361.4h0M554.1 365.6h0M533.8 372.9h0M552.9 366.0h0M560.0 370.9h0M531.4 366.8h0M552.9 361.6h0M561.0 370.6h0M553.3 366.8h0M550.1 375.7h0M545.2 360.2h0M553.0 375.8h0M532.0 360.7h0M552.1 366.6h0M543.8 363.0h0M555.0 373.0h0M553.6 366.6h0M544.9 366.0h0M543.9 364.7h0M544.0 376.3h0M556.5 361.3h0M551.6 373.7h0M539.4 375.0h0M561.7 360.1h0M549.9 365.7h0M543.9 368.8h0M558.6 370.3h0M559.7 363.3h0M556.3 365.9h0M533.3 373.4h0M548.1 362.9h0M559.9 367.7h0M551.7 376.7h0M538.7 368.7h0M546.9 364.0h0M546.5 376.4h0M552.6 363.6h0M552.1 370.0h0M540.3 371.0h0M540.6 373.0h0M541.0 373.8h0M537.6 361.9h0M538.8 361.1h0M542.1 363.2h0M559.5 374.3h0M535.6 364.4h0M545.1 361.2h0M534.4 366.0h0M531.0 361.4h0M549.1 364.3h0M560.7 376.3h0M551.6 363.8h0M554.9 365.0h0M559.0 366.5h0M552.4 372.5h0M552.8 372.5h0M539.3 361.6h0M540.3 376.2h0M527.9 363.9h0M538.1 366.8h0M559.1 361.9h0M530.4 359.1h0M539.2 372.0h0M543.4 370.6h0M545.7 365.4h0M541.7 359.5h0M562.1 372.1h0M530.1 362.5h0M555.8 368.0h0M554.5 372.5h0M534.0 361.3h0M554.4 373.6h0M537.8 365.8h0M554.0 364.2h0M535.7 362.4h0M542.9 361.9h0M561.1 369.2h0M558.0 367.7h0M545.1 376.2h0M531.2 362.9h0M558.5 369.5h0M555.4 369.9h0M554.6 368.5h0M534.7 364.7h0M561.1 368.4h0M544.9 367.1h0M550.1 370.0h0M544.8 375.2h0M559.7 373.0h0M553.6 371.9h0M533.9 367.7h0M536.5 362.5h0M562.0 363.0h0M557.0 374.0h0M541.6 359.2h0M533.1 370.5h0M553.0 365.3h0M548.9 361.8h0M551.1 373.0h0M555.8 369.0h0M547.9 358.8h0M536.5 366.2h0M529.2 360.1h0M562.3 371.2h0M547.5 371.3h0M559.0 370.4h0M542.5 365.9h0M562.8 376.2h0M550.5 365.1h0M552.5 363.8h0M554.4 369.0h0M548.4 359.8h0M560.3 376.2h0M555.0 364.1h0M553.5 360.9h0M546.9 365.1h0M544.1 364.1h0M529.1 366.7h0M535.4 362.0h0M538.9 361.1h0M542.2 361.0h0M542.5 368.0h0M528.6 368.7h0M553.1 374.2h0M533.2 366.2h0M561.9 364.5h0M530.9 363.3h0M558.9 365.1h0M551.4 375.9h0M549.7 362.4h0M544.5 364.7h0M544.4 370.0h0M563.0 371.3h0M545.5 373.6h0M545.5 362.3h0M551.6 363.7h0M534.4 365.9h0M544.6 359.4h0M540.0 376.3h0M545.6 365.5h0M543.6 371.5h0M545.3 366.2h0M548.2 363.8h0M552.0 366.5h0M552.9 365.1h0M550.4 362.4h0M544.6 367.8h0M527.1 361.1h0M543.7 372.7h0M556.8 374.2h0M556.6 376.4h0M533.8 361.5h0M533.6 364.6h0M534.3 363.1h0M548.7 371.6h0M527.9 369.4h0M546.3 368.9h0M545.8 373.3h0M557.3 374.5h0M538.9 359.6h0M544.1 359.3h0M550.3 367.5h0M554.4 374.0h0M553.9 371.4h0M538.9 372.0h0M550.4 362.8h0M559.0 367.4h0M546.4 362.4h0M557.6 367.4h0M554.3 374.1h0M545.9 369.5h0M543.8 363.1h0M556.4 375.6h0M527.8 359.4h0M544.1 360.3h0M542.9 365.0h0M535.5 372.9h0M548.3 375.6h0M533.8 365.7h0M549.6 372.9h0M542.5 362.2h0M540.9 369.1h0M562.7 370.6h0M558.1 374.0h0M542.5 368.0h0M557.7 372.0h0M541.4 362.2h0M553.9 364.1h0M536.4 363.4h0M552.2 370.6h0M561.5 369.5h0M544.6 374.9h0M531.7 369.5h0M532.2 360.9h0M541.9 373.7h0M557.7 359.3h0M538.0 363.6h0M536.4 359.3h0M536.0 365.0h0M543.4 368.5h0M537.3 368.6h0M537.9 375.1h0M561.4 369.2h0M530.0 365.6h0M552.8 369.1h0M537.0 366.0h0M528.8 366.1h0M557.3 365.8h0M543.9 361.9h0M553.2 366.4h0M540.9 372.9h0M537.6 360.2h0M550.5 372.2h0M528.5 365.1h0M559.6 368.1h0M541.7 361.2h0M537.3 369.5h0M560.7 370.9h0M529.1 365.0h0M540.2 359.8h0M560.0 361.2h0M532.7 364.3h0M534.9 362.6h0M527.7 367.2h0M555.5 360.1h0M544.9 361.2h0M556.0 375.3h0M559.2 368.5h0M531.8 371.9h0M537.7 375.0h0M537.2 372.3h0M545.0 363.2h0M544.9 366.6h0M532.3 368.7h0M546.4 371.5h0M539.2 370.0h0M533.9 368.3h0M535.5 373.1h0M533.6 364.1h0M529.1 364.2h0M546.7 363.0h0M538.1 362.7h0M541.4 374.1h0M554.4 375.2h0M546.9 364.9h0M545.2 359.9h0M552.0 374.1h0M560.7 373.9h0M550.7 373.4h0M537.4 369.0h0M545.7 362.0h0M534.4 374.2h0M549.9 370.1h0M559.3 364.5h0M536.9 369.2h0M534.1 371.5h0M544.3 362.4h0M531.2 361.8h0M548.0 375.4h0M556.3 374.2h0M547.7 373.4h0M538.9 365.5h0M560.3 363.5h0M549.8 369.1h0M528.4 369.1h0M556.3 375.0h0M542.2 375.2h0M552.0 373.6h0M543.3 369.5h0M557.4 362.9h0M533.4 372.5h0M559.3 362.9h0M546.9 368.0h0M538.1 374.1h0M537.1 373.0h0M541.9 361.5h0M530.3 359.3h0M539.6 359.3h0M536.0 371.8h0M534.5 359.0h0M562.2 367.1h0M535.8 359.7h0M550.5 364.6h0M533.2 366.8h0M553.1 365.0h0M547.5 362.2h0M547.4 359.6h0M561.0 375.7h0M548.0 367.4h0M541.4 372.4h0M548.1 371.7h0M543.1 366.1h0M553.5 362.1h0M539.3 363.2h0M534.2 374.5h0M538.2 372.2h0M544.0 372.3h0M530.5 369.8h0M556.9 364.1h0M530.0 365.8h0M555.3 372.7h0M528.9 364.7h0M560.7 364.1h0M557.2 366.9h0M552.6 372.5h0M557.8 362.2h0M553.8 375.6h0M556.0 368.3h0M545.4 375.1h0M559.2 368.0h0M531.4 369.9h0M531.5 364.9h0M547.8 367.9h0M550.6 373.7h0M562.0 364.4h0M562.2 364.7h0M539.5 372.6h0M556.3 373.8h0M538.3 370.0h0M561.6 359.2h0M547.7 366.4h0M556.2 366.9h0M531.7 365.2h0M554.9 370.5h0M545.0 359.0h0M536.9 373.2h0M561.6 371.3h0M540.8 372.4h0M551.5 369.3h0M555.9 368.9h0M546.6 363.5h0M555.6 360.7h0M530.1 370.3h0M533.7 367.3h0M536.2 367.6h0M549.5 362.4h0M546.8 376.5h0M532.1 362.8h0M533.8 360.7h0M557.7 369.3h0M534.3 374.9h0M530.8 370.5h0M551.6 371.5h0M535.4 361.5h0M550.1 364.1h0M549.1 372.3h0M548.0 364.8h0M559.4 362.8h0M530.2 368.0h0M543.1 369.2h0M546.5 365.9h0M554.4 359.5h0M560.9 374.0h0M536.1 367.0h0M562.9 369.7h0M559.0 374.2h0M561.1 367.2h0M545.5 359.4h0M548.2 369.8h0M533.0 365.2h0M537.7 359.0h0M541.5 365.7h0M553.4 371.5h0M562.0 374.7h0M536.1 369.9h0M552.4 373.2h0M531.7 364.8h0M549.5 364.5h0M560.7 366.3h0M553.0 360.0h0M560.1 376.5h0M557.7 376.7h0M530.5 360.1h0M551.3 376.8h0M551.2 367.4h0M531.8 368.0h0M545.1 362.5h0M560.2 372.3h0M532.7 370.1h0M548.9 375.9h0M563.2 375.0h0M528.5 366.5h0M532.2 372.5h0M549.5 370.5h0M561.8 374.6h0M553.9 370.2h0M546.9 368.2h0M527.6 362.4h0M552.3 366.4h0M543.4 374.2h0M540.9 372.0h0M556.6 373.9h0M535.3 369.9h0M544.0 369.5h0M529.7 362.3h0M535.7 373.1h0M555.8 365.8h0M549.1 366.8h0M546.6 363.7h0M539.4 376.2h0M559.6 361.0h0M543.1 370.4h0M549.1 369.8h0" stroke="#000" stroke-width="1.90" stroke-linecap="round" fill="none"/>
<path d="M570.8 364.2h0M577.9 365.7h0M602.2 369.6h0M609.9 368.0h0M572.3 373.0h0M616.0 360.1h0M617.2 358.9h0M584.7 360.4h0M582.2 370.2h0M576.8 370.1h0M585.1 359.6h0M577.8 360.8h0M576.0 359.5h0M613.7 366.5h0M598.2 363.4h0M620.4 360.6h0M602.5 369.1h0M574.9 368.4h0M610.1 362.1h0M573.6 364.2h0M588.8 363.2h0M572.7 359.4h0M593.1 361.0h0M578.8 364.7h0M574.6 362.5h0M592.7 370.0h0M604.3 364.8h0M587.4 372.3h0M602.0 362.7h0M574.0 374.7h0M579.1 368.1h0M596.0 361.8h0M608.1 366.0h0M610.8 365.7h0M577.3 365.3h0M598.4 370.8h0M601.9 369.6h0M576.6 359.1h0M568.0 375.0h0M591.1 369.8h0M612.4 365.6h0M606.2 362.7h0M578.5 371.1h0M582.4 361.2h0M606.5 361.7h0M606.2 359.3h0M585.9 368.3h0M595.8 366.3h0M590.1 359.1h0M606.7 365.3h0M573.1 365.5h0M592.2 360.9h0M605.4 369.7h0M589.1 368.3h0M567.9 361.2h0M578.2 362.2h0M577.0 360.8h0M596.9 369.0h0M583.8 374.6h0M612.4 366.6h0M567.4 358.8h0M568.2 372.0h0M567.9 367.0h0M598.7 365.5h0M610.2 363.0h0M574.8 361.5h0M572.5 365.9h0M604.3 362.6h0M571.1 364.9h0M582.4 373.8h0M583.7 369.5h0M599.7 363.0h0M600.1 363.6h0M616.2 363.1h0M615.2 362.2h0M581.9 368.0h0M586.9 370.9h0M584.2 361.9h0M574.6 364.6h0M586.9 368.9h0M597.2 361.6h0M577.5 361.9h0M573.1 368.1h0M581.0 374.6h0M573.6 362.0h0M611.3 360.0h0M567.3 361.5h0M581.2 366.8h0M590.5 359.0h0M600.1 362.4h0M584.1 366.0h0M569.9 369.5h0M607.7 361.1h0M572.4 364.9h0M587.3 371.5h0M595.6 368.2h0M572.6 370.5h0M610.9 367.5h0M625.6 360.3h0M615.2 365.1h0M584.0 362.0h0M573.7 360.9h0M576.7 373.7h0M577.1 375.1h0M573.1 368.2h0M619.2 361.1h0M582.9 370.7h0M572.1 374.5h0M615.0 361.3h0M590.2 373.6h0M594.8 359.6h0M610.0 359.5h0M601.4 362.8h0M591.9 366.4h0M588.2 363.0h0M615.0 360.0h0M605.6 359.3h0M571.2 370.5h0M581.0 360.8h0M590.6 359.3h0M601.8 368.5h0M577.9 369.9h0M595.6 371.5h0M609.1 360.6h0M602.2 370.9h0M578.3 365.6h0M598.8 363.7h0M571.2 364.0h0M592.1 372.9h0M598.3 370.1h0M567.8 371.9h0M604.4 360.6h0M594.9 362.8h0M592.0 368.3h0M584.1 371.6h0M567.1 368.0h0M627.1 359.2h0M605.4 365.6h0M573.3 364.3h0M572.9 359.2h0M604.0 370.1h0M568.4 374.1h0M581.3 375.6h0M600.4 369.8h0M579.2 363.0h0M569.7 374.0h0M571.1 374.0h0M573.1 373.5h0M571.2 360.8h0M619.3 361.4h0M596.4 366.5h0M594.1 359.6h0M574.7 371.4h0M583.0 366.8h0M576.0 360.3h0M595.5 371.8h0M581.7 372.9h0M612.2 360.9h0M566.9 375.4h0M576.8 374.7h0M599.3 360.1h0M570.8 374.3h0M605.3 363.5h0M578.1 360.2h0M614.2 363.8h0M569.4 373.8h0M585.8 361.9h0M601.6 365.5h0M599.1 367.1h0M600.1 363.7h0M579.3 366.4h0M595.1 367.0h0M587.6 370.2h0M589.2 368.0h0M611.8 363.5h0M570.2 370.4h0M581.9 374.9h0M604.4 367.9h0M605.8 365.1h0M581.1 375.4h0M579.4 365.3h0M603.3 367.8h0M571.8 363.8h0M614.3 361.3h0M596.3 360.8h0M570.8 376.6h0M593.7 367.3h0M570.6 361.7h0M598.3 362.8h0M618.5 361.3h0M585.3 362.3h0M593.8 364.8h0M623.7 360.6h0M614.2 364.6h0M585.7 362.5h0M605.9 360.2h0M602.3 364.4h0M608.0 360.7h0M609.4 363.7h0M576.5 364.7h0M622.2 359.3h0M590.5 365.2h0M586.7 361.7h0M594.0 365.0h0M567.3 370.3h0M613.0 362.1h0M588.8 365.0h0M617.6 361.6h0M587.4 369.6h0M592.9 371.9h0M566.3 373.5h0M588.2 371.4h0M579.3 372.8h0M610.9 360.3h0M578.6 375.4h0M571.6 374.6h0M611.2 361.3h0M579.6 365.1h0M586.0 374.4h0M593.5 363.3h0M597.5 366.0h0M608.0 360.4h0M584.5 360.5h0M573.7 364.5h0M587.1 364.7h0M576.2 373.2h0M597.3 372.7h0M576.4 375.8h0M570.6 362.2h0M570.1 366.4h0M592.7 372.4h0M570.3 370.7h0M579.3 372.0h0M583.8 359.3h0M594.3 363.0h0M597.9 358.9h0M593.3 362.8h0M588.7 369.9h0M592.9 364.0h0M581.1 361.1h0M610.3 363.7h0M571.8 365.0h0M573.0 372.0h0M571.5 375.2h0M612.6 363.9h0M603.9 367.7h0M591.8 371.9h0M589.3 370.9h0M601.9 360.7h0M583.1 361.5h0M598.3 360.8h0M574.6 371.6h0M615.5 359.4h0M612.2 367.4h0M577.8 372.2h0M594.4 363.1h0M589.9 361.8h0M584.1 369.8h0M577.0 364.0h0M585.6 364.5h0M609.1 365.7h0M593.1 361.0h0M570.5 375.4h0M567.7 360.2h0M603.6 366.3h0M568.5 365.0h0M603.0 361.8h0M589.6 363.3h0M617.4 359.0h0M572.2 373.7h0M597.0 366.4h0M610.6 360.0h0M582.4 374.5h0M604.6 366.0h0M604.7 365.7h0M598.4 364.7h0M585.9 366.4h0M585.2 359.3h0M575.8 374.1h0M572.3 372.6h0M596.9 362.5h0M618.9 362.3h0M598.4 359.5h0M595.3 366.8h0M607.2 365.7h0M616.2 363.4h0M600.3 359.6h0M597.7 359.0h0M605.7 365.9h0M576.5 372.6h0M590.6 368.9h0M611.8 366.1h0M599.3 359.7h0M585.5 360.1h0M597.3 367.6h0M579.3 365.4h0M566.6 376.1h0M598.1 364.4h0M568.6 361.8h0M574.8 359.2h0M623.4 359.9h0M613.0 366.9h0M589.2 364.3h0M610.7 366.0h0M576.5 359.4h0M569.1 366.5h0M598.5 371.4h0M605.9 362.0h0M600.5 367.1h0M597.2 367.7h0M598.0 369.8h0M585.7 361.6h0M583.7 373.9h0M615.4 364.8h0M583.9 362.4h0M567.1 363.3h0M569.3 368.8h0M567.4 375.8h0M571.2 373.9h0M585.8 359.3h0M605.9 365.0h0M575.9 361.6h0M571.8 369.9h0M614.9 360.5h0M578.0 373.8h0M581.4 369.5h0M577.8 373.7h0M602.7 360.4h0M587.3 371.0h0M581.0 361.2h0M591.0 359.2h0M569.7 360.9h0M584.9 373.6h0M613.0 359.6h0M603.7 359.5h0M571.1 358.9h0M600.9 369.7h0M572.4 374.0h0M591.7 361.3h0M602.9 363.6h0M579.5 362.6h0M615.6 360.6h0M580.9 361.3h0M593.0 361.6h0M567.3 375.7h0M604.0 359.9h0M578.8 376.0h0M576.6 366.8h0M596.3 372.2h0M611.5 363.9h0M595.0 367.2h0M586.9 362.4h0M595.7 366.5h0M568.1 368.3h0M582.0 375.5h0M605.8 363.9h0M612.0 362.7h0M583.9 364.4h0M610.0 361.5h0M584.2 368.7h0M579.0 374.7h0M579.8 363.4h0M607.4 363.3h0M566.8 371.6h0M570.1 370.4h0M572.5 368.0h0M578.9 375.0h0M612.5 363.2h0M567.2 362.9h0M575.1 361.4h0M584.8 363.5h0M588.1 372.4h0M589.0 372.3h0M589.5 368.7h0M578.6 362.5h0M588.1 374.3h0M588.2 364.8h0M601.7 367.2h0M588.7 369.1h0M577.6 373.4h0M583.8 365.9h0M568.6 363.4h0M586.1 363.6h0M605.9 361.0h0M585.3 368.7h0M599.6 369.5h0M576.9 363.5h0M576.6 360.4h0M568.7 359.2h0M572.8 372.9h0M598.4 369.9h0M603.5 363.5h0M588.1 370.1h0M580.7 373.2h0M576.4 364.0h0M603.1 366.9h0M590.8 359.1h0M590.6 365.6h0M581.6 371.2h0M611.3 363.3h0M603.3 368.7h0M581.9 363.6h0M586.2 367.9h0M592.3 362.6h0M622.4 361.8h0M577.8 363.0h0M576.9 368.4h0M571.5 361.2h0M611.7 366.9h0M608.2 367.6h0M587.7 369.6h0M584.3 360.7h0M607.0 367.5h0M596.1 365.3h0M589.1 369.4h0M576.0 367.5h0M575.2 368.1h0M597.3 366.3h0M585.9 373.4h0M580.8 368.4h0M592.5 371.2h0M597.6 367.4h0M594.8 370.4h0M578.1 363.9h0M581.5 366.7h0M585.8 364.2h0M585.9 360.6h0M605.9 369.8h0M602.0 359.6h0M601.6 371.0h0M588.3 365.7h0M582.4 372.7h0M598.1 364.1h0M627.3 359.5h0M601.6 364.4h0M567.7 364.8h0M610.0 361.9h0M577.8 369.6h0M606.1 367.7h0M580.3 363.8h0M601.5 364.3h0M610.2 363.3h0M605.3 362.6h0M590.7 364.0h0M590.5 359.8h0M588.7 369.7h0M613.3 366.9h0M588.4 372.7h0M596.4 364.0h0M569.1 371.8h0M626.1 359.4h0M594.7 370.7h0M585.0 363.1h0M607.4 365.0h0M567.6 364.1h0M574.4 368.1h0M603.8 362.0h0M591.5 363.3h0M612.3 361.5h0M609.5 362.7h0M576.8 360.9h0M588.7 363.9h0M583.0 366.0h0M573.2 371.8h0M604.1 368.6h0M620.9 361.2h0M605.6 360.8h0M582.1 370.7h0M580.2 365.3h0M589.8 364.2h0M608.6 364.9h0M591.2 373.1h0M570.8 370.7h0M597.2 366.3h0M593.8 361.9h0M574.1 371.9h0M586.4 363.3h0M578.7 370.3h0M567.5 366.8h0M592.2 362.0h0M612.9 366.1h0M581.2 374.6h0M569.7 365.1h0M588.9 360.8h0M606.2 364.3h0M568.6 362.4h0M580.5 364.9h0M588.9 371.6h0M602.7 371.1h0M622.9 359.8h0M572.8 360.0h0M611.1 365.4h0M603.9 366.8h0M596.7 365.1h0M569.7 369.9h0M574.1 359.7h0M599.9 365.6h0M600.6 371.2h0M593.4 369.9h0M603.6 369.2h0M598.6 362.6h0M583.1 371.1h0M569.3 367.0h0M579.9 370.0h0M570.6 373.5h0M570.3 376.0h0M588.4 364.4h0M587.6 360.9h0M588.5 362.6h0M568.1 367.3h0M600.2 361.0h0M594.8 363.4h0M578.3 368.5h0M595.5 366.8h0M570.4 375.5h0M569.6 376.8h0M588.8 359.6h0M579.9 364.9h0M583.3 361.0h0M595.9 361.2h0M585.5 368.1h0M605.5 368.5h0M604.2 360.6h0M586.0 363.9h0M574.6 359.1h0M570.9 366.9h0M572.1 370.1h0M585.5 362.1h0M596.1 367.6h0M573.3 369.8h0M578.2 375.6h0M571.6 363.1h0M600.4 371.8h0M606.3 370.0h0M611.0 366.1h0M568.7 364.0h0M591.5 368.8h0M596.2 366.2h0M572.5 365.6h0M595.1 370.8h0M580.4 366.9h0M581.4 368.4h0M613.8 365.4h0M590.5 361.7h0M567.0 365.3h0M604.6 363.7h0M574.2 367.4h0M574.1 362.8h0M597.4 371.9h0M587.4 371.3h0M586.1 361.3h0M598.3 360.0h0M575.4 368.6h0M607.4 359.5h0M596.9 372.5h0M567.6 368.5h0M569.0 372.3h0M620.4 359.2h0M585.0 370.0h0M603.4 365.8h0M623.9 360.5h0M576.8 372.4h0M620.8 362.3h0M581.7 359.5h0M604.4 367.6h0M600.2 363.8h0M573.7 373.4h0M594.0 365.1h0M600.1 359.7h0M612.9 365.0h0M586.5 363.6h0M568.7 372.1h0M591.5 368.6h0M617.3 364.4h0M595.6 365.2h0M569.5 376.4h0M566.8 375.3h0M574.1 375.3h0M589.3 359.1h0M613.7 359.3h0M617.9 361.2h0M618.2 359.6h0M573.9 371.3h0M573.9 369.1h0M595.9 369.8h0M617.6 362.2h0M583.3 373.9h0M580.9 361.0h0M574.1 359.5h0M598.1 369.2h0M607.0 370.0h0M596.6 360.7h0M588.7 367.4h0M605.0 371.0h0M572.9 362.9h0M578.7 366.6h0M585.0 375.0h0M571.9 359.9h0M612.8 359.9h0M569.1 363.5h0M590.6 367.9h0M594.5 365.8h0M577.7 369.0h0M619.6 362.8h0M576.2 360.3h0M606.2 360.9h0M594.2 369.7h0M585.5 370.3h0M571.0 371.9h0M573.8 375.8h0M572.6 369.8h0M620.3 361.1h0M578.5 358.9h0M577.9 364.7h0M607.0 365.0h0M612.7 366.2h0M602.7 368.8h0M617.9 363.9h0M600.8 369.8h0M580.6 361.7h0M592.5 369.5h0M597.4 367.2h0M568.5 364.5h0M571.3 375.0h0M613.6 364.8h0M582.6 365.6h0M592.3 359.8h0M578.3 371.3h0M619.3 360.0h0M577.0 363.2h0M584.5 370.0h0M600.7 370.4h0M573.3 365.1h0M587.2 369.5h0M588.6 371.0h0M613.6 359.1h0M609.8 360.7h0M598.6 370.4h0M573.1 362.7h0M608.0 359.6h0M593.7 359.7h0M605.8 370.3h0M572.7 361.4h0M587.4 364.4h0M596.9 369.5h0M586.6 359.2h0M569.8 374.4h0M578.0 375.9h0M592.8 361.9h0M601.9 360.2h0M581.5 369.5h0M589.2 360.3h0M607.1 363.4h0M576.6 364.0h0M616.9 362.9h0M591.2 368.6h0M602.6 368.7h0M604.5 359.8h0M604.9 360.6h0M620.8 360.8h0M583.6 372.4h0M575.8 362.3h0M567.1 361.9h0M589.3 373.8h0M602.5 360.7h0M567.8 367.6h0M569.1 367.5h0M613.1 364.5h0M608.8 365.8h0M579.9 360.2h0M603.0 371.0h0M601.0 364.9h0M572.3 362.0h0M604.2 361.9h0M581.2 360.0h0M593.1 361.7h0M590.0 358.9h0M591.8 369.9h0M587.5 359.5h0M608.8 366.7h0M612.6 360.2h0M617.9 363.0h0M571.9 364.2h0M571.5 368.4h0M575.2 366.8h0M588.3 369.4h0M585.8 360.8h0M590.1 370.5h0M570.6 360.1h0M599.7 370.4h0M589.6 369.2h0M571.6 371.0h0M604.3 364.8h0M574.8 366.6h0M605.4 359.5h0M586.6 374.4h0M573.3 368.1h0M581.2 370.4h0M579.1 373.9h0M623.6 361.2h0M598.0 366.9h0M586.5 360.5h0M615.4 359.1h0M602.6 365.2h0M590.4 363.6h0M567.8 366.6h0M576.6 372.9h0M598.2 368.0h0M571.7 361.2h0M578.0 361.8h0M573.4 364.8h0M600.3 368.1h0M592.3 368.0h0M569.6 366.2h0M607.5 359.2h0M586.0 364.4h0M571.2 359.9h0M607.9 367.6h0M568.7 372.0h0M591.2 364.9h0M569.0 363.4h0M576.6 374.4h0M567.4 362.2h0M589.5 362.0h0M593.3 368.2h0M613.2 361.2h0M594.6 368.5h0M577.5 374.5h0M578.6 366.7h0M596.7 368.6h0M568.8 361.2h0M581.3 365.5h0M588.2 359.1h0M577.8 362.6h0M600.6 364.3h0M619.2 358.9h0M610.5 365.4h0M616.1 362.9h0M575.6 375.1h0M575.6 373.9h0M575.8 370.9h0M583.1 366.0h0M583.1 361.1h0M588.4 362.1h0M616.9 363.5h0M572.5 359.7h0M609.2 366.0h0M590.8 366.4h0M575.8 376.1h0M579.7 372.4h0M595.0 360.4h0M606.7 359.8h0M593.0 366.4h0M573.7 368.7h0M606.9 363.3h0M602.7 359.7h0M584.8 359.8h0M612.6 364.6h0M591.7 373.5h0M603.9 363.8h0M573.2 371.8h0M579.5 359.2h0M599.9 371.9h0M571.7 366.5h0M589.5 367.4h0M603.4 367.0h0M609.8 362.9h0M602.9 370.0h0M566.9 371.7h0M599.6 370.4h0M580.8 366.8h0M592.3 366.2h0M594.2 359.6h0M586.9 363.3h0M590.6 361.7h0M584.4 365.0h0M595.2 367.3h0M606.2 370.5h0M595.9 366.5h0M598.5 370.7h0M575.0 362.8h0M603.9 358.9h0M589.9 373.6h0M578.9 370.5h0M606.4 365.9h0M619.7 361.1h0M577.3 369.2h0M611.8 359.2h0M608.7 362.9h0M598.9 367.9h0M612.3 366.2h0M615.1 364.4h0M576.5 364.7h0M586.4 360.8h0M574.6 365.5h0M576.9 368.1h0M585.6 361.5h0M574.2 367.5h0M600.1 360.6h0M600.2 364.3h0M587.7 367.7h0M600.9 369.0h0M608.5 366.4h0M576.7 372.7h0M576.5 365.4h0M613.8 359.3h0M569.2 363.0h0M588.2 371.6h0M575.6 374.4h0M584.7 373.1h0M573.7 369.3h0M586.5 369.0h0M604.7 367.0h0M584.2 362.3h0M574.3 362.2h0M587.4 366.2h0M576.7 372.9h0M580.8 363.2h0M587.0 374.5h0M582.2 362.8h0M588.3 371.2h0M607.6 361.3h0M609.5 361.7h0M618.1 360.2h0M577.9 367.9h0M590.5 361.6h0M609.6 364.4h0M585.9 359.2h0M581.8 361.8h0M573.1 362.7h0M597.0 369.1h0M610.0 362.7h0M582.3 370.4h0M607.3 368.0h0M574.9 360.8h0M584.6 363.4h0M607.1 369.1h0M567.8 360.3h0M573.0 365.2h0M567.6 372.5h0M606.4 369.0h0M582.6 361.6h0M584.6 367.1h0M599.2 363.6h0M571.0 374.6h0M579.6 374.9h0M597.0 371.6h0M568.1 368.1h0M581.7 374.5h0M566.8 375.1h0M578.0 362.4h0M593.0 370.7h0M582.7 362.4h0M593.7 372.8h0M590.8 361.6h0M570.4 370.9h0M586.3 359.7h0M599.5 369.8h0M608.6 361.5h0M589.5 362.1h0M595.7 359.6h0M598.1 363.3h0M598.3 362.9h0M570.6 375.0h0M605.5 359.4h0M567.9 364.2h0M571.4 366.1h0M609.5 368.1h0M609.4 366.3h0M619.9 362.6h0M578.7 375.3h0M588.6 367.2h0M605.0 363.4h0M587.9 361.6h0M619.1 362.1h0M576.6 362.2h0M598.1 372.6h0M589.2 360.7h0M596.5 366.9h0M598.5 363.8h0M578.4 358.9h0M567.6 362.0h0M581.4 366.1h0M583.3 365.8h0M587.8 363.4h0M616.5 360.1h0M581.4 371.7h0M580.6 372.8h0M605.1 370.9h0M569.6 367.4h0M576.5 372.7h0M613.1 360.9h0M575.0 369.1h0M580.2 359.1h0M614.2 365.2h0M612.0 365.2h0M612.8 366.2h0M599.6 359.8h0M573.2 364.2h0M579.9 361.7h0M587.0 361.9h0M567.8 370.9h0M588.5 360.9h0M616.9 361.8h0M575.3 374.7h0M571.1 365.3h0M607.6 360.1h0M600.6 364.7h0M623.1 360.4h0M599.3 362.8h0M605.9 361.6h0M577.1 373.8h0M602.0 366.8h0M569.1 360.0h0M604.2 364.2h0M567.3 367.4h0M594.2 370.5h0M626.0 359.4h0M589.3 371.3h0M586.0 360.7h0M568.0 359.7h0M610.7 366.8h0M575.5 362.6h0M594.5 359.3h0M592.0 367.2h0M619.1 363.0h0M611.0 362.4h0M584.5 361.9h0M573.9 375.1h0M621.2 359.2h0M618.6 360.9h0M622.4 361.1h0M575.6 366.2h0M620.9 359.0h0M574.4 367.7h0M578.6 370.8h0M581.9 368.8h0M581.5 374.6h0M594.5 371.7h0M586.0 371.9h0M602.2 364.8h0M576.1 369.0h0M582.2 374.6h0M580.2 365.1h0M601.1 361.0h0M567.0 362.5h0M602.1 369.9h0M600.3 370.9h0M585.0 367.5h0M618.1 363.7h0M582.4 374.4h0M596.0 369.2h0M581.7 361.3h0M567.4 365.0h0M599.3 367.8h0M618.9 361.9h0M607.0 366.8h0M594.5 368.3h0M587.5 374.6h0M594.5 366.6h0M592.0 362.3h0M569.4 361.6h0M605.4 370.4h0M582.5 367.5h0M611.2 362.4h0M605.1 359.5h0M576.0 360.3h0M577.8 366.0h0M579.4 365.4h0M594.0 362.2h0M592.2 369.1h0M618.6 360.7h0M571.7 364.2h0M568.7 376.4h0M616.4 360.8h0M618.8 363.5h0M610.9 364.5h0M572.3 366.8h0M588.3 361.3h0M605.7 365.6h0M596.0 362.2h0M567.4 373.7h0M601.7 369.3h0M594.0 372.6h0M598.1 363.9h0M614.4 365.8h0M571.6 360.3h0M624.3 359.4h0M597.0 366.2h0M581.7 370.2h0M588.3 367.6h0M573.2 372.8h0M567.2 371.9h0M581.6 359.4h0M595.6 360.1h0M589.7 372.0h0M601.4 360.3h0M605.8 370.3h0M591.0 371.7h0M604.2 368.9h0M586.8 363.8h0M592.4 359.5h0M622.7 361.5h0M619.6 359.4h0M575.0 367.8h0M581.7 359.5h0M584.6 362.9h0M570.7 369.7h0M568.3 362.7h0M601.5 369.5h0M612.4 367.0h0M576.9 370.1h0M602.2 363.0h0M574.8 366.3h0M569.0 359.1h0M574.7 364.7h0M591.1 364.3h0M578.9 372.0h0M606.0 365.7h0M594.4 368.2h0M590.1 370.2h0M587.1 359.3h0M570.0 359.3h0M604.5 365.0h0M600.0 369.4h0M583.0 360.6h0M571.8 366.4h0M575.0 366.8h0M571.2 368.9h0M601.6 369.1h0M582.7 367.1h0M594.3 363.2h0M594.0 369.9h0M587.9 371.4h0M572.1 360.7h0M580.9 361.2h0M578.3 360.6h0M602.2 368.2h0M590.3 365.1h0M591.8 368.5h0M601.9 364.8h0M598.2 362.2h0M589.4 367.7h0M584.3 365.0h0M582.3 374.5h0M620.5 361.7h0M576.2 363.2h0M580.3 360.7h0M569.6 375.1h0M590.2 370.2h0M596.7 362.3h0M569.1 376.4h0M579.1 372.6h0M590.2 369.1h0M576.7 368.1h0M575.9 371.5h0M603.9 359.5h0M572.5 375.1h0M603.3 361.1h0M569.4 363.8h0M569.3 368.2h0M578.2 359.0h0M567.8 361.7h0M587.2 373.0h0M589.7 366.0h0M589.6 364.3h0M600.3 361.2h0M614.3 360.2h0M598.1 366.9h0M578.6 361.6h0M570.3 363.3h0M571.9 368.2h0M611.6 359.4h0M614.4 364.8h0M588.6 359.3h0M617.0 364.1h0M599.8 358.9h0M608.8 360.9h0M574.9 358.8h0M585.8 371.5h0M589.8 359.6h0M577.2 375.8h0M592.3 367.4h0M593.3 362.4h0M598.0 361.6h0M593.7 370.7h0M602.5 369.6h0M568.9 360.0h0M583.5 371.7h0M620.4 361.5h0M572.2 358.9h0M587.6 372.9h0M567.9 370.5h0M598.1 369.1h0M602.0 363.5h0M584.5 361.9h0M591.5 368.2h0M573.8 375.6h0M604.8 360.3h0M583.7 360.7h0M607.0 365.6h0M592.3 365.1h0M574.8 374.4h0M572.5 362.4h0M569.2 368.7h0M583.0 372.0h0M574.4 366.5h0M575.9 359.5h0M584.8 362.1h0M603.0 370.5h0M568.3 366.8h0M576.4 362.4h0M574.5 359.1h0M586.2 361.7h0M599.9 363.3h0M603.2 360.3h0M581.3 364.4h0M579.6 362.6h0M616.1 359.6h0M574.9 360.2h0M592.4 361.2h0M611.0 366.3h0M594.7 359.3h0M590.9 360.4h0M582.5 372.1h0M567.2 375.0h0M596.8 361.7h0M612.3 360.0h0M576.2 374.7h0M611.8 365.0h0M580.3 366.6h0M584.9 368.1h0M577.9 361.1h0M569.1 372.0h0M598.1 361.1h0M590.4 362.8h0M586.9 372.4h0M588.5 372.9h0M599.4 371.2h0M567.6 372.2h0M592.0 369.1h0M568.9 367.3h0M594.4 365.6h0M586.2 360.0h0M576.9 372.3h0M581.1 369.2h0M584.8 372.2h0M606.4 369.7h0M585.9 374.3h0M579.8 366.8h0M577.1 371.0h0M570.9 372.3h0M594.0 373.5h0M602.8 360.2h0M612.3 366.6h0M570.7 361.3h0M591.8 371.7h0M589.0 366.3h0M624.1 360.2h0M601.6 367.2h0M593.0 365.2h0M605.1 359.4h0M570.0 368.4h0M600.6 360.8h0M573.0 360.1h0M584.3 363.1h0M573.0 364.5h0M597.0 370.5h0M592.6 365.6h0M567.5 360.2h0M614.9 361.3h0M616.1 359.9h0M603.8 367.7h0M591.3 371.7h0M603.1 359.9h0M571.8 359.0h0M591.3 364.0h0M577.9 363.4h0M570.5 360.7h0M567.8 368.1h0M568.8 364.4h0M582.3 362.1h0M576.2 363.1h0M573.5 365.0h0M581.6 369.0h0M583.4 364.7h0M568.7 371.8h0M590.3 362.5h0M598.6 365.5h0M606.1 361.8h0M575.2 374.1h0M600.4 364.8h0M576.7 370.5h0M584.7 370.3h0M604.7 369.4h0M592.5 360.2h0M626.3 359.6h0M575.4 366.2h0M586.8 360.3h0M580.8 370.3h0M583.4 360.0h0M607.7 359.1h0M582.9 362.9h0M580.6 368.9h0M604.4 363.8h0M593.9 359.2h0M594.7 365.1h0M576.2 374.6h0M619.3 363.3h0M578.6 372.8h0M587.1 368.3h0M584.5 366.5h0M588.7 373.0h0M584.7 365.9h0M567.5 374.4h0M576.2 376.4h0M569.6 359.1h0M587.0 365.6h0M574.2 366.6h0M581.7 369.6h0M579.1 363.8h0M612.3 362.8h0M592.6 367.8h0M580.7 361.6h0M566.8 369.6h0M601.6 366.5h0M582.3 370.4h0M615.8 363.1h0M617.5 361.5h0M581.6 363.7h0M602.6 365.3h0M575.2 371.0h0M569.4 359.8h0M618.3 360.5h0M589.2 361.7h0M573.6 369.7h0M567.6 376.2h0M573.0 361.7h0M610.1 359.2h0M608.4 366.8h0M588.0 372.8h0M576.9 368.2h0M598.1 362.6h0M585.6 361.6h0M591.8 368.5h0M577.5 359.1h0M603.8 368.7h0M591.1 360.7h0M572.1 363.8h0M620.8 360.7h0M572.4 360.2h0M569.4 368.9h0M618.8 363.4h0M594.2 373.2h0M594.5 368.9h0M567.6 359.3h0M588.5 362.0h0M594.1 363.3h0M601.8 362.6h0M576.0 374.7h0M588.4 367.4h0M585.8 360.3h0M609.7 363.9h0M572.2 365.3h0M596.5 371.4h0M601.7 360.0h0M604.9 365.1h0M605.1 367.8h0M591.2 364.2h0M611.7 364.4h0M595.9 372.8h0M594.3 363.0h0M596.3 369.7h0M606.8 361.9h0M574.9 367.4h0M609.0 363.3h0M566.1 376.6h0M620.7 359.9h0M602.8 369.3h0M575.7 358.9h0M592.0 368.9h0M592.2 367.9h0M572.1 363.9h0M606.4 369.4h0M585.8 372.3h0M568.2 359.2h0M586.4 358.9h0M613.3 359.7h0M577.7 369.8h0M599.9 360.9h0M617.8 361.0h0M596.4 366.2h0M584.9 360.6h0M596.7 359.5h0M576.9 368.3h0M580.6 375.2h0M611.8 364.4h0M595.9 359.3h0M584.9 363.1h0M618.9 363.5h0M593.2 370.8h0M595.0 371.3h0M569.5 374.2h0M575.5 376.2h0M618.3 358.8h0M583.6 359.6h0M572.1 368.5h0M594.8 362.0h0M580.0 360.6h0M607.4 364.9h0M602.6 359.1h0M569.8 372.5h0M604.8 366.9h0M588.3 365.1h0M588.6 371.1h0M612.4 362.3h0M576.7 374.3h0M574.3 362.3h0M614.8 362.7h0M599.5 367.6h0M579.5 375.8h0M615.0 365.0h0M593.2 365.0h0M613.1 361.4h0M609.4 367.1h0M578.6 366.4h0M610.4 365.3h0M596.9 358.9h0M618.2 360.2h0M598.0 363.5h0M605.2 360.2h0M574.2 369.1h0M602.6 360.3h0M610.3 367.8h0M571.8 368.2h0M592.4 366.7h0M569.5 359.9h0M600.6 368.3h0M601.6 362.2h0M581.3 359.8h0M615.7 363.7h0M581.3 373.5h0M573.9 367.2h0M569.9 365.1h0M583.4 370.3h0M615.5 361.5h0M577.1 368.4h0M604.3 368.6h0M602.1 364.3h0M584.2 359.5h0M599.6 364.4h0M568.6 376.1h0M570.5 369.5h0M623.8 359.5h0M569.6 376.3h0M588.7 370.6h0M607.8 363.5h0M568.4 363.7h0M581.0 375.4h0M598.7 369.9h0M584.2 361.9h0M578.2 369.0h0M599.4 370.0h0M585.2 372.0h0M577.3 374.3h0M582.2 367.4h0M598.9 366.8h0M601.7 364.6h0M617.2 364.5h0M610.7 365.9h0M573.6 368.2h0M580.1 358.8h0M603.1 369.3h0M585.0 375.0h0M591.0 364.8h0M582.1 374.6h0M580.9 365.7h0M615.0 359.6h0M600.4 366.4h0M580.6 368.4h0M584.3 361.9h0M598.8 371.8h0M572.9 361.2h0M600.2 361.8h0M603.9 365.5h0M571.9 373.3h0M611.9 366.1h0M588.6 365.7h0M618.8 361.8h0M583.9 374.5h0M587.2 373.6h0M583.4 362.7h0M580.9 364.9h0M609.5 368.5h0M569.9 370.1h0M571.0 371.1h0M567.4 367.0h0M600.8 362.5h0M589.8 361.8h0M569.6 370.9h0M591.5 369.9h0M587.7 367.4h0M596.9 359.3h0M620.3 361.1h0M579.1 372.9h0M574.7 367.8h0M595.1 360.8h0M611.0 363.7h0M581.1 373.9h0M580.0 371.7h0M569.2 374.4h0M582.0 367.5h0M601.4 361.4h0M592.6 361.5h0M569.0 361.2h0M611.4 364.4h0M571.2 362.0h0M591.8 366.2h0M570.8 371.6h0M601.3 370.3h0M595.6 362.8h0M567.6 374.5h0M624.6 359.4h0M601.9 371.1h0M596.7 364.2h0M577.7 363.9h0M569.3 364.8h0M623.1 360.5h0M579.4 364.6h0M607.3 363.2h0M607.6 362.4h0M579.6 373.5h0M574.4 364.6h0M576.1 362.4h0M585.6 374.5h0M582.5 365.6h0M600.6 371.3h0M575.8 365.4h0M589.4 371.8h0M595.9 360.5h0M590.7 366.6h0M585.6 370.4h0M568.5 364.3h0M612.2 364.7h0M594.3 358.9h0M585.8 373.3h0M603.6 361.8h0M596.0 363.0h0M623.8 359.7h0M583.2 363.4h0M573.5 366.5h0M573.5 372.3h0M611.5 361.7h0M579.5 362.7h0M582.1 369.4h0M603.6 370.4h0M581.8 371.4h0M571.3 373.4h0M568.6 372.6h0M600.7 364.8h0M598.1 369.1h0M586.3 371.6h0M569.9 358.9h0M589.4 366.8h0M588.1 363.8h0M589.0 374.0h0M610.8 364.6h0M574.1 368.9h0M620.8 360.3h0M601.8 362.6h0M613.9 363.2h0M594.7 363.1h0M586.1 368.9h0M594.3 372.8h0M600.8 362.3h0M578.9 360.0h0M570.8 365.6h0M574.8 371.0h0M582.6 374.9h0M583.3 361.7h0M586.9 361.6h0M600.5 360.1h0M599.6 359.4h0M611.2 367.1h0M596.9 365.6h0M579.4 373.7h0M616.4 363.7h0M580.4 367.2h0M613.0 362.4h0M595.3 365.2h0M614.7 364.8h0M620.7 361.9h0M576.5 365.4h0M591.3 366.8h0M605.0 365.7h0M575.1 366.9h0M605.6 360.6h0M586.0 359.1h0M573.6 361.6h0M572.1 375.7h0" stroke="#000" stroke-width="1.90" stroke-linecap="round" fill="none"/>
<path d="M527.9 365.9h0M527.7 372.0h0M513.0 367.1h0M510.6 366.9h0M515.4 371.5h0M508.6 366.3h0M514.9 366.8h0M529.1 363.0h0M520.9 361.6h0M520.1 362.5h0M528.0 361.3h0M520.5 364.3h0M506.1 359.7h0M525.5 372.6h0M506.9 367.0h0M507.3 361.9h0M529.3 375.3h0M516.6 363.8h0M518.1 363.1h0M517.9 367.5h0M524.2 372.2h0M528.4 369.7h0M529.6 362.8h0M509.2 364.0h0M518.0 369.2h0M515.2 365.8h0M525.3 371.0h0M513.5 359.6h0M509.2 368.5h0M529.0 361.0h0M512.0 370.5h0M524.0 364.7h0M515.1 359.9h0M510.5 370.9h0M513.1 364.3h0M519.6 364.2h0M600.6 365.1h0M616.2 361.7h0M606.0 359.8h0M613.4 364.0h0M612.3 360.0h0M616.5 363.5h0M605.1 360.9h0M610.7 361.1h0M600.5 364.2h0M601.7 365.1h0M602.9 363.4h0M616.0 362.9h0M621.3 360.9h0M613.3 359.2h0M600.2 362.3h0M606.7 367.9h0M601.4 360.2h0M601.3 360.4h0M609.5 364.8h0M614.4 360.1h0M603.0 366.0h0M620.1 360.8h0" stroke="#000" stroke-width="1.80" stroke-linecap="round" fill="none"/>
<path d="M542.7 353.0h0M543.9 333.2h0M546.6 357.4h0M537.2 356.5h0M545.3 336.3h0M540.7 339.0h0M544.0 350.7h0M535.1 357.4h0M546.4 328.3h0M554.0 352.6h0M536.7 351.9h0M546.2 339.3h0M544.3 342.8h0M556.7 356.0h0M547.6 336.9h0M533.5 357.5h0M546.2 354.6h0M539.4 355.6h0M538.2 351.6h0M548.7 341.5h0M547.0 349.5h0M547.3 330.5h0M555.7 354.5h0M539.2 349.5h0M548.1 352.8h0M532.9 356.0h0M553.9 351.3h0M551.9 346.6h0M543.5 355.8h0M545.4 333.3h0M545.8 347.7h0M538.1 348.2h0M554.4 358.0h0M546.3 353.0h0M546.4 358.0h0M553.3 354.4h0M549.8 351.8h0M535.1 352.8h0M535.3 351.8h0M545.2 338.7h0M549.2 347.2h0M541.6 337.4h0M544.3 355.2h0M554.7 355.8h0M538.0 352.5h0M541.8 356.4h0M542.8 335.4h0M545.9 337.2h0M547.7 353.7h0M549.9 348.0h0M548.9 352.9h0M545.5 341.7h0M542.3 344.3h0M536.2 350.0h0M546.4 328.0h0M544.1 343.1h0M545.5 347.3h0M547.5 344.1h0M538.8 356.3h0M546.8 351.3h0M541.4 345.7h0M534.8 353.4h0M542.1 356.3h0M540.3 348.6h0M552.9 348.7h0M540.9 357.6h0M556.8 353.4h0M550.6 349.7h0M541.9 338.1h0M546.9 355.1h0M537.1 347.0h0M539.0 349.4h0M546.3 347.8h0M541.4 337.6h0M536.4 351.4h0M545.9 334.5h0M537.5 358.6h0M545.2 334.7h0M540.6 348.9h0M551.7 357.3h0M539.9 353.5h0M545.9 349.7h0M541.7 347.2h0M552.3 355.8h0M554.0 349.6h0M553.5 352.2h0M544.5 355.3h0M554.5 358.1h0M545.6 358.5h0M545.1 332.9h0M541.9 356.8h0M542.2 341.7h0M552.3 354.7h0M551.7 346.5h0M549.6 358.2h0M546.4 336.8h0M542.4 347.8h0M547.1 354.4h0M535.9 358.0h0M544.1 356.0h0M556.7 358.6h0M545.1 346.1h0M538.8 344.7h0M547.5 336.4h0M556.1 353.9h0M539.8 350.2h0M538.8 347.3h0M551.5 344.5h0M547.9 336.4h0M537.5 346.5h0M552.5 356.6h0M541.9 345.8h0M543.9 348.9h0M550.0 337.3h0M546.8 338.0h0M540.3 348.3h0M543.2 341.6h0M535.5 356.9h0M539.3 345.4h0M553.0 347.7h0M544.0 336.4h0M554.6 349.8h0M548.0 347.7h0M547.0 354.3h0M549.0 348.9h0M546.9 355.3h0M539.2 358.3h0M551.3 348.0h0M541.1 352.6h0M546.7 339.7h0M551.9 352.4h0M548.9 334.6h0M540.0 345.6h0M540.4 349.2h0M540.1 349.7h0M547.5 333.9h0M554.3 356.1h0M542.0 342.5h0M547.5 353.1h0M535.8 353.2h0M553.0 352.1h0M534.4 354.6h0M541.6 349.8h0M550.3 350.1h0M545.2 334.4h0M544.9 341.2h0M552.5 349.0h0M536.3 356.4h0M545.3 355.3h0M536.6 354.0h0M553.6 347.5h0M553.6 347.5h0M540.1 355.8h0M533.3 356.5h0M545.4 345.8h0M552.5 345.2h0M546.0 347.6h0M542.7 353.5h0M542.0 357.4h0M536.0 350.2h0M547.9 336.6h0M537.2 347.4h0M545.2 346.6h0M542.7 347.0h0M548.5 343.5h0M547.8 351.9h0M549.0 351.9h0M543.4 345.5h0M548.7 344.9h0M540.9 346.1h0M549.7 336.7h0M551.6 348.4h0M546.1 338.9h0M546.9 329.3h0M544.4 352.4h0M540.9 355.7h0M549.7 338.5h0M549.2 339.5h0M542.2 353.8h0M544.2 349.4h0M552.5 356.5h0M537.5 349.6h0M544.5 343.9h0M537.6 347.8h0M552.5 352.3h0M549.1 341.1h0M540.1 355.9h0M546.9 356.2h0M558.7 358.3h0M545.4 331.8h0M535.7 351.5h0M541.9 356.6h0M550.9 356.3h0M540.6 348.6h0M541.1 344.5h0M542.5 350.5h0M540.3 351.4h0M547.6 343.2h0M548.3 347.3h0M551.1 346.0h0M542.0 336.8h0M555.2 355.2h0M551.0 353.1h0M553.2 345.9h0M535.5 351.2h0M552.7 347.2h0M543.5 345.8h0M544.5 353.5h0M538.7 346.9h0M548.3 339.6h0M534.9 357.9h0M551.8 341.1h0M539.5 345.7h0M551.9 355.2h0M544.8 347.4h0M545.6 346.1h0M543.2 340.4h0M547.1 337.3h0M545.9 341.7h0M549.2 354.8h0M539.9 346.5h0M539.5 347.2h0M538.8 353.8h0M545.5 331.9h0M544.1 357.7h0M557.2 358.4h0M555.7 352.7h0M544.7 343.2h0M547.4 346.8h0M537.2 356.7h0M546.9 349.1h0M537.8 353.3h0M537.8 355.0h0M546.6 358.5h0M545.5 351.1h0M538.9 347.5h0M554.3 351.3h0M547.4 331.6h0M541.3 344.0h0M541.1 342.5h0M537.0 347.6h0M550.7 347.5h0M550.1 340.8h0M540.8 341.4h0M551.2 346.9h0M541.9 348.6h0M551.3 348.7h0M540.8 356.2h0M541.5 337.8h0M543.3 357.6h0M542.2 357.1h0M541.9 344.2h0M547.5 351.8h0M555.2 354.2h0M533.9 354.9h0M551.0 358.2h0M542.3 350.0h0M546.4 353.0h0M547.7 351.2h0M550.6 345.4h0M543.8 337.1h0M546.2 354.8h0M555.9 355.0h0M537.8 349.3h0M542.5 347.0h0M554.1 357.3h0M546.6 353.3h0M536.4 349.3h0M542.2 357.4h0M547.9 354.3h0M546.8 342.0h0M555.1 357.6h0M540.6 344.6h0M549.1 339.8h0M544.8 344.9h0M547.3 354.1h0M546.3 350.4h0M547.1 358.6h0M544.0 346.0h0M545.5 338.9h0M555.9 353.6h0M535.7 351.5h0M545.3 346.8h0M542.9 347.3h0M547.6 336.7h0M546.2 352.4h0M543.8 341.3h0M558.8 358.3h0M542.1 346.9h0M543.0 342.9h0M545.9 348.1h0M552.3 342.5h0M534.3 358.6h0M537.6 350.8h0M548.8 337.7h0M554.2 350.7h0M545.5 336.8h0M543.5 341.6h0M539.7 351.4h0M555.4 355.7h0M544.9 347.9h0M543.9 338.5h0M547.1 354.0h0M548.0 351.8h0M544.9 349.1h0M543.9 344.9h0M543.6 345.5h0M554.3 357.1h0M550.1 339.3h0M554.3 348.1h0M551.3 347.5h0M539.3 343.9h0M545.8 330.4h0M542.5 336.9h0M545.6 354.1h0M551.6 347.2h0M550.9 350.7h0M538.3 344.9h0M539.6 358.3h0M537.0 353.5h0M546.4 354.0h0M551.1 353.6h0M536.2 356.8h0M547.7 349.4h0M538.7 352.8h0M549.0 336.4h0M546.6 328.9h0M541.5 354.7h0M543.4 343.2h0M546.2 332.7h0M546.9 353.6h0M545.8 349.8h0M542.0 346.6h0M556.7 356.2h0M543.5 344.2h0M537.5 355.6h0M540.2 352.8h0M543.3 351.1h0M553.6 347.2h0M540.9 353.1h0M541.5 351.8h0M548.7 347.9h0M545.8 340.4h0M547.0 351.2h0M546.3 331.4h0M546.4 339.1h0M548.8 354.5h0M544.2 351.2h0M541.7 348.2h0M549.4 350.3h0M554.5 350.9h0M557.6 356.8h0M542.7 346.0h0M546.7 342.2h0M554.4 354.8h0M540.8 355.5h0M546.6 335.8h0M537.8 352.6h0M549.4 346.1h0M555.0 354.8h0M541.8 336.9h0M542.4 342.2h0M546.8 331.1h0M536.2 351.2h0M541.1 352.6h0M549.7 351.0h0M552.9 356.8h0M547.9 351.8h0M546.3 341.0h0M544.1 347.9h0M550.2 358.3h0M554.8 355.0h0M543.0 335.1h0M540.4 347.1h0M545.9 345.7h0M535.7 349.7h0M541.0 356.4h0M553.7 354.1h0M539.3 348.1h0M545.3 340.5h0M549.6 338.7h0M543.1 338.2h0M538.4 347.8h0M545.0 336.0h0M545.0 339.5h0M554.4 354.1h0M548.2 337.4h0M547.5 353.1h0M547.1 336.4h0M540.0 356.5h0M543.4 340.3h0M540.2 344.5h0M558.0 357.1h0M539.5 349.1h0M550.9 350.4h0M549.9 336.8h0M556.0 354.4h0M551.6 353.9h0M542.6 356.9h0M541.3 343.8h0M542.4 340.1h0M537.6 347.9h0M541.6 342.4h0M551.3 341.4h0M537.0 352.8h0M541.2 358.4h0M555.2 351.2h0M549.5 348.1h0M546.5 347.3h0M541.5 357.5h0M550.7 348.4h0M542.9 345.6h0M550.9 340.4h0M551.8 354.8h0M547.7 357.7h0M557.7 356.2h0M541.3 344.9h0M547.9 358.5h0M549.1 349.3h0M536.6 349.5h0M549.8 349.3h0M544.5 335.2h0M548.9 352.5h0M547.5 337.1h0M552.4 345.5h0M544.0 345.6h0M537.4 355.6h0M538.1 345.6h0M547.9 334.5h0M546.8 335.9h0M550.0 352.3h0M534.3 356.7h0M549.9 349.8h0M546.2 348.9h0M547.3 330.0h0M540.4 348.9h0M541.7 341.7h0M541.9 344.2h0M551.5 340.3h0M556.0 354.1h0M549.2 350.3h0M550.2 357.3h0M539.8 353.0h0M554.6 354.9h0M553.8 353.9h0M550.0 339.0h0M548.4 338.3h0M542.6 351.2h0M548.1 342.8h0M550.3 353.2h0M539.8 355.4h0M538.5 352.4h0M534.8 351.1h0M549.8 350.4h0M557.2 356.9h0M546.5 329.9h0M547.7 336.4h0M542.0 355.3h0M545.9 342.2h0M554.3 353.2h0M547.9 335.8h0M558.1 357.9h0M550.9 345.9h0M544.0 353.5h0M548.1 345.8h0M549.1 357.4h0M543.7 335.3h0M549.8 349.3h0M543.5 345.5h0M542.4 345.6h0M533.3 354.5h0M547.5 348.0h0M543.0 357.4h0M541.0 344.4h0M540.1 343.4h0M543.8 347.0h0M546.0 331.0h0M533.8 355.4h0M541.8 349.4h0M557.5 356.1h0M539.8 348.0h0M544.7 357.8h0M553.3 357.0h0M554.6 358.4h0M540.7 350.6h0M550.0 345.6h0M552.9 347.3h0M538.5 351.3h0M545.3 335.5h0M540.6 342.0h0M545.5 332.5h0M551.1 343.4h0M545.8 337.9h0M542.9 340.9h0M550.3 348.0h0M539.9 349.0h0M544.1 340.5h0M535.2 353.1h0M554.4 348.6h0M544.3 345.4h0M541.5 356.0h0M552.1 354.8h0M545.9 343.8h0M550.8 353.4h0M535.9 354.2h0M547.7 353.9h0M543.4 355.8h0M553.3 347.2h0M540.8 342.1h0M542.3 343.4h0M539.4 350.2h0M549.5 348.6h0M544.6 336.5h0M549.1 343.2h0M540.4 350.3h0M553.8 347.3h0M537.8 356.6h0M543.8 338.9h0M549.9 352.3h0M546.2 356.5h0M546.7 348.5h0M544.5 349.3h0M533.8 353.7h0M539.5 347.6h0M553.1 357.8h0M553.1 356.2h0M536.8 347.6h0M547.9 350.1h0M548.9 347.6h0M534.8 356.5h0M546.0 344.1h0M538.1 349.8h0M549.3 338.7h0M540.2 342.9h0M554.8 356.7h0M541.3 345.3h0M541.4 342.2h0M543.8 339.9h0M535.6 357.0h0M544.0 351.2h0M541.7 342.8h0M552.8 350.6h0M534.6 358.1h0M544.6 339.7h0M539.9 357.2h0M554.6 349.9h0M541.3 350.3h0M540.7 346.8h0M550.7 358.3h0M545.0 348.7h0M547.4 348.3h0M546.7 358.4h0M548.5 348.2h0M558.1 357.0h0M543.3 345.0h0M546.5 332.1h0M552.9 356.3h0M545.1 358.0h0M538.8 342.7h0M554.5 357.4h0M537.4 351.8h0M547.6 349.4h0M543.5 345.8h0M546.5 352.9h0M536.4 355.2h0M551.7 352.8h0M548.1 336.4h0M553.8 352.2h0M545.5 351.4h0M556.1 358.5h0M541.1 353.5h0M546.6 332.3h0M541.2 348.3h0M553.2 347.2h0M545.1 344.4h0M551.4 351.3h0M556.8 356.3h0M546.6 354.8h0M551.9 347.9h0M546.9 335.3h0M544.0 333.2h0M539.9 355.1h0M542.4 357.8h0M549.0 352.1h0M546.3 328.2h0M548.4 346.0h0M539.4 351.1h0M542.7 346.2h0M535.8 349.7h0M551.3 348.7h0M543.4 334.0h0M554.1 352.3h0M545.9 358.2h0M547.5 352.7h0M546.7 355.3h0M551.0 343.7h0M548.9 340.3h0M543.5 346.0h0M538.6 358.2h0M542.7 335.4h0M547.7 347.7h0M539.8 344.5h0M544.9 356.7h0M547.3 331.9h0M540.6 341.7h0M549.4 337.7h0M536.2 349.2h0M536.3 356.9h0M544.7 350.2h0M537.7 351.7h0M553.7 354.9h0M545.0 346.1h0M542.3 340.4h0M551.8 351.2h0M543.0 335.9h0M553.4 345.3h0M544.8 352.4h0M551.5 352.0h0M545.9 331.7h0M539.0 348.5h0M543.5 344.7h0M549.2 342.8h0M539.1 342.2h0M544.7 341.8h0M552.2 343.5h0M558.3 358.1h0M548.0 355.7h0M540.1 355.7h0M544.0 349.4h0M547.1 343.4h0M549.1 342.7h0M543.6 355.0h0M557.0 355.9h0M543.8 335.6h0M537.4 346.8h0M544.9 345.2h0M544.4 343.3h0M549.5 355.1h0M539.0 346.7h0M548.3 341.3h0M550.4 354.8h0M537.4 347.8h0M546.3 351.8h0M548.2 335.1h0M552.1 358.1h0M552.9 349.3h0M543.0 339.4h0M546.8 328.9h0M547.2 341.0h0M551.1 352.7h0" stroke="#386a99" stroke-width="2.10" stroke-linecap="round" fill="none"/>
<path d="M531.3 351.7h0M556.1 354.8h0M538.6 337.4h0M553.7 343.0h0M552.9 349.2h0M541.6 346.2h0M537.0 347.8h0M535.1 349.9h0M550.5 335.5h0M550.3 338.1h0M536.6 351.5h0M546.0 350.4h0M528.9 357.4h0M527.5 354.6h0M542.6 335.9h0M553.2 343.3h0M555.6 347.3h0M540.0 357.5h0M547.5 342.3h0M555.7 357.6h0M544.9 350.9h0M549.2 338.6h0M537.3 354.9h0M545.3 344.1h0M536.2 345.6h0M539.0 350.6h0M549.5 340.7h0M553.7 336.5h0M546.8 345.1h0M536.6 351.3h0M554.6 347.8h0M530.7 350.2h0M536.8 345.9h0M524.2 356.7h0M540.9 346.9h0M543.9 354.7h0M543.9 354.3h0M551.0 354.7h0M535.6 352.8h0M553.9 352.1h0M558.7 357.5h0M542.7 342.8h0M533.6 342.6h0M541.7 333.4h0M544.2 340.1h0M547.5 333.4h0M524.0 356.8h0M532.9 351.2h0M541.3 343.3h0M551.7 337.9h0M539.3 336.1h0M552.7 338.9h0M541.7 357.7h0M535.1 357.1h0M554.4 353.1h0M541.6 338.1h0M544.5 354.2h0M551.6 333.4h0M542.2 343.5h0M553.0 356.4h0M540.6 333.8h0M554.7 343.3h0M556.2 349.4h0M525.6 357.0h0M544.2 337.2h0M529.5 352.4h0M553.0 353.4h0M545.5 350.1h0M548.6 342.7h0M536.0 356.8h0M557.3 356.2h0M536.3 357.5h0M540.4 355.4h0M554.2 346.1h0M545.2 355.3h0M545.8 350.9h0M555.4 354.8h0M545.2 334.1h0M536.2 350.9h0M535.7 344.2h0M543.8 349.8h0M545.1 336.0h0M545.7 345.5h0M536.1 349.5h0M539.5 340.5h0M546.3 343.9h0M538.4 339.9h0M546.2 353.5h0M546.9 333.9h0M533.9 345.1h0M534.9 352.2h0M530.5 350.2h0M532.4 349.8h0M546.0 342.3h0M544.0 337.2h0M537.3 348.5h0M556.2 348.3h0M529.0 355.9h0M552.0 346.3h0M537.3 345.8h0M547.1 347.4h0M534.5 357.3h0M538.9 346.3h0M549.2 355.4h0M552.7 340.1h0M557.6 355.8h0M538.8 356.0h0M553.8 347.0h0M530.3 352.1h0M541.5 334.6h0M529.3 354.5h0M538.2 338.3h0M557.1 348.8h0M559.2 357.4h0M554.9 350.1h0M545.3 335.3h0M539.8 341.1h0M543.6 337.8h0M547.8 337.9h0M556.8 349.7h0M536.6 355.5h0M548.0 340.0h0M551.7 341.1h0M547.8 343.6h0M546.7 355.1h0M533.5 354.8h0M540.6 351.4h0M533.8 353.7h0M541.2 353.2h0M534.5 348.2h0M545.8 341.2h0M530.3 357.8h0M538.0 343.2h0M548.9 339.1h0M531.9 354.1h0M534.8 349.5h0M539.1 347.0h0M546.6 352.6h0M548.5 341.2h0M556.1 346.7h0M532.2 354.2h0M543.4 340.5h0M535.6 357.1h0M539.4 352.9h0M535.0 353.5h0M542.4 357.8h0M554.6 354.9h0M552.5 334.0h0M552.6 334.8h0M542.2 335.2h0M552.3 335.0h0M531.6 345.7h0M550.5 335.0h0M546.2 356.2h0M552.5 349.9h0M552.1 344.1h0M552.0 354.6h0M540.6 351.3h0M549.4 347.7h0M543.0 333.8h0M545.6 340.0h0M553.2 347.5h0M529.0 354.8h0M543.3 339.0h0M535.3 343.9h0M537.8 346.4h0M538.7 335.6h0M541.2 354.3h0M549.7 355.7h0M530.2 356.9h0M551.2 348.1h0M541.6 351.1h0M546.2 355.6h0M532.6 349.7h0M553.4 338.7h0M556.2 350.9h0M532.2 346.0h0M548.1 344.0h0M556.7 358.0h0M542.9 352.1h0M547.8 346.0h0M558.1 354.0h0M542.4 354.5h0M530.5 349.6h0M546.7 342.7h0M542.4 347.3h0M544.3 349.8h0M551.4 340.0h0M551.3 335.8h0M541.3 353.1h0M537.4 342.5h0M546.8 342.0h0M533.2 354.6h0M547.0 337.6h0M528.9 352.7h0M557.6 355.2h0M543.7 346.4h0M545.7 342.0h0M557.6 354.0h0M538.5 339.8h0" stroke="#386a99" stroke-width="2.10" stroke-linecap="round" fill="none"/>
<path d="M528.8 325.1h0M557.3 352.9h0M543.0 326.0h0M521.9 311.0h0M528.4 313.5h0M506.2 333.5h0M504.1 346.9h0M542.0 332.0h0M507.1 357.1h0M526.7 337.8h0M519.4 356.3h0M520.5 337.2h0M525.6 333.0h0M532.2 339.0h0M527.7 346.7h0M537.7 313.8h0M506.2 350.5h0M527.7 318.1h0M525.4 319.3h0M545.8 346.9h0M530.5 327.6h0M557.9 338.4h0M552.9 345.7h0M558.7 332.2h0M545.9 320.3h0M509.9 317.0h0M534.2 344.2h0M507.7 318.7h0M541.8 352.0h0M537.2 340.0h0M542.9 337.5h0M533.7 337.0h0M555.5 354.9h0M523.1 312.0h0M525.6 345.3h0M545.6 323.8h0M524.7 322.2h0M542.9 333.0h0M549.8 350.9h0M506.7 319.7h0M539.7 310.9h0M513.5 353.4h0M539.5 326.1h0M558.0 350.3h0M509.2 334.6h0M511.0 329.4h0M559.9 333.6h0M526.2 336.7h0M524.4 313.3h0M523.4 339.5h0M550.7 337.5h0M543.7 353.7h0M546.2 344.4h0M528.3 319.9h0M525.7 348.9h0M552.0 335.1h0M518.8 338.0h0M503.3 343.8h0M539.2 312.8h0M554.8 349.1h0M514.8 347.1h0M543.8 318.7h0M559.7 331.4h0M547.7 321.7h0M538.2 349.3h0M556.6 355.4h0M538.9 345.8h0M536.6 324.8h0M541.6 336.7h0M507.0 340.3h0M521.9 337.4h0M544.0 338.9h0M541.4 342.7h0M504.1 319.1h0M541.4 352.0h0M529.1 319.0h0M510.9 315.0h0M513.2 323.7h0" stroke="#386a99" stroke-width="2.10" stroke-linecap="round" fill="none"/>
<path d="M500.2 306.2h0M534.7 306.2h0M521.0 306.6h0M550.5 310.2h0M517.2 318.8h0M552.3 316.3h0M515.5 326.7h0M536.4 323.7h0M550.0 323.7h0M503.2 328.5h0M528.0 308.6h0M531.0 307.5h0M543.0 307.5h0M538.0 313.5h0M532.0 318.0h0M525.2 319.5h0M547.0 322.0h0" stroke="#386a99" stroke-width="1.90" stroke-linecap="round" fill="none"/>
<path d="M599.1 347.6h0M594.1 340.6h0M586.2 346.0h0M571.7 353.6h0M580.5 333.7h0M592.6 346.3h0M582.8 340.1h0M570.5 345.3h0M581.3 332.2h0M577.1 337.7h0M575.0 337.9h0M576.9 338.9h0M569.5 354.5h0M593.6 337.1h0M585.7 351.4h0M587.0 347.3h0M595.9 356.1h0M591.8 351.3h0M593.9 343.1h0M580.0 352.3h0M581.8 327.0h0M589.8 350.2h0M581.2 336.6h0M575.2 334.6h0M580.2 333.5h0M574.2 335.1h0M605.5 342.7h0M596.5 341.6h0M600.2 334.7h0M602.9 355.0h0M601.2 352.3h0M585.0 332.5h0M596.7 332.9h0M612.3 357.5h0M570.4 349.2h0M581.3 352.4h0M606.1 338.0h0M583.0 327.7h0M584.7 344.5h0M616.6 351.9h0M576.0 347.0h0M594.9 344.2h0M595.5 358.6h0M605.4 353.2h0M592.8 341.6h0M581.0 334.6h0M593.6 334.4h0M584.0 348.4h0M571.7 335.6h0M617.9 358.3h0M589.1 337.4h0M571.0 355.5h0M620.0 358.0h0M575.3 328.6h0M604.3 340.8h0M571.0 345.1h0M588.6 356.4h0M577.2 351.6h0M590.5 355.4h0M617.0 358.6h0M603.7 355.4h0M576.7 357.3h0M577.6 339.6h0M590.6 331.7h0M587.4 331.0h0M569.1 356.9h0M593.3 353.4h0M596.5 349.2h0M608.3 351.4h0M609.5 345.8h0M571.0 358.7h0M610.7 346.4h0M595.3 358.3h0M611.8 353.6h0M588.6 344.2h0M585.5 352.0h0M588.2 329.4h0M599.3 344.4h0M577.6 347.9h0M613.7 345.9h0M582.8 341.2h0M604.3 356.5h0M596.1 349.1h0M613.4 354.1h0M606.2 349.9h0M614.1 351.1h0M607.0 350.4h0M618.3 352.1h0M605.6 354.3h0M571.5 341.1h0M578.9 341.6h0M611.7 354.5h0M603.1 357.0h0M604.4 357.1h0M590.5 353.3h0M601.9 343.0h0M614.6 349.0h0M601.7 340.1h0M571.3 350.1h0M590.5 358.2h0M582.9 341.4h0M577.5 348.1h0M598.2 351.5h0M598.8 340.7h0M595.9 353.5h0M610.0 357.6h0M607.8 355.2h0M574.0 330.5h0M614.3 356.5h0M576.2 344.4h0M589.7 332.6h0M573.0 331.4h0M575.2 343.6h0M575.8 341.2h0M593.3 350.5h0M588.7 335.5h0M593.9 354.5h0M580.5 330.8h0M583.2 345.4h0M599.2 347.7h0M587.9 347.4h0M589.8 347.6h0M613.6 353.8h0M600.4 344.6h0M606.9 338.8h0M588.2 350.3h0M575.1 329.9h0M582.3 356.4h0M589.3 352.3h0M605.7 341.7h0M583.5 339.6h0M584.2 351.7h0M600.0 342.2h0M582.5 344.3h0M605.4 348.2h0M589.2 346.8h0M581.4 350.8h0M588.1 351.9h0M609.4 354.5h0M578.4 340.4h0M622.3 358.4h0M590.0 333.5h0M608.3 345.2h0M586.7 329.8h0M594.9 353.1h0M596.0 340.5h0M600.5 345.8h0M602.6 355.9h0M613.2 358.5h0M602.3 347.6h0M584.1 334.6h0M581.7 352.8h0M606.3 358.2h0M598.5 355.7h0M572.8 332.6h0M573.0 345.7h0M596.1 353.4h0M600.9 340.3h0M614.3 354.1h0M593.6 349.7h0M575.9 351.4h0M620.2 355.2h0M577.2 328.4h0M587.9 339.9h0M584.1 358.5h0M603.2 351.9h0M583.0 352.1h0M586.0 348.6h0M572.1 338.0h0M585.9 336.0h0M577.5 331.0h0M570.4 341.7h0M593.5 340.3h0M594.3 349.5h0M579.7 329.4h0M595.4 339.9h0M595.7 344.4h0M605.4 338.5h0M570.7 357.8h0M587.0 349.4h0M598.0 355.3h0M572.0 350.8h0M589.3 341.0h0M586.7 357.7h0M594.0 337.0h0M572.2 356.8h0M587.0 348.8h0M614.9 355.8h0M582.1 351.2h0M580.0 333.7h0M593.3 340.3h0M614.1 353.5h0M572.0 340.0h0M582.2 356.5h0M585.2 328.4h0M575.5 352.2h0M576.3 331.6h0M609.6 347.0h0M591.9 343.0h0M613.6 350.4h0M584.0 352.5h0M593.9 338.4h0M592.6 356.7h0M583.2 325.9h0M572.4 349.7h0M576.9 336.3h0M603.0 339.6h0M595.5 337.8h0M576.2 342.7h0M610.0 342.1h0M611.9 358.4h0M596.2 355.7h0M596.8 335.7h0M601.6 346.5h0M584.2 326.2h0M591.6 354.8h0M599.7 337.2h0M590.4 331.3h0M573.3 329.0h0M606.1 349.9h0M577.8 334.5h0M595.2 338.2h0M599.0 334.5h0M592.0 338.3h0M594.7 341.6h0M579.9 326.8h0M587.7 347.2h0M607.1 343.1h0M590.9 339.4h0M594.9 332.6h0M578.1 352.7h0M593.6 343.9h0M581.8 329.3h0M592.4 331.0h0M602.1 338.0h0M580.0 349.3h0M593.1 337.9h0M603.1 355.2h0M573.3 330.7h0M573.0 346.7h0M595.1 340.3h0M571.0 342.9h0M616.4 355.1h0M613.6 350.4h0M586.8 353.1h0M596.0 344.0h0M582.3 327.5h0M579.3 342.5h0M580.0 336.5h0M622.9 357.6h0M583.8 341.4h0M606.9 340.3h0M603.2 355.3h0M583.6 327.8h0M592.0 336.2h0M584.3 343.6h0M588.3 353.2h0M594.9 352.3h0M590.1 335.7h0M588.6 329.6h0M576.3 328.1h0M617.2 350.5h0M601.4 358.5h0M578.8 347.5h0M605.9 357.1h0M579.6 355.6h0M582.7 333.4h0M586.3 336.6h0M572.9 339.4h0M612.6 350.9h0M581.1 332.9h0M576.3 333.5h0M574.5 343.7h0M620.2 355.0h0M598.6 358.0h0M576.1 358.3h0M582.6 330.2h0M599.3 358.5h0M577.8 340.7h0M582.4 358.6h0M571.1 347.6h0M578.3 335.2h0M575.6 344.6h0M573.4 339.4h0M605.7 344.9h0M585.1 349.6h0M612.8 346.9h0M592.5 342.8h0M581.8 357.6h0M570.7 355.8h0M597.4 336.9h0M583.0 345.4h0M581.6 339.8h0M583.1 339.7h0M593.2 345.1h0M583.9 326.9h0M572.9 330.2h0M582.1 354.9h0M582.9 325.7h0M603.0 336.6h0M585.3 333.8h0M587.9 345.8h0M572.9 357.8h0M600.4 337.9h0M581.1 352.3h0M612.3 358.3h0M593.7 332.2h0M574.0 340.0h0M611.3 345.6h0M581.8 356.8h0M615.2 355.5h0M577.9 341.6h0M611.5 352.0h0M597.5 348.3h0M594.8 334.6h0M574.0 356.1h0M594.4 344.4h0M611.7 348.6h0M587.8 331.7h0M590.5 346.7h0M589.2 342.9h0M604.5 354.1h0M599.1 350.4h0M594.5 357.2h0M582.7 354.1h0M604.2 349.5h0M590.6 347.9h0M605.2 338.2h0M596.2 342.6h0M579.1 330.7h0M586.3 355.7h0M598.4 340.6h0M588.8 339.5h0M611.9 358.1h0M577.7 348.8h0M605.5 336.8h0M586.2 341.9h0M575.0 344.3h0M587.0 349.5h0M600.3 339.6h0M578.8 338.1h0M592.1 350.4h0M571.4 336.2h0M583.9 327.8h0M600.7 345.0h0M610.8 354.5h0M608.8 351.6h0M580.8 335.6h0M600.7 350.9h0M593.5 357.7h0M581.1 327.7h0M578.1 345.6h0M600.9 348.7h0M591.2 349.0h0M577.7 352.1h0M582.5 346.1h0M595.4 336.1h0M583.1 341.6h0M597.2 345.6h0M597.2 340.4h0M583.1 333.9h0M576.6 351.3h0M591.1 348.6h0M588.1 351.9h0M598.1 347.6h0M591.7 356.7h0M571.2 336.8h0M612.8 353.2h0M586.0 351.1h0M574.0 333.0h0M597.2 335.6h0M600.3 347.6h0M607.5 348.5h0M615.3 356.2h0M581.6 352.7h0M587.4 337.2h0M575.1 332.4h0M576.0 356.3h0M586.2 348.5h0M572.7 349.6h0M610.7 349.2h0M573.9 342.9h0M579.0 351.3h0M581.0 354.8h0M572.4 343.8h0M583.8 349.7h0M609.3 346.5h0M576.1 329.2h0M570.2 356.1h0M583.7 348.3h0M580.7 343.3h0M577.0 338.4h0M590.3 342.4h0M605.8 353.0h0M579.7 358.5h0M584.7 343.8h0M613.6 358.1h0M571.8 353.1h0M570.9 344.5h0M595.7 351.7h0M588.4 353.3h0M614.2 358.6h0M606.9 337.7h0M579.3 351.1h0M603.7 337.9h0M613.7 348.4h0M588.0 349.0h0M580.4 352.3h0M577.9 344.5h0M594.3 354.1h0M577.6 336.1h0M585.8 333.0h0M575.8 346.5h0M580.2 358.2h0M587.5 329.2h0M581.3 351.4h0M610.3 351.7h0M577.3 329.5h0M589.3 345.4h0M571.2 342.6h0M582.1 348.4h0M606.8 355.7h0M588.7 357.2h0M574.7 328.8h0M585.6 353.8h0M569.8 348.4h0M596.1 337.7h0M579.3 358.8h0M571.1 335.0h0M603.0 354.9h0M590.3 334.7h0M577.5 339.2h0M582.8 336.1h0M587.6 329.0h0M585.2 350.2h0M580.7 328.7h0M584.2 348.7h0M607.6 347.4h0M600.9 356.8h0M578.5 357.5h0M570.8 342.5h0M581.5 353.6h0M580.3 348.9h0M589.9 338.0h0M605.6 355.0h0M601.6 351.8h0M582.1 351.4h0M576.3 346.5h0M571.9 357.2h0M581.8 335.5h0M608.3 352.2h0M577.3 345.7h0M595.3 356.4h0M586.0 329.2h0M608.8 354.7h0M579.9 335.3h0M601.4 355.3h0M590.2 352.7h0M571.8 351.9h0M594.2 333.0h0M599.6 349.4h0M569.4 351.0h0M583.4 342.0h0M602.8 344.0h0M581.3 355.1h0M610.2 358.2h0M580.4 328.9h0M601.1 343.3h0M594.7 355.2h0M602.1 340.8h0M616.6 358.5h0M617.8 354.5h0M574.2 339.8h0M584.4 349.3h0M610.6 343.0h0M579.6 330.7h0M604.7 350.2h0M601.4 335.6h0M572.9 340.2h0M601.4 344.1h0M580.9 351.8h0M601.9 342.7h0M576.0 343.6h0M577.0 353.6h0M578.9 347.7h0M585.5 341.8h0M598.3 345.6h0M591.6 354.3h0M580.3 332.5h0M590.3 340.3h0M581.8 336.9h0M576.2 353.1h0M613.0 353.6h0M597.0 358.4h0M574.8 357.1h0M613.0 354.0h0M619.2 356.4h0M573.2 352.3h0M605.7 349.4h0M572.8 346.2h0M575.2 329.1h0M574.9 342.2h0M588.9 342.0h0M591.1 338.5h0M587.9 346.7h0M598.0 335.7h0M580.0 329.7h0M596.2 337.3h0M604.6 341.0h0M588.2 352.1h0M577.3 354.8h0M600.0 336.6h0M586.8 353.0h0M573.2 358.4h0M573.2 330.5h0M587.8 338.2h0M591.8 342.0h0M617.0 350.1h0M572.4 357.7h0M590.0 336.9h0M571.0 348.2h0M589.1 336.9h0M594.1 358.5h0M599.8 340.7h0M596.5 336.6h0M605.1 342.6h0M594.2 339.9h0M588.9 351.1h0M597.4 341.0h0M576.1 345.2h0M611.9 354.2h0M572.8 352.2h0M597.2 338.8h0M571.9 355.3h0M571.8 335.3h0M597.2 338.7h0M591.5 351.1h0M590.0 343.6h0M574.4 347.8h0M618.0 358.0h0M597.7 341.8h0M602.4 337.0h0M607.4 341.7h0M604.2 351.2h0M596.3 333.1h0M572.1 336.0h0M579.3 326.5h0M581.2 337.6h0M610.4 358.6h0M577.1 349.3h0M583.9 355.7h0M581.7 357.2h0M589.7 355.3h0M591.6 353.9h0M587.9 358.5h0M570.5 358.7h0M588.1 348.5h0M577.2 337.1h0M608.4 358.7h0M598.1 335.4h0M603.6 341.6h0M606.2 348.3h0M587.6 356.8h0M593.9 337.5h0M585.7 331.9h0M598.1 340.3h0M578.4 354.9h0M589.6 338.2h0M574.7 330.9h0M578.3 332.2h0M586.6 355.3h0M601.0 354.4h0M585.2 334.5h0M605.6 337.1h0M590.7 336.2h0M587.0 333.6h0M575.8 342.6h0M585.8 333.5h0M601.1 352.5h0M576.3 327.1h0M608.6 350.1h0M594.1 347.3h0M619.7 355.2h0M588.0 348.8h0M589.6 352.1h0M584.0 332.3h0M587.0 347.4h0M591.8 348.9h0M595.6 335.6h0M600.6 336.4h0M575.0 339.4h0M577.9 349.8h0M590.1 337.7h0M585.3 344.4h0M588.3 342.7h0M604.5 347.5h0M606.8 358.5h0M605.2 357.6h0M594.7 333.6h0M601.2 341.9h0M578.7 331.5h0M582.4 326.7h0M596.2 344.3h0M586.8 358.2h0M580.9 330.3h0M598.3 336.7h0M587.0 352.6h0M606.5 350.8h0M597.4 344.6h0M610.7 344.9h0M586.8 356.7h0M609.4 351.3h0M590.7 343.6h0M579.4 352.8h0M584.8 336.1h0M584.7 326.9h0M601.0 336.9h0M575.8 352.7h0M595.2 335.6h0M571.5 341.3h0M589.8 353.6h0M571.5 356.7h0M595.9 349.8h0M585.3 332.4h0M594.6 346.2h0M610.5 345.3h0M613.8 350.5h0M584.2 335.6h0M572.0 344.5h0M600.9 337.3h0M584.1 358.5h0M574.8 327.8h0M598.5 341.3h0M581.9 346.9h0M590.8 345.5h0M580.6 338.5h0M614.9 357.9h0M579.9 355.5h0M577.6 328.0h0M613.8 351.8h0M587.7 330.2h0M592.7 350.0h0M614.2 356.7h0M580.9 358.6h0M581.6 330.5h0M600.9 347.0h0M602.3 358.7h0M598.5 340.3h0M610.7 345.3h0M580.3 341.3h0M591.5 339.0h0M574.3 333.7h0M588.9 335.7h0M603.8 344.1h0M609.1 353.8h0M597.1 347.3h0M605.2 350.8h0M595.7 344.8h0M610.3 343.1h0M588.3 335.3h0M591.0 330.6h0M583.4 345.6h0M575.1 330.9h0M612.2 350.8h0M608.5 339.3h0M582.4 334.7h0M592.0 339.5h0M595.9 341.0h0M582.9 343.4h0M575.9 354.2h0M572.1 339.6h0M573.0 344.8h0M607.1 345.4h0M580.3 354.6h0M614.4 353.6h0M580.7 329.4h0M607.7 355.7h0M587.0 341.1h0M608.6 347.1h0M572.1 348.4h0M600.2 335.3h0M571.1 337.9h0M602.5 351.6h0M589.1 353.8h0M601.2 348.4h0M602.9 357.8h0M596.2 340.7h0M590.2 341.0h0M600.3 334.2h0M608.3 341.0h0M586.4 333.1h0M596.1 351.6h0M604.5 337.0h0M588.5 332.7h0M596.1 333.0h0M618.5 354.6h0M601.0 357.2h0M584.8 339.8h0M594.7 355.0h0M594.4 352.2h0M585.3 346.7h0M586.6 344.9h0M588.2 343.1h0M577.7 333.7h0M605.3 352.8h0M575.0 341.1h0M614.4 349.1h0M571.1 347.7h0M572.1 333.9h0M578.5 327.6h0M599.3 347.8h0M616.1 358.8h0M601.7 342.5h0M603.1 358.3h0M606.9 347.1h0M590.7 339.3h0M618.0 351.1h0M581.7 328.8h0M577.0 347.5h0M580.0 345.3h0M589.0 345.6h0M579.2 348.6h0M591.8 352.5h0M573.9 356.4h0M572.0 348.1h0M578.5 348.5h0M586.6 342.7h0M573.6 343.5h0M576.3 339.6h0M586.2 332.4h0M581.9 348.0h0M595.4 353.9h0M577.0 352.4h0M581.0 343.0h0M587.2 349.8h0M602.3 354.9h0M579.5 351.7h0M591.8 334.2h0M586.2 337.4h0M580.6 348.0h0M598.8 344.9h0M578.6 358.4h0M592.4 332.0h0M598.9 345.7h0M578.1 333.9h0M594.6 339.1h0M580.1 357.9h0M615.4 351.6h0M601.5 349.0h0M611.0 352.5h0M596.5 338.1h0M596.3 358.5h0M597.1 349.1h0M578.1 342.5h0M592.4 333.8h0M581.8 354.6h0M581.9 354.4h0M570.7 348.9h0M601.4 340.0h0M590.8 356.2h0M602.9 351.6h0M590.4 340.0h0M622.2 357.0h0M604.9 336.9h0M570.8 357.0h0M609.8 355.8h0M575.6 343.0h0M597.5 345.4h0M588.3 351.4h0M598.0 345.8h0M580.0 356.9h0M574.2 347.1h0M600.8 343.0h0M588.5 356.4h0M585.2 331.2h0M595.7 354.0h0M591.9 334.6h0M584.3 350.7h0M584.7 351.8h0M596.0 350.8h0M596.4 341.8h0M608.9 349.4h0M594.0 334.3h0M574.8 328.2h0M576.1 337.9h0M573.4 356.9h0M610.6 355.5h0M584.1 346.2h0M598.0 334.8h0M604.7 339.9h0M573.2 350.1h0M586.7 328.4h0M611.7 355.8h0M607.3 346.2h0M597.9 352.0h0M582.5 332.1h0M589.4 341.1h0M577.8 355.7h0M587.3 349.9h0M609.4 350.9h0M587.7 353.1h0M596.8 355.5h0M594.1 353.1h0M576.3 354.6h0M596.6 356.9h0M597.1 345.9h0M589.4 347.7h0M603.7 350.5h0M581.3 342.9h0M586.9 330.9h0M570.1 352.9h0M574.1 350.2h0M585.6 355.8h0M591.5 347.7h0M607.0 350.7h0M581.2 346.8h0M606.7 357.3h0M575.9 341.6h0M594.7 346.7h0M594.6 334.6h0M571.5 343.9h0M592.8 344.8h0M574.9 342.5h0M572.8 330.9h0M575.9 354.4h0M590.9 339.0h0M584.3 326.4h0M592.4 339.7h0M584.0 341.1h0M599.0 342.9h0M579.6 353.4h0M586.0 341.9h0M590.9 349.9h0M581.7 328.8h0M614.0 352.4h0M569.9 346.8h0M589.2 347.1h0M577.7 337.6h0M569.8 357.9h0M609.1 346.3h0M597.7 341.7h0M568.9 357.7h0M591.9 336.3h0M579.3 354.9h0M598.3 357.5h0M605.8 346.3h0M604.3 336.0h0M590.4 358.2h0M582.4 336.2h0M584.6 327.1h0M616.1 355.1h0M597.1 339.1h0M615.4 358.1h0M606.3 342.2h0M591.8 342.4h0M606.3 345.5h0M609.0 358.3h0M601.4 353.9h0M580.6 355.5h0M580.7 358.1h0M607.7 349.0h0M584.4 357.0h0M580.9 327.8h0M578.0 337.9h0M571.6 342.9h0M587.7 340.0h0M611.8 355.2h0M601.0 346.1h0M579.4 340.8h0M611.1 351.8h0M610.0 349.8h0M615.3 357.5h0M615.5 353.7h0M577.0 353.9h0M603.4 351.1h0M598.9 343.6h0M601.1 339.4h0M576.5 329.7h0M597.4 338.2h0M594.2 354.0h0M584.9 356.8h0M611.1 355.3h0M573.8 331.5h0M594.8 347.4h0M580.1 333.2h0M576.1 344.0h0M596.5 356.1h0M591.5 331.5h0M591.1 346.7h0M585.1 357.0h0M573.8 335.4h0M585.2 334.6h0M585.5 355.9h0M602.3 335.6h0M617.7 351.8h0M580.9 346.3h0M578.3 342.5h0M579.4 343.1h0M589.2 346.3h0M579.2 357.4h0M570.6 340.8h0M588.9 355.8h0M597.6 339.5h0M604.5 335.8h0M609.3 350.7h0M585.3 358.2h0M577.1 345.2h0M596.8 334.7h0M583.2 327.7h0M590.3 336.4h0M579.5 347.5h0M608.1 345.2h0M571.6 337.5h0M570.3 343.8h0M601.7 337.3h0M599.2 338.1h0M577.2 355.9h0M585.6 334.7h0M599.8 357.1h0M572.7 357.0h0M595.5 345.7h0M598.2 341.1h0M569.6 353.5h0M604.5 351.9h0M573.7 354.0h0M571.8 357.4h0M582.3 345.0h0M584.5 333.8h0M586.7 351.3h0M586.1 347.5h0M598.6 351.5h0M596.7 346.3h0M574.7 353.8h0M582.1 335.9h0M597.4 339.4h0M577.2 354.6h0M585.4 344.5h0M612.1 356.7h0M584.7 337.2h0M594.5 337.7h0M587.8 341.2h0M578.2 342.4h0M597.1 351.5h0M581.1 327.4h0M589.4 353.0h0M586.7 338.5h0M615.5 354.2h0M571.1 351.0h0M587.7 352.3h0M570.6 350.3h0M592.6 339.8h0M608.5 345.3h0M593.4 348.4h0M591.3 347.9h0M599.9 348.0h0M572.8 355.5h0M571.0 353.6h0M584.3 347.2h0M589.3 336.0h0M574.7 347.0h0M590.1 356.5h0M592.8 340.0h0M602.2 336.8h0M581.1 331.5h0M581.0 336.3h0M579.2 343.3h0M589.9 343.0h0M602.1 357.9h0M585.0 336.4h0M606.3 338.2h0M597.6 349.3h0M593.5 337.1h0M576.3 343.8h0M608.7 355.7h0M574.3 330.6h0M583.7 326.8h0M598.3 342.9h0M604.4 346.4h0M583.5 352.1h0M601.3 340.9h0M603.8 357.8h0M573.8 331.1h0M607.3 343.3h0M608.2 353.2h0M593.3 339.8h0M586.9 338.3h0M612.2 348.7h0M594.5 345.0h0M595.7 349.1h0M572.6 357.5h0M599.8 350.2h0M593.4 343.4h0M592.5 336.8h0M595.0 352.0h0M583.0 332.1h0M600.5 351.6h0M582.2 350.6h0M616.7 352.1h0M589.5 354.4h0M578.5 331.9h0M592.8 352.0h0M582.6 335.2h0M582.0 343.9h0M588.9 352.1h0M596.4 336.6h0M580.1 345.9h0M575.8 334.4h0M588.1 341.3h0M585.7 345.8h0M579.3 351.9h0M571.1 342.3h0M576.2 356.5h0M584.1 354.4h0M603.9 346.8h0M588.6 335.7h0M588.5 330.0h0M601.6 356.7h0M576.5 332.1h0M581.4 332.9h0M586.8 349.3h0M585.5 348.8h0M581.7 345.8h0M608.5 349.6h0M604.8 336.9h0M598.2 336.1h0M589.1 337.1h0M569.9 351.0h0M616.5 354.8h0M573.9 343.1h0M592.3 334.1h0M570.5 343.1h0M588.7 336.9h0M575.4 353.6h0M586.1 345.0h0M588.7 358.7h0M613.3 347.6h0M586.1 340.2h0M606.0 358.3h0M585.5 348.6h0M599.8 353.9h0M588.0 343.7h0M607.5 346.3h0M573.2 349.0h0M571.4 338.3h0M575.0 342.5h0M590.3 333.7h0M609.4 350.5h0M591.4 336.9h0M593.7 351.3h0M599.0 341.6h0M583.4 331.1h0M602.9 342.7h0M601.1 352.3h0M606.2 344.5h0M600.4 356.5h0M588.7 338.8h0M607.2 355.0h0M589.8 329.6h0M611.7 355.8h0M573.6 336.0h0M601.7 347.6h0M597.9 357.4h0M576.5 338.4h0M589.9 339.1h0M589.2 347.5h0M577.4 348.5h0M580.7 327.2h0M602.3 341.0h0M607.4 354.7h0M599.8 343.4h0M574.8 356.8h0M571.3 338.6h0M576.8 346.6h0M593.4 345.7h0M585.4 330.9h0M580.8 327.7h0M593.3 333.3h0M575.3 329.6h0M610.9 348.8h0M578.1 356.4h0M577.5 358.0h0M571.2 350.2h0M604.1 340.8h0M587.3 338.6h0M588.5 348.5h0M592.9 356.2h0M586.5 344.9h0M586.2 327.5h0M571.7 344.5h0M593.8 334.2h0M570.8 354.1h0M595.0 342.4h0M610.0 358.7h0M582.3 335.2h0M611.9 352.5h0M610.2 342.5h0M573.5 341.0h0M600.7 339.0h0M583.0 352.6h0M597.6 347.7h0M569.7 352.6h0M591.1 356.3h0M584.2 345.4h0M575.0 337.4h0M589.1 353.4h0M578.5 345.0h0M605.7 337.0h0M588.7 358.1h0M605.6 358.0h0M575.8 339.6h0M583.6 350.4h0M573.6 345.6h0M588.8 333.0h0M588.5 341.8h0M605.5 357.1h0M572.0 350.1h0M574.1 349.0h0M584.2 354.8h0M595.3 354.7h0M586.8 330.2h0M599.9 356.5h0M571.7 333.5h0M595.2 341.7h0M594.7 350.5h0M603.8 350.9h0M585.9 336.5h0M593.3 358.2h0M597.4 342.9h0M580.5 338.4h0M596.2 343.7h0M575.9 348.8h0M599.4 355.2h0M579.9 336.2h0M594.4 335.3h0M602.8 358.7h0M579.9 350.7h0M597.6 346.2h0M589.3 355.8h0M584.3 355.5h0M600.8 358.1h0M598.9 336.7h0M588.5 339.6h0M586.5 354.1h0M569.3 353.5h0M599.8 356.2h0M594.9 353.8h0M569.9 355.5h0M573.8 353.8h0M593.0 343.0h0M583.1 343.2h0M607.3 354.2h0M596.1 341.4h0M598.7 355.9h0M595.4 333.3h0M585.6 351.1h0M589.4 355.3h0M598.8 338.2h0M620.4 356.4h0M574.0 330.4h0M596.3 345.6h0M569.3 348.9h0M589.7 352.2h0M603.2 343.8h0M574.3 345.8h0M585.5 331.3h0M591.4 347.0h0M605.5 349.4h0M607.3 338.9h0M577.7 350.7h0M573.3 350.1h0M602.7 346.0h0M574.5 357.5h0M570.6 358.5h0M586.1 356.6h0M598.9 334.1h0M614.9 347.4h0M581.6 327.0h0M587.2 353.3h0M575.3 341.5h0M607.0 352.8h0M589.1 356.3h0M586.8 331.0h0M607.9 341.0h0M575.0 345.3h0M611.9 356.7h0M586.7 340.7h0M585.7 342.7h0M580.4 350.3h0M591.4 339.1h0M579.9 345.0h0M573.3 355.4h0M587.6 343.8h0M593.6 357.9h0M604.1 348.3h0M611.6 345.3h0M590.0 353.9h0M605.0 348.6h0M577.0 355.3h0M592.5 354.8h0M602.6 357.6h0M598.6 358.5h0M586.7 342.4h0M578.8 340.3h0M577.3 330.5h0M590.1 350.9h0M600.9 355.4h0M574.0 341.9h0M594.1 337.2h0M617.9 353.4h0M593.2 344.0h0M576.5 348.3h0M574.5 346.5h0M583.0 334.3h0M571.7 335.2h0M604.4 355.2h0M586.7 334.2h0M597.0 356.5h0M585.0 356.3h0M577.6 346.2h0M589.8 353.8h0M577.8 333.4h0M598.6 355.5h0M598.3 334.6h0M571.0 343.0h0M592.1 339.7h0M609.3 356.0h0M591.2 343.9h0M576.2 349.9h0M574.7 340.0h0M575.2 356.9h0M598.7 346.4h0M610.9 355.5h0M591.7 332.5h0M587.9 354.4h0M608.3 346.9h0M585.8 343.1h0M602.1 348.5h0M583.4 355.9h0M584.3 356.4h0M601.6 337.1h0M572.8 331.3h0M609.8 356.5h0M614.8 350.0h0M587.6 353.7h0M610.0 348.0h0M602.8 349.3h0M580.8 358.4h0M575.7 333.5h0M608.5 353.1h0M599.8 357.0h0M587.1 331.5h0M570.1 347.0h0M578.2 328.9h0M571.0 352.2h0M596.9 353.1h0M588.8 340.2h0M578.0 335.8h0M620.8 357.6h0M595.3 334.1h0M611.8 345.3h0M609.3 340.3h0M610.2 344.9h0M602.1 336.7h0M577.6 334.7h0M584.9 348.4h0M593.8 342.3h0M583.4 357.1h0M585.7 331.7h0M605.6 350.1h0M575.3 342.2h0M573.6 352.4h0M593.1 333.5h0M600.5 335.3h0M573.0 335.5h0M613.4 347.3h0M605.9 348.3h0M581.0 330.8h0M598.4 340.1h0M570.3 340.3h0M599.9 349.4h0M592.2 343.8h0M579.7 345.8h0M610.3 347.9h0M596.8 346.7h0M609.2 358.1h0M588.3 354.6h0M571.8 353.6h0M598.6 349.5h0M589.6 335.9h0M578.5 357.1h0M572.0 335.1h0M584.1 349.3h0M594.2 347.8h0M578.0 329.1h0M599.3 345.8h0M607.9 351.8h0M597.0 347.5h0M582.3 350.5h0M612.1 349.9h0M578.2 338.6h0M620.0 354.0h0M578.3 358.5h0M575.8 354.3h0M595.6 344.2h0M594.0 350.5h0M599.8 355.8h0M598.0 353.1h0M590.5 339.0h0M609.7 354.0h0M589.1 339.5h0M611.8 358.0h0M575.4 330.3h0M601.7 354.2h0M589.6 332.8h0M570.7 337.5h0M622.0 358.3h0M618.9 354.6h0M577.7 355.0h0M590.0 349.3h0M609.2 349.7h0M610.7 347.3h0M573.2 331.3h0M585.6 354.1h0M593.1 335.7h0M606.4 351.3h0M596.8 335.4h0M600.9 342.0h0M593.1 332.5h0M613.5 347.1h0M606.6 349.9h0M601.8 346.7h0M590.0 346.0h0M600.6 349.4h0M604.8 358.0h0M592.4 356.2h0M581.7 341.9h0M577.5 355.1h0M599.9 344.4h0M587.6 347.6h0M586.9 329.6h0M600.8 338.3h0M583.3 333.9h0M587.0 351.7h0M584.4 351.6h0M592.5 338.9h0M602.3 338.4h0M570.1 358.5h0M598.2 337.6h0M610.3 357.0h0M606.5 352.1h0M601.9 353.9h0M586.3 354.1h0M602.4 340.9h0M607.5 345.3h0M592.3 356.6h0M610.6 356.8h0M583.1 348.0h0M597.4 333.6h0M597.7 337.0h0M578.7 329.4h0M605.8 354.0h0M575.1 328.8h0M577.0 337.7h0M583.7 332.1h0M582.3 345.8h0M601.6 347.4h0M571.4 338.8h0M609.3 348.9h0M578.7 350.4h0M611.9 358.1h0M588.5 338.5h0M580.1 330.6h0M608.3 357.3h0M606.3 352.7h0M573.6 342.1h0M575.4 332.2h0M592.8 344.1h0M616.4 349.4h0M591.4 336.4h0M593.7 354.0h0M587.8 353.3h0M571.7 356.9h0M581.0 351.1h0M620.6 358.1h0M587.9 330.5h0M577.5 346.4h0M582.9 348.7h0M606.0 355.8h0M591.6 336.7h0M583.9 356.4h0M575.0 345.9h0M594.8 349.3h0M603.0 355.2h0M586.0 332.3h0M583.8 347.3h0M602.3 339.5h0M578.1 345.2h0M609.7 341.0h0M582.1 330.2h0M591.3 337.1h0M586.6 339.9h0M583.4 348.6h0M585.9 331.2h0M611.0 349.0h0M609.6 350.4h0M595.8 332.5h0M593.2 347.0h0M608.4 356.4h0M589.0 354.4h0M588.3 354.3h0M610.2 349.6h0M600.6 351.7h0M605.5 342.4h0M582.2 353.8h0M589.6 356.4h0M609.1 342.0h0M602.8 337.8h0M571.3 350.7h0M578.9 326.5h0M607.3 357.2h0M616.8 357.0h0M585.4 339.5h0M583.0 327.1h0M590.3 333.2h0M576.7 335.1h0M594.5 350.7h0M582.0 352.3h0M597.9 352.9h0M615.4 347.9h0M588.5 328.9h0M601.2 343.5h0M605.0 339.5h0M585.5 342.0h0M604.6 338.3h0M593.6 353.7h0M592.4 347.9h0M611.3 350.7h0M575.9 344.5h0M586.7 343.7h0M572.4 332.4h0M579.9 356.9h0M585.1 330.2h0M591.6 358.6h0M582.4 349.9h0M574.6 327.3h0M606.2 350.8h0M583.8 343.9h0M588.2 341.2h0M601.2 340.2h0M586.1 356.7h0M587.3 332.7h0M586.8 335.8h0M595.7 350.3h0M605.5 351.0h0M570.5 355.0h0M576.6 348.7h0M585.3 334.8h0M588.2 348.3h0M597.0 339.9h0M600.7 343.7h0M603.9 349.8h0M604.4 345.9h0M571.3 354.8h0M591.6 335.9h0M597.3 345.3h0M610.1 348.2h0M609.5 348.5h0M597.0 352.3h0M592.9 337.3h0M605.8 342.6h0M607.7 353.2h0M605.3 349.1h0M586.9 357.0h0M615.3 354.4h0M591.7 357.6h0M597.2 351.1h0M617.8 355.3h0M597.1 335.0h0M595.6 343.4h0M590.4 352.8h0M600.9 344.4h0M590.9 332.9h0M588.6 350.6h0M571.4 343.4h0M577.2 338.1h0M578.7 354.8h0M582.7 336.7h0M577.1 347.8h0M571.7 339.3h0M609.0 353.1h0M574.4 356.2h0M607.9 344.6h0M582.8 349.7h0M590.0 356.1h0M585.5 331.9h0M573.1 358.6h0M591.2 336.3h0M583.7 348.8h0M589.5 338.7h0M605.9 348.3h0" stroke="#8f3324" stroke-width="1.90" stroke-linecap="round" fill="none"/>
<path d="M583.7 337.5h0M588.0 342.6h0M615.3 337.6h0M604.4 338.0h0M608.7 330.6h0M622.6 356.2h0M629.3 357.6h0M613.9 347.0h0M616.1 355.2h0M599.6 353.5h0M595.4 343.0h0M632.4 358.7h0M619.2 340.3h0M626.7 351.3h0M616.7 356.5h0M595.3 343.4h0M570.0 341.3h0M570.7 351.9h0M581.1 329.9h0M573.4 337.2h0M572.6 340.9h0M609.2 357.1h0M575.2 324.8h0M606.5 342.5h0M591.3 350.1h0M619.6 352.2h0M588.1 342.1h0M596.2 327.4h0M581.9 333.6h0M586.3 349.9h0M571.7 339.8h0M629.8 354.4h0M628.5 354.3h0M573.7 338.3h0M578.0 325.2h0M606.1 333.0h0M617.1 348.1h0M605.7 355.4h0M598.3 323.3h0M580.8 355.6h0M620.6 340.9h0M613.3 344.7h0M572.2 347.4h0M583.9 334.9h0M607.6 335.6h0M595.2 331.0h0M599.1 324.3h0M591.3 353.5h0M580.2 356.3h0M609.8 348.3h0M619.3 341.6h0M611.1 335.5h0M587.5 358.6h0M577.6 347.9h0M572.1 342.5h0M573.3 328.5h0M576.7 331.3h0M623.5 343.2h0M583.8 341.3h0M620.8 345.9h0M619.2 335.7h0M594.7 330.6h0M613.3 341.7h0M600.9 357.0h0M592.1 343.3h0M628.9 344.8h0M600.0 351.9h0M625.3 355.7h0M602.3 346.7h0M576.5 345.9h0M590.0 334.0h0M626.6 354.5h0M618.0 335.4h0M569.2 349.7h0M572.5 336.4h0M573.8 346.6h0M608.8 345.8h0M625.8 351.5h0M625.2 348.1h0M617.6 338.8h0M610.7 356.5h0M610.4 342.0h0M584.6 350.6h0M598.0 350.2h0M606.6 350.6h0M582.0 322.7h0M593.3 353.6h0M605.5 351.7h0M587.9 358.2h0M570.4 336.7h0M583.7 329.6h0M570.4 336.7h0M582.2 329.3h0M575.4 351.8h0M612.6 336.7h0M579.5 338.8h0M607.1 332.6h0M611.5 357.9h0M569.1 354.2h0M617.1 342.6h0M605.8 326.2h0M621.5 351.3h0M611.2 348.7h0M622.9 345.4h0M606.2 336.6h0M602.3 327.5h0M578.9 323.1h0M582.7 340.3h0M602.5 346.0h0M580.1 327.2h0M584.6 349.4h0M614.8 336.2h0M630.9 358.4h0M617.5 353.5h0M571.2 356.8h0M609.5 348.3h0M576.6 348.8h0M600.0 341.8h0M612.9 346.2h0M623.3 353.8h0M576.4 327.5h0M584.2 339.9h0M583.9 335.3h0M584.9 331.3h0M591.1 332.8h0M608.2 329.6h0M612.2 333.7h0M604.7 337.2h0M602.4 356.3h0M569.9 347.3h0M627.9 347.1h0M588.0 336.0h0M571.5 335.7h0M579.1 335.9h0M586.0 345.7h0M610.1 346.7h0M586.8 328.1h0M613.2 347.2h0M581.4 324.8h0M582.0 358.5h0M570.4 343.9h0M592.0 357.0h0M599.0 349.6h0M594.5 346.4h0M584.4 330.7h0M627.4 348.5h0M610.8 355.0h0M595.6 351.1h0M592.2 354.5h0M573.6 331.7h0M627.0 355.4h0M589.9 354.3h0M598.8 342.0h0M577.8 336.9h0M595.2 332.0h0M580.0 327.5h0M605.3 337.5h0M596.4 327.9h0M615.0 353.5h0M611.9 330.0h0M583.0 345.2h0M594.1 344.6h0M611.2 336.8h0M588.1 324.4h0M580.7 326.8h0M595.1 331.0h0M595.1 322.4h0M596.6 340.5h0M583.4 322.5h0M601.1 336.7h0M613.5 339.7h0M602.2 350.1h0M620.7 358.8h0M576.2 332.4h0M573.8 358.7h0M613.1 347.9h0M616.5 350.1h0M588.3 357.1h0M626.4 357.4h0M623.2 347.7h0M620.9 340.6h0M575.2 345.8h0M623.7 357.5h0M581.9 319.7h0M595.1 333.8h0M602.4 332.6h0M596.9 334.0h0M606.8 354.4h0M574.8 330.4h0M615.1 336.2h0M588.8 351.1h0M620.8 340.6h0M605.7 341.9h0M591.5 351.4h0M601.0 327.2h0M603.5 355.3h0M594.7 352.6h0M599.9 345.5h0M600.3 346.8h0M574.5 330.4h0M614.8 356.3h0M622.1 343.1h0M581.9 332.3h0M582.9 335.1h0M620.3 346.5h0M620.1 349.8h0M603.5 355.6h0M611.2 343.8h0M603.0 351.5h0M593.4 331.2h0M583.1 352.4h0M610.3 333.9h0M603.7 324.1h0M599.3 328.7h0M597.8 341.0h0M604.9 340.8h0M590.6 324.5h0M574.3 351.3h0M585.7 337.1h0M572.2 356.8h0M593.7 320.1h0M596.7 322.2h0M614.0 341.5h0M577.9 349.0h0M605.5 355.9h0M614.8 348.0h0M631.4 353.4h0M577.7 335.9h0M597.8 356.6h0M602.2 343.2h0M614.3 341.8h0M629.4 346.4h0M579.5 321.6h0M603.3 354.6h0M592.2 332.0h0M584.1 341.5h0M581.5 322.7h0M616.7 355.4h0M617.3 345.6h0M604.3 336.1h0M607.3 349.8h0M570.3 340.9h0M596.7 351.2h0M585.4 323.7h0M611.3 349.5h0M574.0 350.0h0M594.5 347.3h0M611.2 350.0h0M600.8 327.4h0M583.3 348.2h0M590.7 333.0h0M571.2 331.1h0M632.0 357.9h0M626.0 349.9h0M598.5 330.9h0M586.2 353.3h0M591.4 350.5h0M576.9 340.2h0M612.5 332.2h0M580.0 334.6h0M613.1 356.8h0M603.6 335.9h0M608.8 337.0h0M585.6 319.4h0M598.6 349.8h0M578.9 320.3h0M584.0 328.5h0M586.0 355.0h0M580.6 341.8h0M632.2 354.4h0M602.6 352.2h0M612.5 350.0h0M600.9 344.1h0M598.6 322.8h0M594.5 331.6h0M610.9 331.4h0M610.4 344.5h0M594.1 342.0h0M604.0 340.8h0M624.0 350.5h0M571.6 348.9h0M576.6 347.9h0M621.3 344.3h0M604.2 358.7h0M584.1 353.2h0M574.7 347.7h0M579.6 324.3h0M615.8 337.6h0M619.3 349.3h0M570.6 339.6h0M619.3 341.0h0M583.1 357.7h0M582.8 332.6h0M587.4 341.3h0M614.7 336.8h0M577.8 330.6h0M610.6 329.6h0M603.5 341.9h0M587.9 325.4h0M617.6 336.0h0M609.7 330.3h0M580.7 323.8h0M599.3 337.7h0M606.9 338.8h0M579.6 349.3h0M599.9 350.2h0M607.3 339.9h0M583.9 336.7h0M589.7 339.5h0M598.5 356.1h0M598.0 327.1h0M585.0 347.6h0M620.2 357.6h0M574.1 349.9h0M587.7 338.8h0M609.9 331.2h0M612.3 331.7h0M583.4 358.6h0M569.6 353.1h0M571.7 353.1h0M581.8 331.7h0M580.3 322.7h0M592.1 327.0h0M614.8 351.4h0M574.9 355.1h0M572.4 337.7h0M606.3 355.0h0M583.7 336.7h0M630.6 357.5h0M612.7 341.1h0M570.5 338.2h0M589.0 328.1h0M606.7 340.3h0M615.2 351.1h0M590.8 336.1h0M575.3 342.9h0M575.7 339.6h0M623.0 340.9h0M604.4 327.3h0M595.4 355.4h0M575.0 324.1h0M584.5 333.0h0M584.7 332.1h0M602.5 344.3h0M587.8 339.0h0M599.9 325.5h0M592.1 321.4h0M617.0 335.9h0M597.1 331.3h0M581.6 348.1h0" stroke="#8f3324" stroke-width="1.90" stroke-linecap="round" fill="none"/>
<path d="M590.7 345.3h0M629.7 353.1h0M646.7 357.4h0M575.6 328.2h0M592.5 341.2h0M622.3 333.5h0M598.5 317.4h0M604.7 357.9h0M574.2 309.2h0M611.1 354.3h0M591.9 321.1h0M582.4 342.5h0M615.4 325.9h0M606.0 325.5h0M604.9 327.3h0M642.8 353.5h0M628.6 342.9h0M613.8 351.2h0M577.1 334.3h0M635.5 351.7h0M621.5 348.4h0M579.8 340.0h0M568.7 313.1h0M621.6 352.3h0M577.4 309.5h0M576.6 338.1h0M591.9 330.8h0M569.9 319.9h0M637.9 356.1h0M604.0 326.6h0M582.8 349.7h0M599.3 336.3h0M570.7 332.8h0M621.7 344.9h0M642.6 345.2h0M615.9 357.5h0M579.0 306.7h0M611.3 342.3h0M605.3 323.4h0M618.7 342.2h0M617.3 350.9h0M596.2 321.0h0M624.3 355.9h0M624.8 353.3h0M586.7 311.4h0M614.2 338.4h0M614.5 351.8h0M571.8 333.7h0M637.4 339.3h0M584.2 349.0h0M641.7 347.5h0M609.2 356.2h0M625.5 340.0h0M609.7 326.2h0M626.2 346.3h0M630.6 334.5h0M579.9 317.9h0M629.8 342.6h0M591.3 322.8h0M589.6 352.8h0M625.6 346.8h0M613.4 330.7h0M586.1 313.2h0M599.1 328.3h0M643.6 350.1h0M593.1 313.2h0M576.2 311.2h0M595.5 342.1h0M574.5 350.5h0M580.3 330.5h0M586.0 340.7h0M638.2 342.8h0M598.9 339.9h0M643.5 355.4h0M623.8 347.9h0M596.9 317.3h0M607.3 354.0h0" stroke="#8f3324" stroke-width="1.90" stroke-linecap="round" fill="none"/>
<path d="M605.0 321.7h0M599.8 319.0h0M583.2 317.8h0M589.6 311.9h0M599.4 325.3h0M593.7 326.0h0M570.3 315.1h0M607.2 329.4h0M587.6 318.5h0M585.3 325.1h0M576.9 324.0h0M613.9 323.5h0M593.6 327.8h0M586.8 323.1h0M588.2 319.0h0M593.0 318.6h0M576.9 329.8h0M615.9 326.0h0M607.2 325.1h0M617.1 326.1h0M607.9 324.5h0M570.8 313.8h0M569.3 318.9h0M580.0 325.4h0M584.3 327.2h0M584.0 322.4h0M573.0 328.8h0M603.1 322.6h0M574.3 316.1h0M599.8 322.0h0M599.3 322.2h0M603.9 316.2h0M574.1 312.0h0M589.4 328.9h0M588.0 328.5h0M612.2 328.8h0M612.9 321.5h0M603.1 322.7h0M611.9 326.7h0M599.5 319.2h0M586.7 321.2h0M615.0 321.3h0M570.0 329.4h0M607.9 318.5h0M608.5 324.2h0M583.4 324.2h0M593.0 318.3h0M616.0 329.1h0M599.9 323.9h0M569.6 322.6h0M573.0 318.6h0M612.7 321.4h0M586.2 327.8h0M605.6 319.5h0M602.8 315.9h0M589.0 327.5h0M589.2 323.1h0M612.7 323.5h0M609.4 323.3h0M597.4 321.7h0M608.3 323.5h0M597.7 314.7h0M599.7 315.5h0M614.0 320.6h0M576.1 316.3h0M591.7 323.8h0M599.2 319.2h0M570.5 320.0h0M584.4 313.7h0M583.0 310.0h0M570.0 315.1h0M610.7 321.5h0M596.4 319.3h0M587.8 314.5h0M574.3 320.0h0M571.1 306.8h0M581.7 327.2h0M582.6 319.8h0M580.7 318.0h0M604.3 329.2h0M575.4 311.2h0M595.2 312.8h0M570.8 326.3h0M594.4 320.9h0M584.1 329.3h0M579.7 320.9h0M589.9 323.2h0M601.4 314.7h0M593.5 317.8h0M575.0 310.1h0M574.5 308.6h0M585.9 317.6h0M594.4 326.3h0M609.0 327.0h0M614.5 326.8h0M598.0 321.1h0M569.9 316.9h0M607.1 326.0h0M585.2 320.1h0M593.1 328.8h0M569.9 312.4h0M569.4 328.7h0M573.8 324.8h0M572.9 325.6h0M610.1 321.6h0M588.9 329.1h0M613.5 327.9h0M608.6 324.1h0M593.9 313.4h0M611.1 324.4h0M572.1 316.3h0M606.7 317.9h0M571.1 316.0h0M583.0 310.5h0M616.7 323.6h0" stroke="#8f3324" stroke-width="1.90" stroke-linecap="round" fill="none"/>
<path d="M590.7 253.1h0M613.5 253.1h0M639.7 253.1h0M577.7 277.0h0M605.6 277.4h0M612.0 284.3h0M597.4 285.6h0M603.8 288.9h0M595.6 290.7h0M582.8 292.9h0M633.5 295.3h0M603.8 300.8h0M574.6 306.6h0M580.1 307.5h0M587.4 307.2h0M596.5 310.3h0M602.9 308.4h0M614.7 307.9h0M638.5 310.3h0M638.5 313.9h0M644.9 313.9h0M649.4 315.7h0M671.3 319.9h0M646.7 323.6h0M635.7 324.9h0M618.4 325.4h0M662.2 328.9h0M633.9 330.3h0M645.8 336.7h0M630.3 338.0h0M634.8 341.3h0M643.9 346.4h0M637.6 354.1h0M646.7 352.8h0M585.5 306.6h0M614.7 314.8h0M612.0 313.0h0" stroke="#8f3324" stroke-width="1.90" stroke-linecap="round" fill="none"/>
<line x1="476.40" y1="243.50" x2="476.40" y2="377.30" stroke="#333" stroke-width="0.9"/>
<line x1="476.00" y1="376.90" x2="680.80" y2="376.90" stroke="#333" stroke-width="0.9"/>
<line x1="474.30" y1="257.50" x2="476.40" y2="257.50" stroke="#333" stroke-width="0.7"/>
<text x="473.40" y="260.74" font-size="9" text-anchor="end" fill="#3d3d3d">8</text>
<line x1="474.30" y1="287.70" x2="476.40" y2="287.70" stroke="#333" stroke-width="0.7"/>
<text x="473.40" y="290.94" font-size="9" text-anchor="end" fill="#3d3d3d">6</text>
<line x1="474.30" y1="317.40" x2="476.40" y2="317.40" stroke="#333" stroke-width="0.7"/>
<text x="473.40" y="320.64" font-size="9" text-anchor="end" fill="#3d3d3d">4</text>
<line x1="474.30" y1="347.20" x2="476.40" y2="347.20" stroke="#333" stroke-width="0.7"/>
<text x="473.40" y="350.44" font-size="9" text-anchor="end" fill="#3d3d3d">2</text>
<line x1="474.30" y1="376.70" x2="476.40" y2="376.70" stroke="#333" stroke-width="0.7"/>
<text x="473.40" y="379.94" font-size="9" text-anchor="end" fill="#3d3d3d">0</text>
<line x1="478.60" y1="376.90" x2="478.60" y2="379.10" stroke="#333" stroke-width="0.7"/>
<text x="478.60" y="387.04" font-size="9" text-anchor="middle" fill="#3d3d3d">−5.0</text>
<line x1="522.20" y1="376.90" x2="522.20" y2="379.10" stroke="#333" stroke-width="0.7"/>
<text x="522.20" y="387.04" font-size="9" text-anchor="middle" fill="#3d3d3d">−2.5</text>
<line x1="565.80" y1="376.90" x2="565.80" y2="379.10" stroke="#333" stroke-width="0.7"/>
<text x="565.80" y="387.04" font-size="9" text-anchor="middle" fill="#3d3d3d">0.0</text>
<line x1="609.50" y1="376.90" x2="609.50" y2="379.10" stroke="#333" stroke-width="0.7"/>
<text x="609.50" y="387.04" font-size="9" text-anchor="middle" fill="#3d3d3d">2.5</text>
<line x1="653.40" y1="376.90" x2="653.40" y2="379.10" stroke="#333" stroke-width="0.7"/>
<text x="653.40" y="387.04" font-size="9" text-anchor="middle" fill="#3d3d3d">5.0</text>
<text x="541.9" y="402.6" font-size="9.3" fill="#1a1a1a"><tspan font-family="Liberation Serif">log2</tspan>_FoldChange</text>
<text transform="translate(461.80,311.40) rotate(-90)" x="0" y="3.28" font-size="9.1" text-anchor="middle" fill="#1a1a1a">−log10_padj</text>
<text x="578.00" y="221.13" font-size="9.26" text-anchor="middle" fill="#1a1a1a">HSPCs LRMDS (n=38) vs NBM (n=7)</text>
<text x="476.80" y="238.61" font-size="9.2" text-anchor="start" fill="#1a1a1a">Up in NBM</text>
<text x="683.50" y="238.63" font-size="9.26" text-anchor="end" fill="#1a1a1a">Up in LRMDS</text>
<text x="488.00" y="304.40" font-size="6.1" text-anchor="start" fill="#2a2a2a" font-style="italic">CCR2</text>
<text x="520.70" y="304.40" font-size="6.1" text-anchor="start" fill="#2a2a2a" font-style="italic">UBTD2</text>
<text x="510.70" y="311.90" font-size="6.1" text-anchor="start" fill="#2a2a2a" font-style="italic">SPIB</text>
<text x="552.20" y="313.20" font-size="6.1" text-anchor="start" fill="#2a2a2a" font-style="italic">CRLF3</text>
<text x="492.10" y="317.90" font-size="6.1" text-anchor="start" fill="#2a2a2a" font-style="italic">RUBCNL</text>
<text x="534.20" y="318.80" font-size="6.1" text-anchor="start" fill="#2a2a2a" font-style="italic">SUOX</text>
<text x="503.70" y="324.50" font-size="6.1" text-anchor="start" fill="#2a2a2a" font-style="italic">CD24</text>
<text x="522.40" y="324.50" font-size="6.1" text-anchor="start" fill="#2a2a2a" font-style="italic">E2F2</text>
<text x="553.50" y="324.50" font-size="6.1" text-anchor="start" fill="#2a2a2a" font-style="italic">SP1</text>
<text x="478.70" y="331.00" font-size="6.1" text-anchor="start" fill="#2a2a2a" font-style="italic">CLEC4G</text>
<text x="549.60" y="294.60" font-size="6.1" text-anchor="start" fill="#2a2a2a" font-style="italic">SLC25A39</text>
<text x="561.80" y="275.40" font-size="6.1" text-anchor="start" fill="#2a2a2a" font-style="italic">DNTTIP2</text>
<text x="590.10" y="275.40" font-size="6.1" text-anchor="start" fill="#2a2a2a" font-style="italic">HSD3B7</text>
<text x="579.20" y="282.30" font-size="6.1" text-anchor="start" fill="#2a2a2a" font-style="italic">ADAMTS14</text>
<text x="614.40" y="282.30" font-size="6.1" text-anchor="start" fill="#2a2a2a" font-style="italic">TUBB2A</text>
<text x="577.30" y="289.30" font-size="6.1" text-anchor="start" fill="#2a2a2a" font-style="italic">NFKBIA</text>
<text x="607.10" y="292.40" font-size="6.1" text-anchor="start" fill="#2a2a2a" font-style="italic">BBC3</text>
<text x="581.00" y="299.10" font-size="6.1" text-anchor="start" fill="#2a2a2a" font-style="italic">IER5</text>
<text x="598.70" y="299.10" font-size="6.1" text-anchor="start" fill="#2a2a2a" font-style="italic">NEDD4L</text>
<text x="636.60" y="298.80" font-size="6.1" text-anchor="start" fill="#2a2a2a" font-style="italic">RAP1GAP</text>
<text x="571.00" y="305.20" font-size="6.1" text-anchor="start" fill="#2a2a2a" font-style="italic">DSTN</text>
<text x="606.50" y="306.40" font-size="6.1" text-anchor="start" fill="#2a2a2a" font-style="italic">HES6</text>
<text x="625.30" y="304.60" font-size="6.1" text-anchor="start" fill="#2a2a2a" font-style="italic">NCS1</text>
<text x="645.40" y="306.10" font-size="6.1" text-anchor="start" fill="#2a2a2a" font-style="italic">NMU</text>
<text x="620.20" y="311.50" font-size="6.1" text-anchor="start" fill="#2a2a2a" font-style="italic">S100A8</text>
<text x="643.90" y="311.50" font-size="6.1" text-anchor="start" fill="#2a2a2a" font-style="italic">RRAD</text>
<text x="611.50" y="316.10" font-size="6.1" text-anchor="start" fill="#2a2a2a" font-style="italic">GAL</text>
<text x="623.00" y="319.80" font-size="6.1" text-anchor="start" fill="#2a2a2a" font-style="italic">FST</text>
<text x="658.20" y="317.40" font-size="6.1" text-anchor="start" fill="#2a2a2a" font-style="italic">CD70</text>
<text x="633.90" y="322.50" font-size="6.1" text-anchor="start" fill="#2a2a2a" font-style="italic">S100A9</text>
<text x="621.10" y="327.60" font-size="6.1" text-anchor="start" fill="#2a2a2a" font-style="italic">NEU4</text>
<text x="653.10" y="327.10" font-size="6.1" text-anchor="start" fill="#2a2a2a" font-style="italic">MAFB</text>
<text x="635.70" y="332.50" font-size="6.1" text-anchor="start" fill="#2a2a2a" font-style="italic">HBG2</text>
<text x="666.80" y="332.50" font-size="6.1" text-anchor="start" fill="#2a2a2a" font-style="italic">XIRP1</text>
<text x="632.10" y="339.80" font-size="6.1" text-anchor="start" fill="#2a2a2a" font-style="italic">ARHGAP19−SLIT1</text>
<text x="647.60" y="350.80" font-size="6.1" text-anchor="start" fill="#2a2a2a" font-style="italic">HK3</text>
<text x="577.30" y="259.00" font-size="6.1" text-anchor="start" fill="#2a2a2a" font-style="italic">FARP2</text>
<text x="616.20" y="252.80" font-size="6.1" text-anchor="start" fill="#2a2a2a" font-style="italic">PTX3</text>
<text x="638.10" y="252.80" font-size="6.1" text-anchor="start" fill="#2a2a2a" font-style="italic">ERFE</text>
<line x1="596.00" y1="285.00" x2="598.50" y2="289.50" stroke="#333" stroke-width="0.5"/>
<line x1="648.00" y1="315.50" x2="655.00" y2="315.20" stroke="#333" stroke-width="0.5"/>
<line x1="637.00" y1="317.00" x2="640.00" y2="320.00" stroke="#333" stroke-width="0.5"/>
<line x1="626.00" y1="313.00" x2="630.00" y2="316.00" stroke="#333" stroke-width="0.5"/>
<text x="2.00" y="434.60" font-size="13" text-anchor="start" fill="#111">g</text>
<text x="215.20" y="453.02" font-size="8.1" text-anchor="end" fill="#262626">HALLMARK_TNFA_SIGNALING_VIA_NFKB</text>
<line x1="215.50" y1="450.10" x2="217.40" y2="450.10" stroke="#333" stroke-width="0.7"/>
<rect x="260.50" y="446.55" width="80.30" height="7.10" fill="#ec2027" stroke="none" stroke-width="0.8"/>
<text x="215.20" y="461.40" font-size="8.1" text-anchor="end" fill="#262626">HALLMARK_HEME_METABOLISM</text>
<line x1="215.50" y1="458.49" x2="217.40" y2="458.49" stroke="#333" stroke-width="0.7"/>
<rect x="260.50" y="454.94" width="44.80" height="7.10" fill="#ec2027" stroke="none" stroke-width="0.8"/>
<text x="215.20" y="469.79" font-size="8.1" text-anchor="end" fill="#262626">HALLMARK_HYPOXIA</text>
<line x1="215.50" y1="466.87" x2="217.40" y2="466.87" stroke="#333" stroke-width="0.7"/>
<rect x="260.50" y="463.32" width="40.40" height="7.10" fill="#ec2027" stroke="none" stroke-width="0.8"/>
<text x="215.20" y="478.17" font-size="8.1" text-anchor="end" fill="#262626">HALLMARK_MYC_TARGETS_V1</text>
<line x1="215.50" y1="475.25" x2="217.40" y2="475.25" stroke="#333" stroke-width="0.7"/>
<rect x="260.50" y="471.70" width="37.90" height="7.10" fill="#ec2027" stroke="none" stroke-width="0.8"/>
<text x="215.20" y="486.56" font-size="8.1" text-anchor="end" fill="#262626">HALLMARK_OXIDATIVE_PHOSPHORYLATION</text>
<line x1="215.50" y1="483.64" x2="217.40" y2="483.64" stroke="#333" stroke-width="0.7"/>
<rect x="260.50" y="480.09" width="36.90" height="7.10" fill="#ec2027" stroke="none" stroke-width="0.8"/>
<text x="215.20" y="494.94" font-size="8.1" text-anchor="end" fill="#262626">HALLMARK_UV_RESPONSE_UP</text>
<line x1="215.50" y1="492.03" x2="217.40" y2="492.03" stroke="#333" stroke-width="0.7"/>
<rect x="260.50" y="488.48" width="36.70" height="7.10" fill="#ec2027" stroke="none" stroke-width="0.8"/>
<text x="215.20" y="503.33" font-size="8.1" text-anchor="end" fill="#262626">HALLMARK_INFLAMMATORY_RESPONSE</text>
<line x1="215.50" y1="500.41" x2="217.40" y2="500.41" stroke="#333" stroke-width="0.7"/>
<rect x="260.50" y="496.86" width="36.20" height="7.10" fill="#ec2027" stroke="none" stroke-width="0.8"/>
<text x="215.20" y="511.71" font-size="8.1" text-anchor="end" fill="#262626">HALLMARK_APOPTOSIS</text>
<line x1="215.50" y1="508.80" x2="217.40" y2="508.80" stroke="#333" stroke-width="0.7"/>
<rect x="260.50" y="505.25" width="35.40" height="7.10" fill="#ec2027" stroke="none" stroke-width="0.8"/>
<text x="215.20" y="520.10" font-size="8.1" text-anchor="end" fill="#262626">HALLMARK_P53_PATHWAY</text>
<line x1="215.50" y1="517.18" x2="217.40" y2="517.18" stroke="#333" stroke-width="0.7"/>
<rect x="260.50" y="513.63" width="35.20" height="7.10" fill="#ec2027" stroke="none" stroke-width="0.8"/>
<text x="215.20" y="528.48" font-size="8.1" text-anchor="end" fill="#262626">HALLMARK_EPITHELIAL_MESENCHYMAL_TRANSITION</text>
<line x1="215.50" y1="525.57" x2="217.40" y2="525.57" stroke="#333" stroke-width="0.7"/>
<rect x="260.50" y="522.02" width="34.20" height="7.10" fill="#ec2027" stroke="none" stroke-width="0.8"/>
<text x="215.20" y="536.87" font-size="8.1" text-anchor="end" fill="#262626">HALLMARK_COMPLEMENT</text>
<line x1="215.50" y1="533.95" x2="217.40" y2="533.95" stroke="#333" stroke-width="0.7"/>
<rect x="260.50" y="530.40" width="29.90" height="7.10" fill="#ec2027" stroke="none" stroke-width="0.8"/>
<text x="215.20" y="545.25" font-size="8.1" text-anchor="end" fill="#262626">HALLMARK_ESTROGEN_RESPONSE_LATE</text>
<line x1="215.50" y1="542.34" x2="217.40" y2="542.34" stroke="#333" stroke-width="0.7"/>
<rect x="260.50" y="538.79" width="29.50" height="7.10" fill="#ec2027" stroke="none" stroke-width="0.8"/>
<text x="215.20" y="553.64" font-size="8.1" text-anchor="end" fill="#262626">HALLMARK_MYOGENESIS</text>
<line x1="215.50" y1="550.72" x2="217.40" y2="550.72" stroke="#333" stroke-width="0.7"/>
<rect x="260.50" y="547.17" width="29.20" height="7.10" fill="#ec2027" stroke="none" stroke-width="0.8"/>
<text x="215.20" y="562.02" font-size="8.1" text-anchor="end" fill="#262626">HALLMARK_ESTROGEN_RESPONSE_EARLY</text>
<line x1="215.50" y1="559.11" x2="217.40" y2="559.11" stroke="#333" stroke-width="0.7"/>
<rect x="260.50" y="555.56" width="29.00" height="7.10" fill="#ec2027" stroke="none" stroke-width="0.8"/>
<text x="215.20" y="570.41" font-size="8.1" text-anchor="end" fill="#262626">HALLMARK_IL6_JAK_STAT3_SIGNALING</text>
<line x1="215.50" y1="567.49" x2="217.40" y2="567.49" stroke="#333" stroke-width="0.7"/>
<rect x="260.50" y="563.94" width="26.20" height="7.10" fill="#e91c3e" stroke="none" stroke-width="0.8"/>
<text x="215.20" y="578.79" font-size="8.1" text-anchor="end" fill="#262626">HALLMARK_IL2_STAT5_SIGNALING</text>
<line x1="215.50" y1="575.88" x2="217.40" y2="575.88" stroke="#333" stroke-width="0.7"/>
<rect x="260.50" y="572.33" width="25.50" height="7.10" fill="#e81d45" stroke="none" stroke-width="0.8"/>
<text x="215.20" y="587.18" font-size="8.1" text-anchor="end" fill="#262626">HALLMARK_MTORC1_SIGNALING</text>
<line x1="215.50" y1="584.26" x2="217.40" y2="584.26" stroke="#333" stroke-width="0.7"/>
<rect x="260.50" y="580.71" width="23.20" height="7.10" fill="#bc1c8e" stroke="none" stroke-width="0.8"/>
<text x="215.20" y="595.56" font-size="8.1" text-anchor="end" fill="#262626">HALLMARK_XENOBIOTIC_METABOLISM</text>
<line x1="215.50" y1="592.64" x2="217.40" y2="592.64" stroke="#333" stroke-width="0.7"/>
<rect x="260.50" y="589.10" width="21.80" height="7.10" fill="#4d51a4" stroke="none" stroke-width="0.8"/>
<text x="215.20" y="603.95" font-size="8.1" text-anchor="end" fill="#262626">HALLMARK_ANGIOGENESIS</text>
<line x1="215.50" y1="601.03" x2="217.40" y2="601.03" stroke="#333" stroke-width="0.7"/>
<rect x="260.50" y="597.48" width="21.30" height="7.10" fill="#3b52a3" stroke="none" stroke-width="0.8"/>
<text x="215.20" y="612.33" font-size="8.1" text-anchor="end" fill="#262626">HALLMARK_G2M_CHECKPOINT</text>
<line x1="215.50" y1="609.41" x2="217.40" y2="609.41" stroke="#333" stroke-width="0.7"/>
<rect x="233.20" y="605.87" width="27.30" height="7.10" fill="#e5195b" stroke="none" stroke-width="0.8"/>
<text x="215.20" y="620.72" font-size="8.1" text-anchor="end" fill="#262626">HALLMARK_E2F_TARGETS</text>
<line x1="215.50" y1="617.80" x2="217.40" y2="617.80" stroke="#333" stroke-width="0.7"/>
<rect x="223.10" y="614.25" width="37.40" height="7.10" fill="#ec2027" stroke="none" stroke-width="0.8"/>
<line x1="217.40" y1="445.10" x2="217.40" y2="623.00" stroke="#333" stroke-width="0.9"/>
<line x1="217.00" y1="622.60" x2="346.70" y2="622.60" stroke="#333" stroke-width="0.9"/>
<line x1="229.60" y1="622.60" x2="229.60" y2="624.60" stroke="#333" stroke-width="0.7"/>
<text x="229.60" y="633.44" font-size="9" text-anchor="middle" fill="#3d3d3d">−2.5</text>
<line x1="260.50" y1="622.60" x2="260.50" y2="624.60" stroke="#333" stroke-width="0.7"/>
<text x="260.50" y="633.44" font-size="9" text-anchor="middle" fill="#3d3d3d">0.0</text>
<line x1="291.40" y1="622.60" x2="291.40" y2="624.60" stroke="#333" stroke-width="0.7"/>
<text x="291.40" y="633.44" font-size="9" text-anchor="middle" fill="#3d3d3d">2.5</text>
<line x1="322.30" y1="622.60" x2="322.30" y2="624.60" stroke="#333" stroke-width="0.7"/>
<text x="322.30" y="633.44" font-size="9" text-anchor="middle" fill="#3d3d3d">5.0</text>
<text x="282.10" y="641.98" font-size="9.1" text-anchor="middle" fill="#1a1a1a">NES</text>
<text x="229.00" y="442.48" font-size="9.1" text-anchor="middle" fill="#1a1a1a">NBM</text>
<text x="324.80" y="442.48" font-size="9.1" text-anchor="middle" fill="#1a1a1a">LRMDS</text>
<text x="348.00" y="511.60" font-size="8.9" text-anchor="start" fill="#1a1a1a">padj</text>
<defs><linearGradient id="padjg2" x1="0" y1="0" x2="0" y2="1">
<stop offset="0" stop-color="#41509f"/><stop offset="0.28" stop-color="#7d3a9c"/><stop offset="0.55" stop-color="#c4198c"/><stop offset="1" stop-color="#ee2026"/>
</linearGradient></defs>
<rect x="346.00" y="516.20" width="7.90" height="35.70" fill="url(#padjg2)" stroke="none" stroke-width="0.8"/>
<text x="357.20" y="526.27" font-size="8.8" text-anchor="start" fill="#333">0.03</text>
<line x1="346.00" y1="523.10" x2="347.60" y2="523.10" stroke="#fff" stroke-width="0.6"/>
<line x1="352.30" y1="523.10" x2="353.90" y2="523.10" stroke="#fff" stroke-width="0.6"/>
<text x="357.20" y="535.77" font-size="8.8" text-anchor="start" fill="#333">0.02</text>
<line x1="346.00" y1="532.60" x2="347.60" y2="532.60" stroke="#fff" stroke-width="0.6"/>
<line x1="352.30" y1="532.60" x2="353.90" y2="532.60" stroke="#fff" stroke-width="0.6"/>
<text x="357.20" y="545.57" font-size="8.8" text-anchor="start" fill="#333">0.01</text>
<line x1="346.00" y1="542.40" x2="347.60" y2="542.40" stroke="#fff" stroke-width="0.6"/>
<line x1="352.30" y1="542.40" x2="353.90" y2="542.40" stroke="#fff" stroke-width="0.6"/>
<text x="357.20" y="554.77" font-size="8.8" text-anchor="start" fill="#333">0.00</text>
<text x="378.80" y="434.60" font-size="13" text-anchor="start" fill="#111">h</text>
<text x="558.00" y="451.85" font-size="8.2" text-anchor="end" fill="#262626">HALLMARK_TNFA_SIGNALING_VIA_NFKB</text>
<line x1="558.20" y1="448.90" x2="559.30" y2="448.90" stroke="#333" stroke-width="0.7"/>
<rect x="607.30" y="445.15" width="44.70" height="7.50" fill="#ec2027" stroke="none" stroke-width="0.8"/>
<text x="558.00" y="460.77" font-size="8.2" text-anchor="end" fill="#262626">HALLMARK_IL6_JAK_STAT3_SIGNALING</text>
<line x1="558.20" y1="457.82" x2="559.30" y2="457.82" stroke="#333" stroke-width="0.7"/>
<rect x="607.30" y="454.07" width="34.50" height="7.50" fill="#ec2027" stroke="none" stroke-width="0.8"/>
<text x="558.00" y="469.69" font-size="8.2" text-anchor="end" fill="#262626">HALLMARK_APOPTOSIS</text>
<line x1="558.20" y1="466.74" x2="559.30" y2="466.74" stroke="#333" stroke-width="0.7"/>
<rect x="607.30" y="462.99" width="34.50" height="7.50" fill="#ec2027" stroke="none" stroke-width="0.8"/>
<text x="558.00" y="478.61" font-size="8.2" text-anchor="end" fill="#262626">HALLMARK_HYPOXIA</text>
<line x1="558.20" y1="475.66" x2="559.30" y2="475.66" stroke="#333" stroke-width="0.7"/>
<rect x="607.30" y="471.91" width="33.70" height="7.50" fill="#ec2027" stroke="none" stroke-width="0.8"/>
<text x="558.00" y="487.53" font-size="8.2" text-anchor="end" fill="#262626">HALLMARK_P53_PATHWAY</text>
<line x1="558.20" y1="484.58" x2="559.30" y2="484.58" stroke="#333" stroke-width="0.7"/>
<rect x="607.30" y="480.83" width="33.70" height="7.50" fill="#ec2027" stroke="none" stroke-width="0.8"/>
<text x="558.00" y="496.45" font-size="8.2" text-anchor="end" fill="#262626">HALLMARK_CHOLESTEROL_HOMEOSTASIS</text>
<line x1="558.20" y1="493.50" x2="559.30" y2="493.50" stroke="#333" stroke-width="0.7"/>
<rect x="607.30" y="489.75" width="32.40" height="7.50" fill="#e71c3d" stroke="none" stroke-width="0.8"/>
<text x="558.00" y="505.37" font-size="8.2" text-anchor="end" fill="#262626">HALLMARK_ANDROGEN_RESPONSE</text>
<line x1="558.20" y1="502.42" x2="559.30" y2="502.42" stroke="#333" stroke-width="0.7"/>
<rect x="607.30" y="498.67" width="31.60" height="7.50" fill="#e91d35" stroke="none" stroke-width="0.8"/>
<text x="558.00" y="514.29" font-size="8.2" text-anchor="end" fill="#262626">HALLMARK_INFLAMMATORY_RESPONSE</text>
<line x1="558.20" y1="511.34" x2="559.30" y2="511.34" stroke="#333" stroke-width="0.7"/>
<rect x="607.30" y="507.59" width="31.60" height="7.50" fill="#ec2027" stroke="none" stroke-width="0.8"/>
<text x="558.00" y="523.21" font-size="8.2" text-anchor="end" fill="#262626">HALLMARK_UV_RESPONSE_DN</text>
<line x1="558.20" y1="520.26" x2="559.30" y2="520.26" stroke="#333" stroke-width="0.7"/>
<rect x="607.30" y="516.51" width="30.20" height="7.50" fill="#ea1e30" stroke="none" stroke-width="0.8"/>
<text x="558.00" y="532.13" font-size="8.2" text-anchor="end" fill="#262626">HALLMARK_TGF_BETA_SIGNALING</text>
<line x1="558.20" y1="529.18" x2="559.30" y2="529.18" stroke="#333" stroke-width="0.7"/>
<rect x="607.30" y="525.43" width="30.20" height="7.50" fill="#3c51a3" stroke="none" stroke-width="0.8"/>
<text x="558.00" y="541.05" font-size="8.2" text-anchor="end" fill="#262626">HALLMARK_MITOTIC_SPINDLE</text>
<line x1="558.20" y1="538.10" x2="559.30" y2="538.10" stroke="#333" stroke-width="0.7"/>
<rect x="607.30" y="534.35" width="29.70" height="7.50" fill="#ec2027" stroke="none" stroke-width="0.8"/>
<text x="558.00" y="549.97" font-size="8.2" text-anchor="end" fill="#262626">HALLMARK_IL2_STAT5_SIGNALING</text>
<line x1="558.20" y1="547.02" x2="559.30" y2="547.02" stroke="#333" stroke-width="0.7"/>
<rect x="607.30" y="543.27" width="29.70" height="7.50" fill="#ec2027" stroke="none" stroke-width="0.8"/>
<text x="558.00" y="558.89" font-size="8.2" text-anchor="end" fill="#262626">HALLMARK_KRAS_SIGNALING_UP</text>
<line x1="558.20" y1="555.94" x2="559.30" y2="555.94" stroke="#333" stroke-width="0.7"/>
<rect x="607.30" y="552.19" width="26.90" height="7.50" fill="#a8309a" stroke="none" stroke-width="0.8"/>
<text x="558.00" y="567.81" font-size="8.2" text-anchor="end" fill="#262626">HALLMARK_GLYCOLYSIS</text>
<line x1="558.20" y1="564.86" x2="559.30" y2="564.86" stroke="#333" stroke-width="0.7"/>
<rect x="581.30" y="561.11" width="26.00" height="7.50" fill="#3c51a3" stroke="none" stroke-width="0.8"/>
<text x="558.00" y="576.73" font-size="8.2" text-anchor="end" fill="#262626">HALLMARK_FATTY_ACID_METABOLISM</text>
<line x1="558.20" y1="573.78" x2="559.30" y2="573.78" stroke="#333" stroke-width="0.7"/>
<rect x="579.80" y="570.03" width="27.50" height="7.50" fill="#a8309a" stroke="none" stroke-width="0.8"/>
<text x="558.00" y="585.65" font-size="8.2" text-anchor="end" fill="#262626">HALLMARK_OXIDATIVE_PHOSPHORYLATION</text>
<line x1="558.20" y1="582.70" x2="559.30" y2="582.70" stroke="#333" stroke-width="0.7"/>
<rect x="578.50" y="578.95" width="28.80" height="7.50" fill="#eb1f2f" stroke="none" stroke-width="0.8"/>
<text x="558.00" y="594.57" font-size="8.2" text-anchor="end" fill="#262626">HALLMARK_G2M_CHECKPOINT</text>
<line x1="558.20" y1="591.62" x2="559.30" y2="591.62" stroke="#333" stroke-width="0.7"/>
<rect x="577.50" y="587.87" width="29.80" height="7.50" fill="#ec2027" stroke="none" stroke-width="0.8"/>
<text x="558.00" y="603.49" font-size="8.2" text-anchor="end" fill="#262626">HALLMARK_MYC_TARGETS_V1</text>
<line x1="558.20" y1="600.54" x2="559.30" y2="600.54" stroke="#333" stroke-width="0.7"/>
<rect x="572.80" y="596.79" width="34.50" height="7.50" fill="#ec2027" stroke="none" stroke-width="0.8"/>
<text x="558.00" y="612.41" font-size="8.2" text-anchor="end" fill="#262626">HALLMARK_MYC_TARGETS_V2</text>
<line x1="558.20" y1="609.46" x2="559.30" y2="609.46" stroke="#333" stroke-width="0.7"/>
<rect x="564.80" y="605.71" width="42.50" height="7.50" fill="#ec2027" stroke="none" stroke-width="0.8"/>
<text x="558.00" y="621.33" font-size="8.2" text-anchor="end" fill="#262626">HALLMARK_E2F_TARGETS</text>
<line x1="558.20" y1="618.38" x2="559.30" y2="618.38" stroke="#333" stroke-width="0.7"/>
<rect x="563.70" y="614.63" width="43.60" height="7.50" fill="#ec2027" stroke="none" stroke-width="0.8"/>
<line x1="559.30" y1="444.50" x2="559.30" y2="623.50" stroke="#333" stroke-width="0.9"/>
<line x1="558.90" y1="623.10" x2="656.00" y2="623.10" stroke="#333" stroke-width="0.9"/>
<line x1="568.30" y1="623.10" x2="568.30" y2="625.10" stroke="#333" stroke-width="0.7"/>
<text x="568.30" y="632.84" font-size="9" text-anchor="middle" fill="#3d3d3d">−2</text>
<line x1="587.80" y1="623.10" x2="587.80" y2="625.10" stroke="#333" stroke-width="0.7"/>
<text x="587.80" y="632.84" font-size="9" text-anchor="middle" fill="#3d3d3d">−1</text>
<line x1="607.30" y1="623.10" x2="607.30" y2="625.10" stroke="#333" stroke-width="0.7"/>
<text x="607.30" y="632.84" font-size="9" text-anchor="middle" fill="#3d3d3d">0</text>
<line x1="626.80" y1="623.10" x2="626.80" y2="625.10" stroke="#333" stroke-width="0.7"/>
<text x="626.80" y="632.84" font-size="9" text-anchor="middle" fill="#3d3d3d">1</text>
<line x1="646.30" y1="623.10" x2="646.30" y2="625.10" stroke="#333" stroke-width="0.7"/>
<text x="646.30" y="632.84" font-size="9" text-anchor="middle" fill="#3d3d3d">2</text>
<text x="609.90" y="641.78" font-size="9.1" text-anchor="middle" fill="#1a1a1a">NES</text>
<text x="609.20" y="430.01" font-size="9.2" text-anchor="middle" fill="#1a1a1a">HSPCs in LRMDS</text>
<text x="540.90" y="440.72" font-size="9.5" text-anchor="start" fill="#1a1a1a">iBMSC Score</text>
<text x="598.60" y="436.59" font-size="4.7" text-anchor="start" fill="#1a1a1a">low</text>
<text x="607.60" y="440.72" font-size="9.5" text-anchor="start" fill="#1a1a1a">iBMSC Score</text>
<text x="664.50" y="436.59" font-size="4.7" text-anchor="start" fill="#1a1a1a">high</text>
<line x1="371.90" y1="448.20" x2="389.90" y2="448.20" stroke="#e8141c" stroke-width="2.5"/>
<path d="M388.7,445.2 L392.9,448.2 L388.7,451.2Z" fill="#e8141c" stroke="none" stroke-width="1"/>
<line x1="375.40" y1="457.12" x2="393.40" y2="457.12" stroke="#e8141c" stroke-width="2.5"/>
<path d="M392.2,454.1 L396.4,457.1 L392.2,460.1Z" fill="#e8141c" stroke="none" stroke-width="1"/>
<line x1="440.20" y1="466.04" x2="457.70" y2="466.04" stroke="#e8141c" stroke-width="2.5"/>
<path d="M456.5,463.0 L460.7,466.0 L456.5,469.0Z" fill="#e8141c" stroke="none" stroke-width="1"/>
<line x1="426.70" y1="483.88" x2="444.20" y2="483.88" stroke="#e8141c" stroke-width="2.5"/>
<path d="M443.0,480.9 L447.2,483.9 L443.0,486.9Z" fill="#e8141c" stroke="none" stroke-width="1"/>
<line x1="357.60" y1="582.00" x2="375.80" y2="582.00" stroke="#e8141c" stroke-width="2.5"/>
<path d="M374.6,579.0 L378.8,582.0 L374.6,585.0Z" fill="#e8141c" stroke="none" stroke-width="1"/>
<line x1="430.60" y1="617.68" x2="447.80" y2="617.68" stroke="#e8141c" stroke-width="2.5"/>
<path d="M446.6,614.7 L450.8,617.7 L446.6,620.7Z" fill="#e8141c" stroke="none" stroke-width="1"/>
<text x="657.50" y="513.00" font-size="8.9" text-anchor="start" fill="#1a1a1a">padj</text>
<rect x="656.10" y="514.60" width="7.60" height="36.60" fill="url(#padjg2)" stroke="none" stroke-width="0.8"/>
<text x="664.50" y="525.77" font-size="8.8" text-anchor="start" fill="#333">0.03</text>
<line x1="656.10" y1="522.60" x2="657.70" y2="522.60" stroke="#fff" stroke-width="0.6"/>
<line x1="662.10" y1="522.60" x2="663.70" y2="522.60" stroke="#fff" stroke-width="0.6"/>
<text x="664.50" y="534.77" font-size="8.8" text-anchor="start" fill="#333">0.02</text>
<line x1="656.10" y1="531.60" x2="657.70" y2="531.60" stroke="#fff" stroke-width="0.6"/>
<line x1="662.10" y1="531.60" x2="663.70" y2="531.60" stroke="#fff" stroke-width="0.6"/>
<text x="664.50" y="543.77" font-size="8.8" text-anchor="start" fill="#333">0.01</text>
<line x1="656.10" y1="540.60" x2="657.70" y2="540.60" stroke="#fff" stroke-width="0.6"/>
<line x1="662.10" y1="540.60" x2="663.70" y2="540.60" stroke="#fff" stroke-width="0.6"/>
<text x="664.50" y="552.67" font-size="8.8" text-anchor="start" fill="#333">0.00</text>
<text x="3.20" y="639.50" font-size="13" text-anchor="start" fill="#111">i</text>
<rect x="66.20" y="665.40" width="152.60" height="93.20" fill="#fff" stroke="none" stroke-width="0.8"/>
<line x1="69.67" y1="665.40" x2="69.67" y2="758.60" stroke="#f4f4f4" stroke-width="0.6"/>
<line x1="104.35" y1="665.40" x2="104.35" y2="758.60" stroke="#f4f4f4" stroke-width="0.6"/>
<line x1="139.03" y1="665.40" x2="139.03" y2="758.60" stroke="#f4f4f4" stroke-width="0.6"/>
<line x1="173.71" y1="665.40" x2="173.71" y2="758.60" stroke="#f4f4f4" stroke-width="0.6"/>
<line x1="208.40" y1="665.40" x2="208.40" y2="758.60" stroke="#f4f4f4" stroke-width="0.6"/>
<line x1="66.20" y1="667.10" x2="218.80" y2="667.10" stroke="#f4f4f4" stroke-width="0.6"/>
<line x1="66.20" y1="694.10" x2="218.80" y2="694.10" stroke="#f4f4f4" stroke-width="0.6"/>
<line x1="66.20" y1="721.10" x2="218.80" y2="721.10" stroke="#f4f4f4" stroke-width="0.6"/>
<line x1="66.20" y1="748.00" x2="218.80" y2="748.00" stroke="#f4f4f4" stroke-width="0.6"/>
<line x1="87.01" y1="665.40" x2="87.01" y2="758.60" stroke="#e6e6e6" stroke-width="0.9"/>
<line x1="121.69" y1="665.40" x2="121.69" y2="758.60" stroke="#e6e6e6" stroke-width="0.9"/>
<line x1="156.37" y1="665.40" x2="156.37" y2="758.60" stroke="#e6e6e6" stroke-width="0.9"/>
<line x1="191.05" y1="665.40" x2="191.05" y2="758.60" stroke="#e6e6e6" stroke-width="0.9"/>
<line x1="66.20" y1="680.60" x2="218.80" y2="680.60" stroke="#e6e6e6" stroke-width="0.9"/>
<line x1="66.20" y1="707.60" x2="218.80" y2="707.60" stroke="#e6e6e6" stroke-width="0.9"/>
<line x1="66.20" y1="734.50" x2="218.80" y2="734.50" stroke="#e6e6e6" stroke-width="0.9"/>
<path d="M72.9 741.9h0M111.6 736.9h0M115.1 741.1h0M120.8 747.6h0M122.0 693.5h0M125.7 725.7h0M127.5 741.9h0M136.2 718.3h0M137.7 685.3h0M137.7 702.2h0M139.4 740.6h0M141.1 688.0h0M142.6 686.0h0M143.6 707.9h0M143.9 742.6h0M150.6 705.4h0M152.5 718.8h0M155.3 721.3h0M159.2 669.9h0M160.5 705.9h0M161.0 692.7h0M168.4 715.1h0M169.2 716.6h0M171.7 692.7h0M183.3 669.9h0M184.1 676.6h0M184.1 712.6h0M184.1 739.4h0M186.5 677.3h0M186.5 712.6h0M186.5 696.7h0M189.5 683.5h0M194.5 725.7h0M196.5 713.3h0M203.2 693.5h0M204.4 725.0h0M211.9 699.7h0M211.9 704.1h0" stroke="#8b1a1a" stroke-width="2.60" stroke-linecap="round" fill="none"/>
<path d="M72.9,714.6 L104.6,712.1 L141.9,707.9 L166.7,700.9 L189.0,692.2 L211.9,681.8 L211.9,708.4 L194.0,710.8 L179.1,712.6 L154.3,717.1 L129.5,727.0 L104.6,740.6 L72.9,755.0Z" fill="#999999" stroke="none" stroke-width="1" fill-opacity="0.4"/>
<line x1="72.87" y1="734.92" x2="211.86" y2="694.22" stroke="#000" stroke-width="1.1"/>
<rect x="66.20" y="665.40" width="152.60" height="93.20" fill="none" stroke="#666" stroke-width="1.0"/>
<line x1="87.01" y1="758.60" x2="87.01" y2="760.60" stroke="#333" stroke-width="0.7"/>
<text x="87.01" y="766.70" font-size="6.4" text-anchor="middle" fill="#5b5068">1.00</text>
<line x1="121.69" y1="758.60" x2="121.69" y2="760.60" stroke="#333" stroke-width="0.7"/>
<text x="121.69" y="766.70" font-size="6.4" text-anchor="middle" fill="#5b5068">1.25</text>
<line x1="156.37" y1="758.60" x2="156.37" y2="760.60" stroke="#333" stroke-width="0.7"/>
<text x="156.37" y="766.70" font-size="6.4" text-anchor="middle" fill="#5b5068">1.50</text>
<line x1="191.05" y1="758.60" x2="191.05" y2="760.60" stroke="#333" stroke-width="0.7"/>
<text x="191.05" y="766.70" font-size="6.4" text-anchor="middle" fill="#5b5068">1.75</text>
<line x1="64.20" y1="680.60" x2="66.20" y2="680.60" stroke="#333" stroke-width="0.7"/>
<text x="63.60" y="683.01" font-size="6.7" text-anchor="end" fill="#5b5068">0.4</text>
<line x1="64.20" y1="707.60" x2="66.20" y2="707.60" stroke="#333" stroke-width="0.7"/>
<text x="63.60" y="710.01" font-size="6.7" text-anchor="end" fill="#5b5068">0.0</text>
<line x1="64.20" y1="734.50" x2="66.20" y2="734.50" stroke="#333" stroke-width="0.7"/>
<text x="63.60" y="736.91" font-size="6.7" text-anchor="end" fill="#5b5068">-0.4</text>
<text x="75.40" y="678.25" font-size="9.3" text-anchor="start" fill="#1a1a1a">r: 0.378</text>
<text x="75.40" y="686.91" font-size="9.2" text-anchor="start" fill="#1a1a1a">pval: 0.02</text>
<text transform="translate(29.80,712.00) rotate(-90)" x="0" y="3.33" font-size="9.25" text-anchor="middle" fill="#1a1a1a">TNFα signaling via NFkB in HSPCs</text>
<text transform="translate(43.00,712.00) rotate(-90)" x="0" y="3.32" font-size="9.22" text-anchor="middle" fill="#1a1a1a">(Enrichment score)</text>
<rect x="279.10" y="665.40" width="151.70" height="93.20" fill="#fff" stroke="none" stroke-width="0.8"/>
<line x1="282.55" y1="665.40" x2="282.55" y2="758.60" stroke="#f4f4f4" stroke-width="0.6"/>
<line x1="317.03" y1="665.40" x2="317.03" y2="758.60" stroke="#f4f4f4" stroke-width="0.6"/>
<line x1="351.50" y1="665.40" x2="351.50" y2="758.60" stroke="#f4f4f4" stroke-width="0.6"/>
<line x1="385.98" y1="665.40" x2="385.98" y2="758.60" stroke="#f4f4f4" stroke-width="0.6"/>
<line x1="420.46" y1="665.40" x2="420.46" y2="758.60" stroke="#f4f4f4" stroke-width="0.6"/>
<line x1="279.10" y1="674.45" x2="430.80" y2="674.45" stroke="#f4f4f4" stroke-width="0.6"/>
<line x1="279.10" y1="706.55" x2="430.80" y2="706.55" stroke="#f4f4f4" stroke-width="0.6"/>
<line x1="279.10" y1="738.65" x2="430.80" y2="738.65" stroke="#f4f4f4" stroke-width="0.6"/>
<line x1="299.79" y1="665.40" x2="299.79" y2="758.60" stroke="#e6e6e6" stroke-width="0.9"/>
<line x1="334.26" y1="665.40" x2="334.26" y2="758.60" stroke="#e6e6e6" stroke-width="0.9"/>
<line x1="368.74" y1="665.40" x2="368.74" y2="758.60" stroke="#e6e6e6" stroke-width="0.9"/>
<line x1="403.22" y1="665.40" x2="403.22" y2="758.60" stroke="#e6e6e6" stroke-width="0.9"/>
<line x1="279.10" y1="690.50" x2="430.80" y2="690.50" stroke="#e6e6e6" stroke-width="0.9"/>
<line x1="279.10" y1="722.60" x2="430.80" y2="722.60" stroke="#e6e6e6" stroke-width="0.9"/>
<line x1="279.10" y1="754.70" x2="430.80" y2="754.70" stroke="#e6e6e6" stroke-width="0.9"/>
<path d="M286.1 746.3h0M324.1 742.1h0M333.3 740.6h0M327.3 710.3h0M335.2 730.0h0M338.2 725.0h0M339.5 738.6h0M348.6 717.1h0M349.4 714.1h0M350.6 693.0h0M351.4 721.5h0M354.4 696.7h0M355.6 710.8h0M356.3 716.6h0M356.8 733.9h0M363.5 734.9h0M365.3 725.5h0M367.5 691.0h0M371.2 715.8h0M373.2 708.4h0M373.5 715.3h0M381.7 720.0h0M381.7 712.1h0M384.1 714.1h0M396.0 707.9h0M396.5 715.1h0M396.5 717.5h0M396.5 722.5h0M398.5 672.9h0M399.0 691.2h0M399.0 705.9h0M402.3 722.5h0M406.5 699.9h0M408.2 726.0h0M415.2 671.9h0M417.4 670.4h0M423.8 722.0h0M424.3 737.2h0" stroke="#8b1a1a" stroke-width="2.60" stroke-linecap="round" fill="none"/>
<path d="M286.1,722.5 L314.6,719.0 L339.5,714.6 L364.3,710.1 L389.1,703.4 L406.5,697.2 L423.8,689.7 L423.8,710.8 L396.5,711.6 L376.7,715.8 L359.3,720.0 L339.5,727.0 L314.6,740.6 L286.1,754.3Z" fill="#999999" stroke="none" stroke-width="1" fill-opacity="0.4"/>
<line x1="286.10" y1="738.89" x2="423.85" y2="700.42" stroke="#000" stroke-width="1.1"/>
<rect x="279.10" y="665.40" width="151.70" height="93.20" fill="none" stroke="#666" stroke-width="1.0"/>
<line x1="299.79" y1="758.60" x2="299.79" y2="760.60" stroke="#333" stroke-width="0.7"/>
<text x="299.79" y="766.70" font-size="6.4" text-anchor="middle" fill="#5b5068">1.00</text>
<line x1="334.26" y1="758.60" x2="334.26" y2="760.60" stroke="#333" stroke-width="0.7"/>
<text x="334.26" y="766.70" font-size="6.4" text-anchor="middle" fill="#5b5068">1.25</text>
<line x1="368.74" y1="758.60" x2="368.74" y2="760.60" stroke="#333" stroke-width="0.7"/>
<text x="368.74" y="766.70" font-size="6.4" text-anchor="middle" fill="#5b5068">1.50</text>
<line x1="403.22" y1="758.60" x2="403.22" y2="760.60" stroke="#333" stroke-width="0.7"/>
<text x="403.22" y="766.70" font-size="6.4" text-anchor="middle" fill="#5b5068">1.75</text>
<line x1="277.10" y1="690.50" x2="279.10" y2="690.50" stroke="#333" stroke-width="0.7"/>
<text x="276.50" y="692.91" font-size="6.7" text-anchor="end" fill="#5b5068">40000</text>
<line x1="277.10" y1="722.60" x2="279.10" y2="722.60" stroke="#333" stroke-width="0.7"/>
<text x="276.50" y="725.01" font-size="6.7" text-anchor="end" fill="#5b5068">20000</text>
<line x1="277.10" y1="754.70" x2="279.10" y2="754.70" stroke="#333" stroke-width="0.7"/>
<text x="276.50" y="757.11" font-size="6.7" text-anchor="end" fill="#5b5068">0</text>
<text x="293.50" y="678.35" font-size="9.3" text-anchor="start" fill="#1a1a1a">r: 0.375</text>
<text x="293.50" y="687.01" font-size="9.2" text-anchor="start" fill="#1a1a1a">pval: 0.021</text>
<text transform="translate(234.00,712.00) rotate(-90)" x="0" y="3.33" font-size="9.25" text-anchor="middle" fill="#1a1a1a"><tspan font-style="italic">NFKBIA</tspan> in HSPCs</text>
<text transform="translate(247.20,712.00) rotate(-90)" x="0" y="3.32" font-size="9.22" text-anchor="middle" fill="#1a1a1a">(Normalized counts)</text>
<rect x="496.20" y="665.40" width="152.60" height="93.20" fill="#fff" stroke="none" stroke-width="0.8"/>
<line x1="499.67" y1="665.40" x2="499.67" y2="758.60" stroke="#f4f4f4" stroke-width="0.6"/>
<line x1="534.35" y1="665.40" x2="534.35" y2="758.60" stroke="#f4f4f4" stroke-width="0.6"/>
<line x1="569.03" y1="665.40" x2="569.03" y2="758.60" stroke="#f4f4f4" stroke-width="0.6"/>
<line x1="603.71" y1="665.40" x2="603.71" y2="758.60" stroke="#f4f4f4" stroke-width="0.6"/>
<line x1="638.40" y1="665.40" x2="638.40" y2="758.60" stroke="#f4f4f4" stroke-width="0.6"/>
<line x1="496.20" y1="671.40" x2="648.80" y2="671.40" stroke="#f4f4f4" stroke-width="0.6"/>
<line x1="496.20" y1="685.80" x2="648.80" y2="685.80" stroke="#f4f4f4" stroke-width="0.6"/>
<line x1="496.20" y1="700.20" x2="648.80" y2="700.20" stroke="#f4f4f4" stroke-width="0.6"/>
<line x1="496.20" y1="714.60" x2="648.80" y2="714.60" stroke="#f4f4f4" stroke-width="0.6"/>
<line x1="496.20" y1="728.80" x2="648.80" y2="728.80" stroke="#f4f4f4" stroke-width="0.6"/>
<line x1="496.20" y1="743.30" x2="648.80" y2="743.30" stroke="#f4f4f4" stroke-width="0.6"/>
<line x1="496.20" y1="757.70" x2="648.80" y2="757.70" stroke="#f4f4f4" stroke-width="0.6"/>
<line x1="517.01" y1="665.40" x2="517.01" y2="758.60" stroke="#e6e6e6" stroke-width="0.9"/>
<line x1="551.69" y1="665.40" x2="551.69" y2="758.60" stroke="#e6e6e6" stroke-width="0.9"/>
<line x1="586.37" y1="665.40" x2="586.37" y2="758.60" stroke="#e6e6e6" stroke-width="0.9"/>
<line x1="621.05" y1="665.40" x2="621.05" y2="758.60" stroke="#e6e6e6" stroke-width="0.9"/>
<line x1="496.20" y1="678.60" x2="648.80" y2="678.60" stroke="#e6e6e6" stroke-width="0.9"/>
<line x1="496.20" y1="693.00" x2="648.80" y2="693.00" stroke="#e6e6e6" stroke-width="0.9"/>
<line x1="496.20" y1="707.40" x2="648.80" y2="707.40" stroke="#e6e6e6" stroke-width="0.9"/>
<line x1="496.20" y1="721.60" x2="648.80" y2="721.60" stroke="#e6e6e6" stroke-width="0.9"/>
<line x1="496.20" y1="736.10" x2="648.80" y2="736.10" stroke="#e6e6e6" stroke-width="0.9"/>
<line x1="496.20" y1="750.50" x2="648.80" y2="750.50" stroke="#e6e6e6" stroke-width="0.9"/>
<path d="M502.9 733.7h0M541.6 733.4h0M544.6 731.9h0M551.3 734.9h0M552.0 730.7h0M555.7 733.9h0M557.0 729.5h0M566.2 722.8h0M566.9 727.0h0M568.1 729.0h0M569.4 729.5h0M570.6 725.7h0M571.9 725.0h0M573.1 727.0h0M574.4 734.4h0M580.6 730.0h0M583.0 730.7h0M585.5 727.7h0M589.2 669.9h0M590.5 723.8h0M591.0 729.0h0M598.7 689.3h0M599.7 717.1h0M601.7 711.3h0M613.8 702.9h0M614.1 697.2h0M614.1 729.0h0M614.6 721.5h0M616.5 698.4h0M616.5 709.1h0M616.5 718.3h0M620.5 721.3h0M624.5 720.0h0M626.5 718.8h0M633.2 710.1h0M634.7 710.8h0M641.9 697.2h0M642.6 699.7h0" stroke="#8b1a1a" stroke-width="2.60" stroke-linecap="round" fill="none"/>
<path d="M502.9,729.5 L534.6,727.0 L566.9,721.5 L591.7,714.6 L616.5,705.9 L641.9,697.7 L641.9,712.6 L616.5,715.8 L591.7,721.5 L566.9,729.5 L534.6,740.6 L502.9,754.8Z" fill="#999999" stroke="none" stroke-width="1" fill-opacity="0.4"/>
<line x1="502.87" y1="742.61" x2="641.86" y2="704.64" stroke="#000" stroke-width="1.1"/>
<rect x="496.20" y="665.40" width="152.60" height="93.20" fill="none" stroke="#666" stroke-width="1.0"/>
<line x1="517.01" y1="758.60" x2="517.01" y2="760.60" stroke="#333" stroke-width="0.7"/>
<text x="517.01" y="766.70" font-size="6.4" text-anchor="middle" fill="#5b5068">1.00</text>
<line x1="551.69" y1="758.60" x2="551.69" y2="760.60" stroke="#333" stroke-width="0.7"/>
<text x="551.69" y="766.70" font-size="6.4" text-anchor="middle" fill="#5b5068">1.25</text>
<line x1="586.37" y1="758.60" x2="586.37" y2="760.60" stroke="#333" stroke-width="0.7"/>
<text x="586.37" y="766.70" font-size="6.4" text-anchor="middle" fill="#5b5068">1.50</text>
<line x1="621.05" y1="758.60" x2="621.05" y2="760.60" stroke="#333" stroke-width="0.7"/>
<text x="621.05" y="766.70" font-size="6.4" text-anchor="middle" fill="#5b5068">1.75</text>
<line x1="494.20" y1="678.60" x2="496.20" y2="678.60" stroke="#333" stroke-width="0.7"/>
<text x="493.60" y="681.01" font-size="6.7" text-anchor="end" fill="#5b5068">4000</text>
<line x1="494.20" y1="693.00" x2="496.20" y2="693.00" stroke="#333" stroke-width="0.7"/>
<text x="493.60" y="695.41" font-size="6.7" text-anchor="end" fill="#5b5068">3000</text>
<line x1="494.20" y1="707.40" x2="496.20" y2="707.40" stroke="#333" stroke-width="0.7"/>
<text x="493.60" y="709.81" font-size="6.7" text-anchor="end" fill="#5b5068">2000</text>
<line x1="494.20" y1="721.60" x2="496.20" y2="721.60" stroke="#333" stroke-width="0.7"/>
<text x="493.60" y="724.01" font-size="6.7" text-anchor="end" fill="#5b5068">1000</text>
<line x1="494.20" y1="736.10" x2="496.20" y2="736.10" stroke="#333" stroke-width="0.7"/>
<text x="493.60" y="738.51" font-size="6.7" text-anchor="end" fill="#5b5068">0</text>
<line x1="494.20" y1="750.50" x2="496.20" y2="750.50" stroke="#333" stroke-width="0.7"/>
<text x="493.60" y="752.91" font-size="6.7" text-anchor="end" fill="#5b5068">-1000</text>
<text x="506.80" y="678.35" font-size="9.3" text-anchor="start" fill="#1a1a1a">r: 0.774</text>
<text x="506.80" y="687.01" font-size="9.2" text-anchor="start" fill="#1a1a1a">pval: &lt;0.0001</text>
<text transform="translate(449.00,712.00) rotate(-90)" x="0" y="3.33" font-size="9.25" text-anchor="middle" fill="#1a1a1a"><tspan font-style="italic">RELB</tspan> in HSPCs</text>
<text transform="translate(462.20,712.00) rotate(-90)" x="0" y="3.32" font-size="9.22" text-anchor="middle" fill="#1a1a1a">(Normalized counts)</text>
<rect x="68.70" y="798.20" width="148.90" height="93.40" fill="#fff" stroke="none" stroke-width="0.8"/>
<line x1="72.08" y1="798.20" x2="72.08" y2="891.60" stroke="#f4f4f4" stroke-width="0.6"/>
<line x1="105.92" y1="798.20" x2="105.92" y2="891.60" stroke="#f4f4f4" stroke-width="0.6"/>
<line x1="139.77" y1="798.20" x2="139.77" y2="891.60" stroke="#f4f4f4" stroke-width="0.6"/>
<line x1="173.61" y1="798.20" x2="173.61" y2="891.60" stroke="#f4f4f4" stroke-width="0.6"/>
<line x1="207.45" y1="798.20" x2="207.45" y2="891.60" stroke="#f4f4f4" stroke-width="0.6"/>
<line x1="68.70" y1="801.40" x2="217.60" y2="801.40" stroke="#f4f4f4" stroke-width="0.6"/>
<line x1="68.70" y1="825.80" x2="217.60" y2="825.80" stroke="#f4f4f4" stroke-width="0.6"/>
<line x1="68.70" y1="850.20" x2="217.60" y2="850.20" stroke="#f4f4f4" stroke-width="0.6"/>
<line x1="68.70" y1="874.60" x2="217.60" y2="874.60" stroke="#f4f4f4" stroke-width="0.6"/>
<line x1="89.00" y1="798.20" x2="89.00" y2="891.60" stroke="#e6e6e6" stroke-width="0.9"/>
<line x1="122.85" y1="798.20" x2="122.85" y2="891.60" stroke="#e6e6e6" stroke-width="0.9"/>
<line x1="156.69" y1="798.20" x2="156.69" y2="891.60" stroke="#e6e6e6" stroke-width="0.9"/>
<line x1="190.53" y1="798.20" x2="190.53" y2="891.60" stroke="#e6e6e6" stroke-width="0.9"/>
<line x1="68.70" y1="813.60" x2="217.60" y2="813.60" stroke="#e6e6e6" stroke-width="0.9"/>
<line x1="68.70" y1="838.00" x2="217.60" y2="838.00" stroke="#e6e6e6" stroke-width="0.9"/>
<line x1="68.70" y1="862.40" x2="217.60" y2="862.40" stroke="#e6e6e6" stroke-width="0.9"/>
<line x1="68.70" y1="886.80" x2="217.60" y2="886.80" stroke="#e6e6e6" stroke-width="0.9"/>
<path d="M75.4 876.9h0M112.6 867.4h0M116.3 865.2h0M121.5 874.9h0M123.8 868.2h0M126.5 865.7h0M128.2 871.2h0M137.4 860.0h0M138.1 850.3h0M138.6 860.0h0M140.1 864.5h0M141.9 854.5h0M143.1 854.0h0M143.6 866.9h0M144.8 870.7h0M151.3 866.4h0M153.0 863.7h0M155.5 855.8h0M158.7 868.2h0M160.5 862.5h0M161.2 862.7h0M168.7 850.1h0M169.2 858.8h0M171.7 860.7h0M183.3 802.4h0M183.6 835.9h0M184.1 855.0h0M184.1 862.0h0M185.8 822.5h0M185.8 838.9h0M186.5 855.0h0M189.5 860.0h0M193.5 866.9h0M195.5 848.8h0M201.9 848.8h0M203.7 860.5h0M210.4 861.5h0M211.1 868.7h0" stroke="#8b1a1a" stroke-width="2.60" stroke-linecap="round" fill="none"/>
<path d="M75.4,862.5 L104.6,862.0 L136.9,857.0 L166.7,852.8 L186.5,849.1 L210.9,839.6 L210.9,855.8 L179.1,857.0 L154.3,860.2 L129.5,866.9 L104.6,875.6 L75.4,886.8Z" fill="#999999" stroke="none" stroke-width="1" fill-opacity="0.4"/>
<line x1="75.35" y1="875.63" x2="210.87" y2="847.83" stroke="#000" stroke-width="1.1"/>
<rect x="68.70" y="798.20" width="148.90" height="93.40" fill="none" stroke="#666" stroke-width="1.0"/>
<line x1="89.00" y1="891.60" x2="89.00" y2="893.60" stroke="#333" stroke-width="0.7"/>
<text x="89.00" y="899.70" font-size="6.4" text-anchor="middle" fill="#5b5068">1.00</text>
<line x1="122.85" y1="891.60" x2="122.85" y2="893.60" stroke="#333" stroke-width="0.7"/>
<text x="122.85" y="899.70" font-size="6.4" text-anchor="middle" fill="#5b5068">1.25</text>
<line x1="156.69" y1="891.60" x2="156.69" y2="893.60" stroke="#333" stroke-width="0.7"/>
<text x="156.69" y="899.70" font-size="6.4" text-anchor="middle" fill="#5b5068">1.50</text>
<line x1="190.53" y1="891.60" x2="190.53" y2="893.60" stroke="#333" stroke-width="0.7"/>
<text x="190.53" y="899.70" font-size="6.4" text-anchor="middle" fill="#5b5068">1.75</text>
<line x1="66.70" y1="813.60" x2="68.70" y2="813.60" stroke="#333" stroke-width="0.7"/>
<text x="66.10" y="816.01" font-size="6.7" text-anchor="end" fill="#5b5068">7500</text>
<line x1="66.70" y1="838.00" x2="68.70" y2="838.00" stroke="#333" stroke-width="0.7"/>
<text x="66.10" y="840.41" font-size="6.7" text-anchor="end" fill="#5b5068">5000</text>
<line x1="66.70" y1="862.40" x2="68.70" y2="862.40" stroke="#333" stroke-width="0.7"/>
<text x="66.10" y="864.81" font-size="6.7" text-anchor="end" fill="#5b5068">2500</text>
<line x1="66.70" y1="886.80" x2="68.70" y2="886.80" stroke="#333" stroke-width="0.7"/>
<text x="66.10" y="889.21" font-size="6.7" text-anchor="end" fill="#5b5068">0</text>
<text x="75.40" y="815.15" font-size="9.3" text-anchor="start" fill="#1a1a1a">r: 0.46</text>
<text x="75.40" y="823.81" font-size="9.2" text-anchor="start" fill="#1a1a1a">pval: 0.004</text>
<text transform="translate(31.30,844.90) rotate(-90)" x="0" y="3.33" font-size="9.25" text-anchor="middle" fill="#1a1a1a"><tspan font-style="italic">RIPK2</tspan> in HSPCs</text>
<text transform="translate(44.50,844.90) rotate(-90)" x="0" y="3.32" font-size="9.22" text-anchor="middle" fill="#1a1a1a">(Normalized counts)</text>
<rect x="279.10" y="798.70" width="151.70" height="92.60" fill="#fff" stroke="none" stroke-width="0.8"/>
<line x1="282.55" y1="798.70" x2="282.55" y2="891.30" stroke="#f4f4f4" stroke-width="0.6"/>
<line x1="317.03" y1="798.70" x2="317.03" y2="891.30" stroke="#f4f4f4" stroke-width="0.6"/>
<line x1="351.50" y1="798.70" x2="351.50" y2="891.30" stroke="#f4f4f4" stroke-width="0.6"/>
<line x1="385.98" y1="798.70" x2="385.98" y2="891.30" stroke="#f4f4f4" stroke-width="0.6"/>
<line x1="420.46" y1="798.70" x2="420.46" y2="891.30" stroke="#f4f4f4" stroke-width="0.6"/>
<line x1="279.10" y1="816.50" x2="430.80" y2="816.50" stroke="#f4f4f4" stroke-width="0.6"/>
<line x1="279.10" y1="842.10" x2="430.80" y2="842.10" stroke="#f4f4f4" stroke-width="0.6"/>
<line x1="279.10" y1="867.80" x2="430.80" y2="867.80" stroke="#f4f4f4" stroke-width="0.6"/>
<line x1="299.79" y1="798.70" x2="299.79" y2="891.30" stroke="#e6e6e6" stroke-width="0.9"/>
<line x1="334.26" y1="798.70" x2="334.26" y2="891.30" stroke="#e6e6e6" stroke-width="0.9"/>
<line x1="368.74" y1="798.70" x2="368.74" y2="891.30" stroke="#e6e6e6" stroke-width="0.9"/>
<line x1="403.22" y1="798.70" x2="403.22" y2="891.30" stroke="#e6e6e6" stroke-width="0.9"/>
<line x1="279.10" y1="803.70" x2="430.80" y2="803.70" stroke="#e6e6e6" stroke-width="0.9"/>
<line x1="279.10" y1="829.30" x2="430.80" y2="829.30" stroke="#e6e6e6" stroke-width="0.9"/>
<line x1="279.10" y1="855.00" x2="430.80" y2="855.00" stroke="#e6e6e6" stroke-width="0.9"/>
<line x1="279.10" y1="880.60" x2="430.80" y2="880.60" stroke="#e6e6e6" stroke-width="0.9"/>
<path d="M286.1 871.4h0M324.1 866.4h0M327.5 870.7h0M333.3 875.1h0M335.2 873.1h0M337.7 865.0h0M339.5 870.9h0M348.6 861.2h0M349.4 860.0h0M351.9 865.7h0M350.6 876.9h0M354.4 873.9h0M355.1 852.3h0M356.1 862.0h0M357.3 865.7h0M363.5 868.9h0M365.5 868.9h0M368.0 860.2h0M372.2 861.7h0M373.2 868.9h0M373.7 867.7h0M381.7 860.0h0M381.7 858.8h0M385.4 858.8h0M396.0 846.6h0M396.5 861.5h0M396.5 868.2h0M399.0 856.5h0M399.0 862.0h0M399.0 867.7h0M402.3 868.2h0M406.5 858.3h0M409.0 802.4h0M415.2 855.0h0M417.6 866.4h0M424.3 860.2h0M425.1 855.3h0M396.5 863.2h0" stroke="#8b1a1a" stroke-width="2.60" stroke-linecap="round" fill="none"/>
<path d="M286.1,866.4 L314.6,864.5 L346.9,860.7 L376.7,857.0 L399.0,853.3 L423.8,847.1 L423.8,860.7 L389.1,862.0 L364.3,864.5 L339.5,868.9 L314.6,875.6 L286.1,887.3Z" fill="#999999" stroke="none" stroke-width="1" fill-opacity="0.4"/>
<line x1="286.10" y1="876.87" x2="423.85" y2="854.04" stroke="#000" stroke-width="1.1"/>
<rect x="279.10" y="798.70" width="151.70" height="92.60" fill="none" stroke="#666" stroke-width="1.0"/>
<line x1="299.79" y1="891.30" x2="299.79" y2="893.30" stroke="#333" stroke-width="0.7"/>
<text x="299.79" y="899.40" font-size="6.4" text-anchor="middle" fill="#5b5068">1.00</text>
<line x1="334.26" y1="891.30" x2="334.26" y2="893.30" stroke="#333" stroke-width="0.7"/>
<text x="334.26" y="899.40" font-size="6.4" text-anchor="middle" fill="#5b5068">1.25</text>
<line x1="368.74" y1="891.30" x2="368.74" y2="893.30" stroke="#333" stroke-width="0.7"/>
<text x="368.74" y="899.40" font-size="6.4" text-anchor="middle" fill="#5b5068">1.50</text>
<line x1="403.22" y1="891.30" x2="403.22" y2="893.30" stroke="#333" stroke-width="0.7"/>
<text x="403.22" y="899.40" font-size="6.4" text-anchor="middle" fill="#5b5068">1.75</text>
<line x1="277.10" y1="803.70" x2="279.10" y2="803.70" stroke="#333" stroke-width="0.7"/>
<text x="276.50" y="806.11" font-size="6.7" text-anchor="end" fill="#5b5068">120000</text>
<line x1="277.10" y1="829.30" x2="279.10" y2="829.30" stroke="#333" stroke-width="0.7"/>
<text x="276.50" y="831.71" font-size="6.7" text-anchor="end" fill="#5b5068">80000</text>
<line x1="277.10" y1="855.00" x2="279.10" y2="855.00" stroke="#333" stroke-width="0.7"/>
<text x="276.50" y="857.41" font-size="6.7" text-anchor="end" fill="#5b5068">40000</text>
<line x1="277.10" y1="880.60" x2="279.10" y2="880.60" stroke="#333" stroke-width="0.7"/>
<text x="276.50" y="883.01" font-size="6.7" text-anchor="end" fill="#5b5068">0</text>
<text x="293.50" y="818.15" font-size="9.3" text-anchor="start" fill="#1a1a1a">r: 0.548</text>
<text x="293.50" y="826.81" font-size="9.2" text-anchor="start" fill="#1a1a1a">pval: 0.0005</text>
<text transform="translate(234.00,845.00) rotate(-90)" x="0" y="3.33" font-size="9.25" text-anchor="middle" fill="#1a1a1a"><tspan font-style="italic">TXNIP</tspan> in HSPCs</text>
<text transform="translate(247.20,845.00) rotate(-90)" x="0" y="3.32" font-size="9.22" text-anchor="middle" fill="#1a1a1a">(Normalized counts)</text>
<rect x="496.70" y="798.70" width="153.30" height="92.60" fill="#fff" stroke="none" stroke-width="0.8"/>
<line x1="500.18" y1="798.70" x2="500.18" y2="891.30" stroke="#f4f4f4" stroke-width="0.6"/>
<line x1="535.03" y1="798.70" x2="535.03" y2="891.30" stroke="#f4f4f4" stroke-width="0.6"/>
<line x1="569.87" y1="798.70" x2="569.87" y2="891.30" stroke="#f4f4f4" stroke-width="0.6"/>
<line x1="604.71" y1="798.70" x2="604.71" y2="891.30" stroke="#f4f4f4" stroke-width="0.6"/>
<line x1="639.55" y1="798.70" x2="639.55" y2="891.30" stroke="#f4f4f4" stroke-width="0.6"/>
<line x1="496.70" y1="805.95" x2="650.00" y2="805.95" stroke="#f4f4f4" stroke-width="0.6"/>
<line x1="496.70" y1="833.65" x2="650.00" y2="833.65" stroke="#f4f4f4" stroke-width="0.6"/>
<line x1="496.70" y1="861.35" x2="650.00" y2="861.35" stroke="#f4f4f4" stroke-width="0.6"/>
<line x1="496.70" y1="888.95" x2="650.00" y2="888.95" stroke="#f4f4f4" stroke-width="0.6"/>
<line x1="517.60" y1="798.70" x2="517.60" y2="891.30" stroke="#e6e6e6" stroke-width="0.9"/>
<line x1="552.45" y1="798.70" x2="552.45" y2="891.30" stroke="#e6e6e6" stroke-width="0.9"/>
<line x1="587.29" y1="798.70" x2="587.29" y2="891.30" stroke="#e6e6e6" stroke-width="0.9"/>
<line x1="622.13" y1="798.70" x2="622.13" y2="891.30" stroke="#e6e6e6" stroke-width="0.9"/>
<line x1="496.70" y1="819.80" x2="650.00" y2="819.80" stroke="#e6e6e6" stroke-width="0.9"/>
<line x1="496.70" y1="847.50" x2="650.00" y2="847.50" stroke="#e6e6e6" stroke-width="0.9"/>
<line x1="496.70" y1="875.10" x2="650.00" y2="875.10" stroke="#e6e6e6" stroke-width="0.9"/>
<path d="M503.6 873.9h0M542.1 873.9h0M545.3 867.7h0M551.5 869.9h0M552.5 868.4h0M556.5 867.7h0M557.7 867.4h0M566.4 867.7h0M567.7 866.4h0M568.6 867.4h0M570.1 868.7h0M572.4 862.7h0M573.6 854.3h0M574.4 858.5h0M574.8 872.7h0M581.8 868.7h0M583.0 868.2h0M586.3 865.9h0M590.0 840.6h0M591.2 861.7h0M591.7 864.0h0M599.7 866.4h0M600.4 871.4h0M602.4 868.9h0M614.1 863.2h0M614.6 860.0h0M614.8 873.6h0M616.5 868.9h0M617.3 864.5h0M617.8 802.4h0M621.0 821.8h0M625.2 866.2h0M627.2 871.4h0M633.9 848.3h0M635.9 859.5h0M643.1 859.5h0M643.1 870.9h0M614.1 873.4h0" stroke="#8b1a1a" stroke-width="2.60" stroke-linecap="round" fill="none"/>
<path d="M503.6,861.5 L534.6,862.0 L566.9,860.7 L596.7,857.0 L619.0,853.3 L642.6,847.1 L642.6,863.7 L609.1,864.0 L584.3,865.7 L559.5,869.4 L534.6,875.6 L503.6,887.3Z" fill="#999999" stroke="none" stroke-width="1" fill-opacity="0.4"/>
<line x1="503.62" y1="874.39" x2="642.61" y2="855.03" stroke="#000" stroke-width="1.1"/>
<rect x="496.70" y="798.70" width="153.30" height="92.60" fill="none" stroke="#666" stroke-width="1.0"/>
<line x1="517.60" y1="891.30" x2="517.60" y2="893.30" stroke="#333" stroke-width="0.7"/>
<text x="517.60" y="899.40" font-size="6.4" text-anchor="middle" fill="#5b5068">1.00</text>
<line x1="552.45" y1="891.30" x2="552.45" y2="893.30" stroke="#333" stroke-width="0.7"/>
<text x="552.45" y="899.40" font-size="6.4" text-anchor="middle" fill="#5b5068">1.25</text>
<line x1="587.29" y1="891.30" x2="587.29" y2="893.30" stroke="#333" stroke-width="0.7"/>
<text x="587.29" y="899.40" font-size="6.4" text-anchor="middle" fill="#5b5068">1.50</text>
<line x1="622.13" y1="891.30" x2="622.13" y2="893.30" stroke="#333" stroke-width="0.7"/>
<text x="622.13" y="899.40" font-size="6.4" text-anchor="middle" fill="#5b5068">1.75</text>
<line x1="494.70" y1="819.80" x2="496.70" y2="819.80" stroke="#333" stroke-width="0.7"/>
<text x="494.10" y="822.21" font-size="6.7" text-anchor="end" fill="#5b5068">10000</text>
<line x1="494.70" y1="847.50" x2="496.70" y2="847.50" stroke="#333" stroke-width="0.7"/>
<text x="494.10" y="849.91" font-size="6.7" text-anchor="end" fill="#5b5068">5000</text>
<line x1="494.70" y1="875.10" x2="496.70" y2="875.10" stroke="#333" stroke-width="0.7"/>
<text x="494.10" y="877.51" font-size="6.7" text-anchor="end" fill="#5b5068">0</text>
<text x="506.80" y="818.15" font-size="9.3" text-anchor="start" fill="#1a1a1a">r: 0.358</text>
<text x="506.80" y="826.81" font-size="9.2" text-anchor="start" fill="#1a1a1a">pval: 0.027</text>
<text transform="translate(449.00,845.00) rotate(-90)" x="0" y="3.33" font-size="9.25" text-anchor="middle" fill="#1a1a1a"><tspan font-style="italic">GADD45B</tspan> in HSPCs</text>
<text transform="translate(462.20,845.00) rotate(-90)" x="0" y="3.32" font-size="9.22" text-anchor="middle" fill="#1a1a1a">(Normalized counts)</text>
<text x="144.00" y="787.12" font-size="9.23" text-anchor="middle" fill="#1a1a1a">iBMSC score in BMSCs</text>
<text x="358.40" y="787.12" font-size="9.23" text-anchor="middle" fill="#1a1a1a">iBMSC score in BMSCs</text>
<text x="572.90" y="787.12" font-size="9.23" text-anchor="middle" fill="#1a1a1a">iBMSC score in BMSCs</text>
<text x="144.00" y="923.52" font-size="9.23" text-anchor="middle" fill="#1a1a1a">iBMSC score in BMSCs</text>
<text x="360.20" y="923.52" font-size="9.23" text-anchor="middle" fill="#1a1a1a">iBMSC score in BMSCs</text>
<text x="572.90" y="923.52" font-size="9.23" text-anchor="middle" fill="#1a1a1a">iBMSC score in BMSCs</text>
</svg></body></html>
